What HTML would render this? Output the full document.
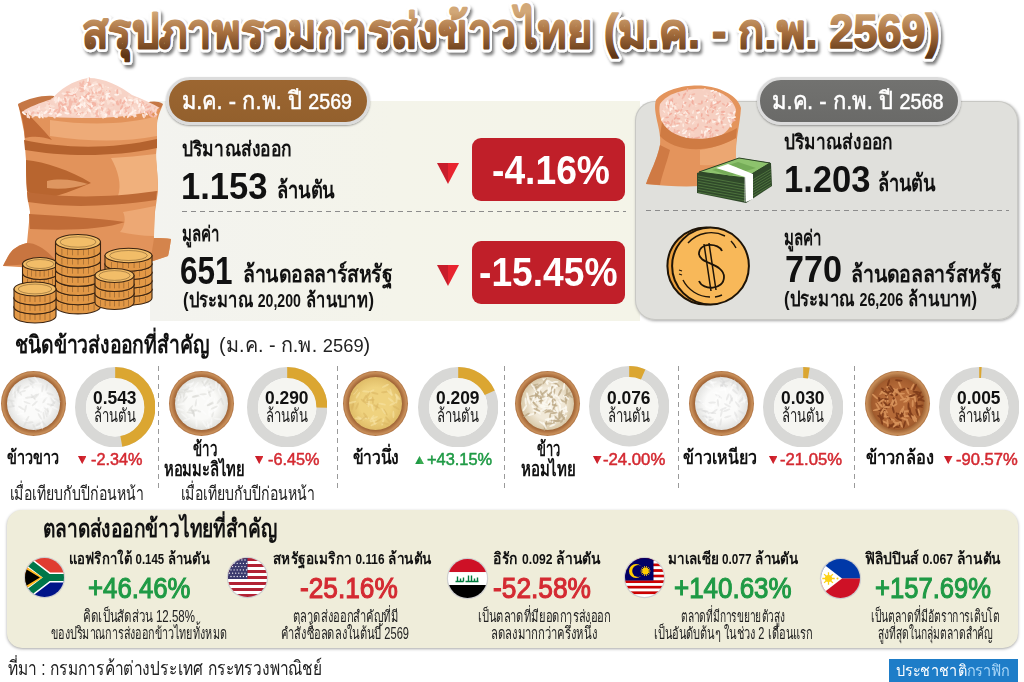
<!DOCTYPE html>
<html><head><meta charset="utf-8"><title>สรุปภาพรวมการส่งข้าวไทย</title>
<style>
*{margin:0;padding:0;box-sizing:border-box}
html,body{width:1024px;height:682px;overflow:hidden;background:#fff}
body{font-family:"Liberation Sans",sans-serif}
svg text{font-family:"Liberation Sans",sans-serif}
.pg{position:relative;width:1024px;height:682px;overflow:hidden;background:#fff}
.ab{position:absolute;display:block}
.t{position:absolute;white-space:nowrap;line-height:1;transform-origin:0 0}
.tsh{text-shadow:0 0 2px #fff,2px 0 0 #fff,-2px 0 0 #fff,0 2px 0 #fff,0 -2px 0 #fff,2px 2px 0 #fff,-2px -2px 0 #fff,2px -2px 0 #fff,-2px 2px 0 #fff,3px 0 0 #fff,-3px 0 0 #fff,0 3px 0 #fff,0 -3px 0 #fff,3px 4px 4px rgba(0,0,0,.55)}
.tgr{background:linear-gradient(180deg,#c99a68 0%,#a87244 45%,#6b3f1c 100%);-webkit-background-clip:text;background-clip:text;-webkit-text-fill-color:transparent;color:transparent}
.pill{border-radius:24px;border:3px solid #dcdcdc;box-shadow:0 1px 2px rgba(0,0,0,.35)}
.rbox{background:#c01f29;border-radius:9px}
.dash{height:1px;background:repeating-linear-gradient(90deg,#8c8c8c 0 5px,transparent 5px 9px)}
.vdash{width:1px;background:repeating-linear-gradient(180deg,#9a9a9a 0 5px,transparent 5px 9px)}
</style></head>
<body>
<div class="pg">
<div class="ab" style="left:150px;top:101px;width:490px;height:220px;background:linear-gradient(90deg,#f3f3ef 0%,#f4f4ea 50%,#f4f4e8 100%);"></div>
<div class="ab" style="left:635px;top:101px;width:383px;height:219px;background:#e0e0dc;border-radius:20px;box-shadow:1px 1px 3px rgba(0,0,0,.35), inset 0 0 0 1px #c8c8c4;"></div>
<svg class="ab" style="left:0;top:0" width="1024" height="80" viewBox="0 0 1024 80"><defs><linearGradient id="tg" x1="0" y1="12" x2="0" y2="56" gradientUnits="userSpaceOnUse"><stop offset="0" stop-color="#d2a878"/><stop offset="0.45" stop-color="#a8703f"/><stop offset="1" stop-color="#5e3515"/></linearGradient><filter id="tsh" x="-5%" y="-30%" width="110%" height="160%"><feDropShadow dx="2" dy="3" stdDeviation="1.8" flood-color="#000" flood-opacity="0.5"/></filter></defs><text x="82" y="48" font-size="48" font-weight="700" textLength="858" lengthAdjust="spacingAndGlyphs" fill="#fff" stroke="#fff" stroke-width="7" stroke-linejoin="round" filter="url(#tsh)">สรุปภาพรวมการส่งข้าวไทย (ม.ค. - ก.พ. 2569)</text><text x="82" y="48" font-size="48" font-weight="700" textLength="858" lengthAdjust="spacingAndGlyphs" fill="url(#tg)" stroke="url(#tg)" stroke-width="1.6" stroke-linejoin="round">สรุปภาพรวมการส่งข้าวไทย (ม.ค. - ก.พ. 2569)</text></svg>
<div class="ab pill" style="left:165.5px;top:76.5px;width:204.5px;height:48.5px;background:linear-gradient(180deg,#9c6631,#93602d);"></div>
<div id="t0" class="t" style="left:182.00px;transform:scaleX(0.8920);top:89.1px;font-size:24.5px;font-weight:400;color:#fff;-webkit-text-stroke:0.5px #fff;">ม.ค. - ก.พ. ปี <span style="font-size:22px">2569</span></div>
<div class="ab pill" style="left:756.5px;top:76.5px;width:204.5px;height:48.5px;background:linear-gradient(180deg,#727270,#6a6a68);"></div>
<div id="t1" class="t" style="left:772.00px;transform:scaleX(0.8999);top:89.1px;font-size:24.5px;font-weight:400;color:#fff;-webkit-text-stroke:0.5px #fff;">ม.ค. - ก.พ. ปี <span style="font-size:22px">2568</span></div>
<div id="t2" class="t" style="left:182.00px;transform:scaleX(0.8516);top:138.6px;font-size:20.5px;font-weight:700;color:#111;">ปริมาณส่งออก</div>
<div id="t3" class="t" style="left:180.50px;transform:scaleX(0.9217);top:168.1px;font-size:37.5px;font-weight:700;color:#111;">1.153</div>
<div id="t4" class="t" style="left:276.50px;transform:scaleX(0.7811);top:178.7px;font-size:23.5px;font-weight:700;color:#111;">ล้านตัน</div>
<div class="ab dash" style="left:182px;top:211px;width:444px;"></div>
<div id="t5" class="t" style="left:182.00px;transform:scaleX(0.7170);top:223.2px;font-size:21px;font-weight:700;color:#111;">มูลค่า</div>
<div id="t6" class="t" style="left:179.50px;transform:scaleX(0.8280);top:251.5px;font-size:38px;font-weight:700;color:#111;">651</div>
<div id="t7" class="t" style="left:243.00px;transform:scaleX(0.8287);top:263.3px;font-size:23.5px;font-weight:700;color:#111;">ล้านดอลลาร์สหรัฐ</div>
<div id="t8" class="t" style="left:182.50px;transform:scaleX(0.8073);top:289.6px;font-size:20.5px;font-weight:700;color:#111;">(ประมาณ <span style="font-size:17.5px">20,200</span> ล้านบาท)</div>
<svg class="ab" style="left:437px;top:162.5px" width="22" height="21" viewBox="0 0 22 21"><path d="M0,0 L11,0 L11,21Z" fill="#c71d2b"/><path d="M11,0 L22,0 L11,21Z" fill="#e8242f"/></svg>
<svg class="ab" style="left:437px;top:265px" width="22" height="21" viewBox="0 0 22 21"><path d="M0,0 L11,0 L11,21Z" fill="#c71d2b"/><path d="M11,0 L22,0 L11,21Z" fill="#e8242f"/></svg>
<div class="ab rbox" style="left:472px;top:138px;width:153px;height:63px;"></div>
<div id="t9" class="t" style="left:491.50px;transform:scaleX(0.9082);top:149.7px;font-size:41px;font-weight:700;color:#fff;">-4.16%</div>
<div class="ab rbox" style="left:472px;top:241px;width:153px;height:63px;"></div>
<div id="t10" class="t" style="left:478.60px;transform:scaleX(0.9069);top:252.2px;font-size:41px;font-weight:700;color:#fff;">-15.45%</div>
<div id="t11" class="t" style="left:784.20px;transform:scaleX(0.8438);top:132.1px;font-size:20.5px;font-weight:700;color:#111;">ปริมาณส่งออก</div>
<div id="t12" class="t" style="left:783.50px;transform:scaleX(0.9342);top:160.8px;font-size:37px;font-weight:700;color:#111;">1.203</div>
<div id="t13" class="t" style="left:878.40px;transform:scaleX(0.7770);top:172.0px;font-size:23.5px;font-weight:700;color:#111;">ล้านตัน</div>
<div class="ab dash" style="left:646px;top:210px;width:363px;"></div>
<div id="t14" class="t" style="left:783.70px;transform:scaleX(0.7170);top:227.0px;font-size:21px;font-weight:700;color:#111;">มูลค่า</div>
<div id="t15" class="t" style="left:784.50px;transform:scaleX(0.9109);top:251.1px;font-size:37.5px;font-weight:700;color:#111;">770</div>
<div id="t16" class="t" style="left:850.50px;transform:scaleX(0.8343);top:262.7px;font-size:23.5px;font-weight:700;color:#111;">ล้านดอลลาร์สหรัฐ</div>
<div id="t17" class="t" style="left:783.50px;transform:scaleX(0.8157);top:288.6px;font-size:20.5px;font-weight:700;color:#111;">(ประมาณ <span style="font-size:17.5px">26,206</span> ล้านบาท)</div>
<svg class="ab" style="left:0;top:70px" width="180" height="260" viewBox="0 70 180 260"><path d="M18,104 C40,110 70,116 95,116 C125,116 148,110 163,104 C160,112 157,118 157,126 C157,134 157,140 157,146 C156,152 156,156 156,160 C157,170 158,180 158,191 C157,198 156,205 155,212 C154,222 154,232 154,238 C160,238 166,238 171,239 C170,246 169,252 168,256 L150,262 L100,272 L3,266 C7,258 10,252 14,249 C18,246 22,244 27,243 C28,232 29,222 30,212 C29,205 27,198 27,191 C26,180 26,170 26,160 C25,150 25,140 24,132 C22,122 20,112 18,104 Z" fill="#e2935b"/><path d="M50,120 C90,126 130,124 157,116 L157,136 C125,142 90,142 50,136 Z" fill="#eeab78"/><path d="M18,104 C22,116 24,126 25,138 C32,136 42,136 52,140 C42,128 30,116 18,104 Z" fill="#c06a36"/><path d="M24,140 C60,148 110,150 157,139 L157,148 C110,158 60,156 25,150 Z" fill="#b4622e"/><path d="M26,160 C45,162 70,170 91,183 C75,190 58,196 41,200 C35,196 30,194 27,191 C26,180 26,170 26,160 Z" fill="#b8652f"/><path d="M47,181 C60,178 75,180 88,184 C75,188 60,190 47,188 Z" fill="#de9660"/><path d="M111,158 C125,157 140,156 156,154 C157,170 158,180 158,191 C145,194 130,196 118,196 C122,185 118,170 111,158 Z" fill="#f0b07c"/><path d="M27,192 C60,197 100,199 157,191 L156,200 C100,208 60,207 28,202 Z" fill="#bd6a36"/><path d="M29,214 C60,216 95,218 125,222 C105,229 70,231 30,229 Z" fill="#c06c38"/><path d="M123,212 C135,210 145,208 155,206 L154,236 C142,236 130,234 120,232 C125,226 126,218 123,212 Z" fill="#eda874"/><path d="M27,243 C37,243 47,250 57,262 L3,266 C7,258 10,252 14,249 C18,246 22,244 27,243 Z" fill="#c87540"/><path d="M154,238 C160,238 166,238 171,239 C170,246 169,252 168,256 L150,262 C152,252 153,245 154,238 Z" fill="#d4844c"/><path d="M18,104 C30,98 42,95 54,96 L56,103 C42,104 30,107 22,111 Z" fill="#c57745"/><path d="M146,103 C152,101 158,101 163,104 L160,109 L148,108Z" fill="#c57745"/><path d="M22,112 C28,107 40,103 52,99 C60,89 72,81 88,78 C105,78 120,86 132,95 C142,99 152,103 160,108 C140,116 110,118 90,118 C60,118 40,117 22,112 Z" fill="#f7d3c6"/><ellipse cx="55.9" cy="99.3" rx="2.6" ry="1.1" fill="#fbe0d4" transform="rotate(67 55.9 99.3)"/><ellipse cx="87.5" cy="100.8" rx="2.6" ry="1.1" fill="#fff3ed" transform="rotate(109 87.5 100.8)"/><ellipse cx="109.1" cy="112.6" rx="2.6" ry="1.1" fill="#f4b6a6" transform="rotate(94 109.1 112.6)"/><ellipse cx="45.4" cy="116.3" rx="2.6" ry="1.1" fill="#f9d8cb" transform="rotate(8 45.4 116.3)"/><ellipse cx="103.7" cy="114.7" rx="2.6" ry="1.1" fill="#fff3ed" transform="rotate(70 103.7 114.7)"/><ellipse cx="76.9" cy="109.8" rx="2.6" ry="1.1" fill="#fde7de" transform="rotate(80 76.9 109.8)"/><ellipse cx="108.0" cy="89.3" rx="2.6" ry="1.1" fill="#fff3ed" transform="rotate(91 108.0 89.3)"/><ellipse cx="100.9" cy="98.9" rx="2.6" ry="1.1" fill="#fde7de" transform="rotate(73 100.9 98.9)"/><ellipse cx="145.2" cy="105.0" rx="2.6" ry="1.1" fill="#f5bcac" transform="rotate(167 145.2 105.0)"/><ellipse cx="45.9" cy="112.3" rx="2.6" ry="1.1" fill="#fbe0d4" transform="rotate(174 45.9 112.3)"/><ellipse cx="100.3" cy="106.3" rx="2.6" ry="1.1" fill="#fbe0d4" transform="rotate(38 100.3 106.3)"/><ellipse cx="88.6" cy="103.2" rx="2.6" ry="1.1" fill="#f5bcac" transform="rotate(87 88.6 103.2)"/><ellipse cx="127.0" cy="112.8" rx="2.6" ry="1.1" fill="#fbe0d4" transform="rotate(8 127.0 112.8)"/><ellipse cx="102.6" cy="99.6" rx="2.6" ry="1.1" fill="#f5bcac" transform="rotate(166 102.6 99.6)"/><ellipse cx="29.7" cy="112.6" rx="2.6" ry="1.1" fill="#fde7de" transform="rotate(56 29.7 112.6)"/><ellipse cx="85.7" cy="98.3" rx="2.6" ry="1.1" fill="#fbe0d4" transform="rotate(116 85.7 98.3)"/><ellipse cx="154.4" cy="110.3" rx="2.6" ry="1.1" fill="#f4b6a6" transform="rotate(49 154.4 110.3)"/><ellipse cx="93.8" cy="99.5" rx="2.6" ry="1.1" fill="#fff3ed" transform="rotate(2 93.8 99.5)"/><ellipse cx="74.5" cy="101.2" rx="2.6" ry="1.1" fill="#f4b6a6" transform="rotate(24 74.5 101.2)"/><ellipse cx="108.1" cy="96.1" rx="2.6" ry="1.1" fill="#f5bcac" transform="rotate(122 108.1 96.1)"/><ellipse cx="105.6" cy="88.4" rx="2.6" ry="1.1" fill="#fbe0d4" transform="rotate(88 105.6 88.4)"/><ellipse cx="85.1" cy="101.3" rx="2.6" ry="1.1" fill="#f5bcac" transform="rotate(58 85.1 101.3)"/><ellipse cx="48.8" cy="108.1" rx="2.6" ry="1.1" fill="#f5bcac" transform="rotate(152 48.8 108.1)"/><ellipse cx="100.3" cy="107.1" rx="2.6" ry="1.1" fill="#fde7de" transform="rotate(56 100.3 107.1)"/><ellipse cx="67.9" cy="104.8" rx="2.6" ry="1.1" fill="#f9d8cb" transform="rotate(117 67.9 104.8)"/><ellipse cx="68.7" cy="111.2" rx="2.6" ry="1.1" fill="#fde7de" transform="rotate(79 68.7 111.2)"/><ellipse cx="53.2" cy="100.3" rx="2.6" ry="1.1" fill="#f9d8cb" transform="rotate(49 53.2 100.3)"/><ellipse cx="28.5" cy="116.3" rx="2.6" ry="1.1" fill="#fbe0d4" transform="rotate(57 28.5 116.3)"/><ellipse cx="132.2" cy="103.3" rx="2.6" ry="1.1" fill="#f5bcac" transform="rotate(145 132.2 103.3)"/><ellipse cx="103.0" cy="94.3" rx="2.6" ry="1.1" fill="#f5bcac" transform="rotate(93 103.0 94.3)"/><ellipse cx="86.3" cy="103.0" rx="2.6" ry="1.1" fill="#fbe0d4" transform="rotate(52 86.3 103.0)"/><ellipse cx="78.9" cy="114.7" rx="2.6" ry="1.1" fill="#f9d8cb" transform="rotate(28 78.9 114.7)"/><ellipse cx="88.0" cy="111.1" rx="2.6" ry="1.1" fill="#fbe0d4" transform="rotate(112 88.0 111.1)"/><ellipse cx="82.2" cy="116.0" rx="2.6" ry="1.1" fill="#fde7de" transform="rotate(167 82.2 116.0)"/><ellipse cx="125.0" cy="107.7" rx="2.6" ry="1.1" fill="#fbe0d4" transform="rotate(173 125.0 107.7)"/><ellipse cx="62.5" cy="110.2" rx="2.6" ry="1.1" fill="#f4b6a6" transform="rotate(8 62.5 110.2)"/><ellipse cx="92.6" cy="85.1" rx="2.6" ry="1.1" fill="#fff3ed" transform="rotate(159 92.6 85.1)"/><ellipse cx="64.2" cy="104.2" rx="2.6" ry="1.1" fill="#fff3ed" transform="rotate(94 64.2 104.2)"/><ellipse cx="31.1" cy="114.4" rx="2.6" ry="1.1" fill="#fde7de" transform="rotate(20 31.1 114.4)"/><ellipse cx="57.8" cy="112.3" rx="2.6" ry="1.1" fill="#f9d8cb" transform="rotate(86 57.8 112.3)"/><ellipse cx="95.6" cy="110.5" rx="2.6" ry="1.1" fill="#f5bcac" transform="rotate(31 95.6 110.5)"/><ellipse cx="147.5" cy="110.0" rx="2.6" ry="1.1" fill="#f9d8cb" transform="rotate(148 147.5 110.0)"/><ellipse cx="89.3" cy="100.4" rx="2.6" ry="1.1" fill="#f5bcac" transform="rotate(72 89.3 100.4)"/><ellipse cx="57.3" cy="102.3" rx="2.6" ry="1.1" fill="#f9d8cb" transform="rotate(94 57.3 102.3)"/><ellipse cx="87.4" cy="108.8" rx="2.6" ry="1.1" fill="#f9d8cb" transform="rotate(0 87.4 108.8)"/><ellipse cx="93.1" cy="97.1" rx="2.6" ry="1.1" fill="#f9d8cb" transform="rotate(28 93.1 97.1)"/><ellipse cx="71.1" cy="103.5" rx="2.6" ry="1.1" fill="#f5bcac" transform="rotate(106 71.1 103.5)"/><ellipse cx="130.6" cy="100.2" rx="2.6" ry="1.1" fill="#fff3ed" transform="rotate(8 130.6 100.2)"/><ellipse cx="105.0" cy="109.1" rx="2.6" ry="1.1" fill="#f9d8cb" transform="rotate(68 105.0 109.1)"/><ellipse cx="107.5" cy="94.7" rx="2.6" ry="1.1" fill="#fff3ed" transform="rotate(67 107.5 94.7)"/><ellipse cx="60.2" cy="101.2" rx="2.6" ry="1.1" fill="#fde7de" transform="rotate(145 60.2 101.2)"/><ellipse cx="81.1" cy="113.1" rx="2.6" ry="1.1" fill="#f5bcac" transform="rotate(169 81.1 113.1)"/><ellipse cx="116.5" cy="115.5" rx="2.6" ry="1.1" fill="#fbe0d4" transform="rotate(132 116.5 115.5)"/><ellipse cx="130.2" cy="104.4" rx="2.6" ry="1.1" fill="#fbe0d4" transform="rotate(132 130.2 104.4)"/><ellipse cx="95.3" cy="110.3" rx="2.6" ry="1.1" fill="#fff3ed" transform="rotate(129 95.3 110.3)"/><ellipse cx="43.2" cy="108.7" rx="2.6" ry="1.1" fill="#f9d8cb" transform="rotate(8 43.2 108.7)"/><ellipse cx="99.6" cy="104.0" rx="2.6" ry="1.1" fill="#f9d8cb" transform="rotate(68 99.6 104.0)"/><ellipse cx="69.8" cy="111.9" rx="2.6" ry="1.1" fill="#f9d8cb" transform="rotate(5 69.8 111.9)"/><ellipse cx="114.3" cy="111.3" rx="2.6" ry="1.1" fill="#fbe0d4" transform="rotate(171 114.3 111.3)"/><ellipse cx="94.9" cy="86.8" rx="2.6" ry="1.1" fill="#f9d8cb" transform="rotate(100 94.9 86.8)"/><ellipse cx="67.4" cy="100.1" rx="2.6" ry="1.1" fill="#fde7de" transform="rotate(149 67.4 100.1)"/><ellipse cx="84.9" cy="105.7" rx="2.6" ry="1.1" fill="#f5bcac" transform="rotate(170 84.9 105.7)"/><ellipse cx="73.2" cy="93.3" rx="2.6" ry="1.1" fill="#fff3ed" transform="rotate(63 73.2 93.3)"/><ellipse cx="55.5" cy="115.1" rx="2.6" ry="1.1" fill="#fde7de" transform="rotate(152 55.5 115.1)"/><ellipse cx="79.6" cy="100.3" rx="2.6" ry="1.1" fill="#fbe0d4" transform="rotate(104 79.6 100.3)"/><ellipse cx="77.7" cy="113.4" rx="2.6" ry="1.1" fill="#fff3ed" transform="rotate(29 77.7 113.4)"/><ellipse cx="124.3" cy="114.6" rx="2.6" ry="1.1" fill="#fff3ed" transform="rotate(93 124.3 114.6)"/><ellipse cx="102.6" cy="112.2" rx="2.6" ry="1.1" fill="#fde7de" transform="rotate(25 102.6 112.2)"/><ellipse cx="149.3" cy="111.9" rx="2.6" ry="1.1" fill="#f5bcac" transform="rotate(97 149.3 111.9)"/><ellipse cx="114.0" cy="112.1" rx="2.6" ry="1.1" fill="#fbe0d4" transform="rotate(107 114.0 112.1)"/><ellipse cx="102.3" cy="88.0" rx="2.6" ry="1.1" fill="#f9d8cb" transform="rotate(39 102.3 88.0)"/><ellipse cx="59.9" cy="110.0" rx="2.6" ry="1.1" fill="#fbe0d4" transform="rotate(36 59.9 110.0)"/><ellipse cx="72.3" cy="90.2" rx="2.6" ry="1.1" fill="#fde7de" transform="rotate(139 72.3 90.2)"/><ellipse cx="80.1" cy="105.6" rx="2.6" ry="1.1" fill="#fde7de" transform="rotate(126 80.1 105.6)"/><ellipse cx="86.7" cy="111.2" rx="2.6" ry="1.1" fill="#fbe0d4" transform="rotate(148 86.7 111.2)"/><ellipse cx="33.7" cy="115.8" rx="2.6" ry="1.1" fill="#f9d8cb" transform="rotate(141 33.7 115.8)"/><ellipse cx="86.6" cy="86.4" rx="2.6" ry="1.1" fill="#f4b6a6" transform="rotate(42 86.6 86.4)"/><ellipse cx="143.3" cy="108.8" rx="2.6" ry="1.1" fill="#fbe0d4" transform="rotate(25 143.3 108.8)"/><ellipse cx="118.4" cy="112.2" rx="2.6" ry="1.1" fill="#f5bcac" transform="rotate(162 118.4 112.2)"/><ellipse cx="59.4" cy="114.5" rx="2.6" ry="1.1" fill="#fff3ed" transform="rotate(7 59.4 114.5)"/><ellipse cx="101.8" cy="104.7" rx="2.6" ry="1.1" fill="#f5bcac" transform="rotate(1 101.8 104.7)"/><ellipse cx="68.4" cy="92.6" rx="2.6" ry="1.1" fill="#f4b6a6" transform="rotate(14 68.4 92.6)"/><ellipse cx="102.4" cy="116.2" rx="2.6" ry="1.1" fill="#fbe0d4" transform="rotate(70 102.4 116.2)"/><ellipse cx="66.7" cy="113.2" rx="2.6" ry="1.1" fill="#fff3ed" transform="rotate(14 66.7 113.2)"/><ellipse cx="39.1" cy="113.4" rx="2.6" ry="1.1" fill="#f9d8cb" transform="rotate(164 39.1 113.4)"/><ellipse cx="94.7" cy="105.7" rx="2.6" ry="1.1" fill="#f5bcac" transform="rotate(122 94.7 105.7)"/><ellipse cx="114.6" cy="103.8" rx="2.6" ry="1.1" fill="#f5bcac" transform="rotate(145 114.6 103.8)"/><ellipse cx="38.4" cy="115.7" rx="2.6" ry="1.1" fill="#fbe0d4" transform="rotate(61 38.4 115.7)"/><ellipse cx="90.2" cy="91.4" rx="2.6" ry="1.1" fill="#f4b6a6" transform="rotate(129 90.2 91.4)"/><ellipse cx="121.5" cy="107.4" rx="2.6" ry="1.1" fill="#f4b6a6" transform="rotate(116 121.5 107.4)"/><ellipse cx="143.2" cy="103.9" rx="2.6" ry="1.1" fill="#fbe0d4" transform="rotate(22 143.2 103.9)"/><ellipse cx="120.5" cy="101.5" rx="2.6" ry="1.1" fill="#f4b6a6" transform="rotate(100 120.5 101.5)"/><ellipse cx="128.8" cy="105.9" rx="2.6" ry="1.1" fill="#fde7de" transform="rotate(19 128.8 105.9)"/><ellipse cx="125.1" cy="99.3" rx="2.6" ry="1.1" fill="#f5bcac" transform="rotate(133 125.1 99.3)"/><ellipse cx="88.1" cy="88.1" rx="2.6" ry="1.1" fill="#fbe0d4" transform="rotate(125 88.1 88.1)"/><ellipse cx="71.5" cy="90.6" rx="2.6" ry="1.1" fill="#fbe0d4" transform="rotate(73 71.5 90.6)"/><ellipse cx="115.3" cy="100.1" rx="2.6" ry="1.1" fill="#f9d8cb" transform="rotate(164 115.3 100.1)"/><ellipse cx="79.8" cy="107.5" rx="2.6" ry="1.1" fill="#f4b6a6" transform="rotate(147 79.8 107.5)"/><ellipse cx="139.2" cy="109.7" rx="2.6" ry="1.1" fill="#fde7de" transform="rotate(98 139.2 109.7)"/><ellipse cx="100.2" cy="85.3" rx="2.6" ry="1.1" fill="#f5bcac" transform="rotate(45 100.2 85.3)"/><ellipse cx="143.4" cy="115.9" rx="2.6" ry="1.1" fill="#fbe0d4" transform="rotate(69 143.4 115.9)"/><ellipse cx="90.7" cy="98.7" rx="2.6" ry="1.1" fill="#f4b6a6" transform="rotate(127 90.7 98.7)"/><ellipse cx="88.9" cy="101.7" rx="2.6" ry="1.1" fill="#f9d8cb" transform="rotate(131 88.9 101.7)"/><ellipse cx="38.4" cy="108.0" rx="2.6" ry="1.1" fill="#fde7de" transform="rotate(42 38.4 108.0)"/><ellipse cx="94.2" cy="95.9" rx="2.6" ry="1.1" fill="#fbe0d4" transform="rotate(35 94.2 95.9)"/><ellipse cx="52.4" cy="110.3" rx="2.6" ry="1.1" fill="#fff3ed" transform="rotate(167 52.4 110.3)"/><ellipse cx="86.6" cy="80.6" rx="2.6" ry="1.1" fill="#f9d8cb" transform="rotate(166 86.6 80.6)"/><ellipse cx="140.6" cy="105.5" rx="2.6" ry="1.1" fill="#fbe0d4" transform="rotate(24 140.6 105.5)"/><ellipse cx="66.3" cy="109.3" rx="2.6" ry="1.1" fill="#fde7de" transform="rotate(74 66.3 109.3)"/><ellipse cx="118.6" cy="93.1" rx="2.6" ry="1.1" fill="#f9d8cb" transform="rotate(85 118.6 93.1)"/><ellipse cx="96.0" cy="94.3" rx="2.6" ry="1.1" fill="#f5bcac" transform="rotate(117 96.0 94.3)"/><ellipse cx="116.6" cy="95.0" rx="2.6" ry="1.1" fill="#f9d8cb" transform="rotate(82 116.6 95.0)"/><ellipse cx="120.4" cy="92.0" rx="2.6" ry="1.1" fill="#fbe0d4" transform="rotate(67 120.4 92.0)"/><ellipse cx="72.4" cy="93.5" rx="2.6" ry="1.1" fill="#fde7de" transform="rotate(175 72.4 93.5)"/><ellipse cx="102.3" cy="97.6" rx="2.6" ry="1.1" fill="#fde7de" transform="rotate(115 102.3 97.6)"/><ellipse cx="78.6" cy="105.8" rx="2.6" ry="1.1" fill="#fff3ed" transform="rotate(9 78.6 105.8)"/><ellipse cx="145.8" cy="113.2" rx="2.6" ry="1.1" fill="#fff3ed" transform="rotate(43 145.8 113.2)"/><ellipse cx="87.6" cy="83.8" rx="2.6" ry="1.1" fill="#f5bcac" transform="rotate(112 87.6 83.8)"/><ellipse cx="155.5" cy="115.6" rx="2.6" ry="1.1" fill="#f5bcac" transform="rotate(142 155.5 115.6)"/><ellipse cx="89.5" cy="100.0" rx="2.6" ry="1.1" fill="#f5bcac" transform="rotate(5 89.5 100.0)"/><ellipse cx="108.3" cy="91.1" rx="2.6" ry="1.1" fill="#f4b6a6" transform="rotate(17 108.3 91.1)"/><ellipse cx="91.4" cy="96.8" rx="2.6" ry="1.1" fill="#fbe0d4" transform="rotate(34 91.4 96.8)"/><ellipse cx="131.7" cy="114.6" rx="2.6" ry="1.1" fill="#f9d8cb" transform="rotate(169 131.7 114.6)"/><ellipse cx="75.2" cy="107.8" rx="2.6" ry="1.1" fill="#fff3ed" transform="rotate(114 75.2 107.8)"/><ellipse cx="76.2" cy="90.7" rx="2.6" ry="1.1" fill="#fff3ed" transform="rotate(122 76.2 90.7)"/><ellipse cx="47.4" cy="107.3" rx="2.6" ry="1.1" fill="#fbe0d4" transform="rotate(132 47.4 107.3)"/><ellipse cx="83.6" cy="105.8" rx="2.6" ry="1.1" fill="#fde7de" transform="rotate(62 83.6 105.8)"/><ellipse cx="91.9" cy="107.9" rx="2.6" ry="1.1" fill="#f4b6a6" transform="rotate(165 91.9 107.9)"/><ellipse cx="75.8" cy="97.0" rx="2.6" ry="1.1" fill="#f4b6a6" transform="rotate(28 75.8 97.0)"/><ellipse cx="124.7" cy="110.7" rx="2.6" ry="1.1" fill="#f4b6a6" transform="rotate(17 124.7 110.7)"/><ellipse cx="55.8" cy="111.6" rx="2.6" ry="1.1" fill="#fbe0d4" transform="rotate(116 55.8 111.6)"/><ellipse cx="144.2" cy="107.0" rx="2.6" ry="1.1" fill="#f5bcac" transform="rotate(60 144.2 107.0)"/><ellipse cx="129.4" cy="114.5" rx="2.6" ry="1.1" fill="#f5bcac" transform="rotate(61 129.4 114.5)"/><ellipse cx="110.4" cy="101.0" rx="2.6" ry="1.1" fill="#fde7de" transform="rotate(2 110.4 101.0)"/><ellipse cx="91.7" cy="114.2" rx="2.6" ry="1.1" fill="#fbe0d4" transform="rotate(57 91.7 114.2)"/><ellipse cx="128.8" cy="96.2" rx="2.6" ry="1.1" fill="#f9d8cb" transform="rotate(112 128.8 96.2)"/><ellipse cx="50.7" cy="113.6" rx="2.6" ry="1.1" fill="#fff3ed" transform="rotate(15 50.7 113.6)"/><ellipse cx="77.5" cy="110.8" rx="2.6" ry="1.1" fill="#f9d8cb" transform="rotate(123 77.5 110.8)"/><ellipse cx="110.0" cy="108.2" rx="2.6" ry="1.1" fill="#f5bcac" transform="rotate(157 110.0 108.2)"/><ellipse cx="78.0" cy="104.1" rx="2.6" ry="1.1" fill="#f5bcac" transform="rotate(140 78.0 104.1)"/><ellipse cx="135.9" cy="101.4" rx="2.6" ry="1.1" fill="#fde7de" transform="rotate(147 135.9 101.4)"/><ellipse cx="64.1" cy="103.3" rx="2.6" ry="1.1" fill="#fde7de" transform="rotate(61 64.1 103.3)"/><ellipse cx="88.9" cy="79.9" rx="2.6" ry="1.1" fill="#f4b6a6" transform="rotate(99 88.9 79.9)"/><ellipse cx="72.9" cy="109.1" rx="2.6" ry="1.1" fill="#fbe0d4" transform="rotate(12 72.9 109.1)"/><ellipse cx="148.7" cy="106.8" rx="2.6" ry="1.1" fill="#f4b6a6" transform="rotate(157 148.7 106.8)"/><ellipse cx="106.0" cy="115.2" rx="2.6" ry="1.1" fill="#fff3ed" transform="rotate(96 106.0 115.2)"/><ellipse cx="107.6" cy="93.8" rx="2.6" ry="1.1" fill="#fff3ed" transform="rotate(161 107.6 93.8)"/><ellipse cx="86.9" cy="101.1" rx="2.6" ry="1.1" fill="#f9d8cb" transform="rotate(6 86.9 101.1)"/><ellipse cx="93.6" cy="103.2" rx="2.6" ry="1.1" fill="#f4b6a6" transform="rotate(7 93.6 103.2)"/><ellipse cx="50.4" cy="109.1" rx="2.6" ry="1.1" fill="#fff3ed" transform="rotate(26 50.4 109.1)"/><ellipse cx="64.1" cy="93.9" rx="2.6" ry="1.1" fill="#fde7de" transform="rotate(14 64.1 93.9)"/><ellipse cx="89.3" cy="110.2" rx="2.6" ry="1.1" fill="#fff3ed" transform="rotate(51 89.3 110.2)"/><ellipse cx="155.3" cy="112.9" rx="2.6" ry="1.1" fill="#fde7de" transform="rotate(67 155.3 112.9)"/><ellipse cx="81.8" cy="115.5" rx="2.6" ry="1.1" fill="#fbe0d4" transform="rotate(85 81.8 115.5)"/><ellipse cx="53.8" cy="116.2" rx="2.6" ry="1.1" fill="#f9d8cb" transform="rotate(52 53.8 116.2)"/><ellipse cx="86.1" cy="113.4" rx="2.6" ry="1.1" fill="#f5bcac" transform="rotate(145 86.1 113.4)"/><ellipse cx="124.2" cy="115.1" rx="2.6" ry="1.1" fill="#f9d8cb" transform="rotate(94 124.2 115.1)"/><ellipse cx="95.8" cy="83.8" rx="2.6" ry="1.1" fill="#fde7de" transform="rotate(9 95.8 83.8)"/><ellipse cx="155.8" cy="109.5" rx="2.6" ry="1.1" fill="#f5bcac" transform="rotate(64 155.8 109.5)"/><ellipse cx="81.9" cy="90.9" rx="2.6" ry="1.1" fill="#fbe0d4" transform="rotate(9 81.9 90.9)"/><ellipse cx="59.1" cy="104.6" rx="2.6" ry="1.1" fill="#f4b6a6" transform="rotate(90 59.1 104.6)"/><ellipse cx="81.6" cy="102.7" rx="2.6" ry="1.1" fill="#fbe0d4" transform="rotate(122 81.6 102.7)"/><ellipse cx="125.6" cy="109.4" rx="2.6" ry="1.1" fill="#f5bcac" transform="rotate(92 125.6 109.4)"/><ellipse cx="97.9" cy="88.5" rx="2.6" ry="1.1" fill="#f9d8cb" transform="rotate(30 97.9 88.5)"/><ellipse cx="93.8" cy="107.9" rx="2.6" ry="1.1" fill="#fbe0d4" transform="rotate(155 93.8 107.9)"/><ellipse cx="93.0" cy="92.2" rx="2.6" ry="1.1" fill="#f5bcac" transform="rotate(114 93.0 92.2)"/><ellipse cx="48.5" cy="105.0" rx="2.6" ry="1.1" fill="#fbe0d4" transform="rotate(179 48.5 105.0)"/><ellipse cx="37.6" cy="108.7" rx="2.6" ry="1.1" fill="#f5bcac" transform="rotate(80 37.6 108.7)"/><ellipse cx="66.2" cy="98.4" rx="2.6" ry="1.1" fill="#fde7de" transform="rotate(74 66.2 98.4)"/><ellipse cx="134.9" cy="115.2" rx="2.6" ry="1.1" fill="#f9d8cb" transform="rotate(110 134.9 115.2)"/><ellipse cx="66.4" cy="101.5" rx="2.6" ry="1.1" fill="#fde7de" transform="rotate(21 66.4 101.5)"/><ellipse cx="61.5" cy="106.1" rx="2.6" ry="1.1" fill="#f9d8cb" transform="rotate(164 61.5 106.1)"/><ellipse cx="124.8" cy="110.9" rx="2.6" ry="1.1" fill="#f5bcac" transform="rotate(81 124.8 110.9)"/><ellipse cx="75.4" cy="111.0" rx="2.6" ry="1.1" fill="#f5bcac" transform="rotate(57 75.4 111.0)"/><ellipse cx="66.4" cy="102.0" rx="2.6" ry="1.1" fill="#f9d8cb" transform="rotate(100 66.4 102.0)"/><ellipse cx="123.6" cy="111.4" rx="2.6" ry="1.1" fill="#f9d8cb" transform="rotate(114 123.6 111.4)"/><ellipse cx="116.7" cy="94.7" rx="2.6" ry="1.1" fill="#fff3ed" transform="rotate(177 116.7 94.7)"/><ellipse cx="59.9" cy="99.4" rx="2.6" ry="1.1" fill="#fde7de" transform="rotate(8 59.9 99.4)"/><ellipse cx="89.2" cy="83.9" rx="2.6" ry="1.1" fill="#f4b6a6" transform="rotate(27 89.2 83.9)"/><ellipse cx="114.4" cy="103.5" rx="2.6" ry="1.1" fill="#f9d8cb" transform="rotate(26 114.4 103.5)"/><ellipse cx="48.2" cy="102.7" rx="2.6" ry="1.1" fill="#f4b6a6" transform="rotate(56 48.2 102.7)"/><ellipse cx="134.2" cy="112.9" rx="2.6" ry="1.1" fill="#fde7de" transform="rotate(9 134.2 112.9)"/><ellipse cx="95.7" cy="92.7" rx="2.6" ry="1.1" fill="#fff3ed" transform="rotate(19 95.7 92.7)"/><ellipse cx="88.1" cy="79.6" rx="2.6" ry="1.1" fill="#fff3ed" transform="rotate(98 88.1 79.6)"/><ellipse cx="37.9" cy="111.7" rx="2.6" ry="1.1" fill="#f4b6a6" transform="rotate(85 37.9 111.7)"/><ellipse cx="70.3" cy="107.7" rx="2.6" ry="1.1" fill="#fbe0d4" transform="rotate(141 70.3 107.7)"/><ellipse cx="78.6" cy="99.1" rx="2.6" ry="1.1" fill="#fde7de" transform="rotate(55 78.6 99.1)"/><ellipse cx="95.6" cy="111.2" rx="2.6" ry="1.1" fill="#fbe0d4" transform="rotate(36 95.6 111.2)"/><ellipse cx="63.6" cy="107.7" rx="2.6" ry="1.1" fill="#f5bcac" transform="rotate(135 63.6 107.7)"/><ellipse cx="153.1" cy="111.4" rx="2.6" ry="1.1" fill="#f5bcac" transform="rotate(30 153.1 111.4)"/><ellipse cx="100.2" cy="92.3" rx="2.6" ry="1.1" fill="#f5bcac" transform="rotate(125 100.2 92.3)"/><ellipse cx="83.1" cy="83.0" rx="2.6" ry="1.1" fill="#f5bcac" transform="rotate(108 83.1 83.0)"/><ellipse cx="85.1" cy="100.1" rx="2.6" ry="1.1" fill="#fbe0d4" transform="rotate(115 85.1 100.1)"/><ellipse cx="72.0" cy="101.6" rx="2.6" ry="1.1" fill="#f5bcac" transform="rotate(176 72.0 101.6)"/><ellipse cx="139.5" cy="111.2" rx="2.6" ry="1.1" fill="#f5bcac" transform="rotate(52 139.5 111.2)"/><ellipse cx="91.1" cy="107.0" rx="2.6" ry="1.1" fill="#f4b6a6" transform="rotate(61 91.1 107.0)"/><ellipse cx="68.8" cy="109.3" rx="2.6" ry="1.1" fill="#fbe0d4" transform="rotate(32 68.8 109.3)"/><ellipse cx="94.8" cy="95.1" rx="2.6" ry="1.1" fill="#f9d8cb" transform="rotate(111 94.8 95.1)"/><ellipse cx="79.9" cy="99.5" rx="2.6" ry="1.1" fill="#f5bcac" transform="rotate(110 79.9 99.5)"/><ellipse cx="32.0" cy="112.0" rx="2.6" ry="1.1" fill="#f9d8cb" transform="rotate(69 32.0 112.0)"/><ellipse cx="97.5" cy="113.2" rx="2.6" ry="1.1" fill="#fff3ed" transform="rotate(78 97.5 113.2)"/><ellipse cx="119.3" cy="91.8" rx="2.6" ry="1.1" fill="#fbe0d4" transform="rotate(54 119.3 91.8)"/><ellipse cx="73.7" cy="95.0" rx="2.6" ry="1.1" fill="#f4b6a6" transform="rotate(163 73.7 95.0)"/><ellipse cx="141.3" cy="101.0" rx="2.6" ry="1.1" fill="#fde7de" transform="rotate(26 141.3 101.0)"/><ellipse cx="24.0" cy="113.3" rx="2.6" ry="1.1" fill="#fff3ed" transform="rotate(38 24.0 113.3)"/><ellipse cx="96.2" cy="114.8" rx="2.6" ry="1.1" fill="#f4b6a6" transform="rotate(96 96.2 114.8)"/><ellipse cx="72.8" cy="106.6" rx="2.6" ry="1.1" fill="#fde7de" transform="rotate(144 72.8 106.6)"/><ellipse cx="83.1" cy="105.0" rx="2.6" ry="1.1" fill="#fff3ed" transform="rotate(22 83.1 105.0)"/><ellipse cx="65.1" cy="99.7" rx="2.6" ry="1.1" fill="#fde7de" transform="rotate(21 65.1 99.7)"/><ellipse cx="76.1" cy="98.0" rx="2.6" ry="1.1" fill="#f4b6a6" transform="rotate(78 76.1 98.0)"/><ellipse cx="62.4" cy="103.3" rx="2.6" ry="1.1" fill="#f9d8cb" transform="rotate(134 62.4 103.3)"/><ellipse cx="32.6" cy="113.0" rx="2.6" ry="1.1" fill="#f5bcac" transform="rotate(134 32.6 113.0)"/><ellipse cx="88.3" cy="94.3" rx="2.6" ry="1.1" fill="#f4b6a6" transform="rotate(161 88.3 94.3)"/><ellipse cx="68.4" cy="94.2" rx="2.6" ry="1.1" fill="#f5bcac" transform="rotate(105 68.4 94.2)"/><ellipse cx="27.6" cy="115.3" rx="2.6" ry="1.1" fill="#fbe0d4" transform="rotate(94 27.6 115.3)"/><ellipse cx="134.0" cy="110.8" rx="2.6" ry="1.1" fill="#fff3ed" transform="rotate(165 134.0 110.8)"/><ellipse cx="112.6" cy="98.7" rx="2.6" ry="1.1" fill="#f5bcac" transform="rotate(36 112.6 98.7)"/><ellipse cx="69.9" cy="101.1" rx="2.6" ry="1.1" fill="#f5bcac" transform="rotate(105 69.9 101.1)"/><ellipse cx="107.1" cy="91.5" rx="2.6" ry="1.1" fill="#fbe0d4" transform="rotate(138 107.1 91.5)"/><ellipse cx="138.9" cy="107.3" rx="2.6" ry="1.1" fill="#f9d8cb" transform="rotate(37 138.9 107.3)"/><ellipse cx="120.7" cy="112.2" rx="2.6" ry="1.1" fill="#fff3ed" transform="rotate(113 120.7 112.2)"/><ellipse cx="134.3" cy="115.4" rx="2.6" ry="1.1" fill="#fbe0d4" transform="rotate(22 134.3 115.4)"/><ellipse cx="90.8" cy="92.8" rx="2.6" ry="1.1" fill="#f4b6a6" transform="rotate(153 90.8 92.8)"/><ellipse cx="117.0" cy="90.9" rx="2.6" ry="1.1" fill="#fde7de" transform="rotate(20 117.0 90.9)"/><ellipse cx="52.0" cy="110.2" rx="2.6" ry="1.1" fill="#fde7de" transform="rotate(66 52.0 110.2)"/><ellipse cx="47.6" cy="107.8" rx="2.6" ry="1.1" fill="#fbe0d4" transform="rotate(71 47.6 107.8)"/><ellipse cx="80.9" cy="84.3" rx="2.6" ry="1.1" fill="#f5bcac" transform="rotate(54 80.9 84.3)"/><ellipse cx="101.6" cy="88.0" rx="2.6" ry="1.1" fill="#f4b6a6" transform="rotate(162 101.6 88.0)"/><ellipse cx="90.3" cy="93.0" rx="2.6" ry="1.1" fill="#fff3ed" transform="rotate(90 90.3 93.0)"/><ellipse cx="88.7" cy="84.3" rx="2.6" ry="1.1" fill="#f5bcac" transform="rotate(129 88.7 84.3)"/><ellipse cx="109.0" cy="102.6" rx="2.6" ry="1.1" fill="#fbe0d4" transform="rotate(126 109.0 102.6)"/><ellipse cx="103.4" cy="100.9" rx="2.6" ry="1.1" fill="#f5bcac" transform="rotate(122 103.4 100.9)"/><ellipse cx="136.0" cy="107.7" rx="2.6" ry="1.1" fill="#f9d8cb" transform="rotate(52 136.0 107.7)"/><ellipse cx="80.7" cy="99.9" rx="2.6" ry="1.1" fill="#fff3ed" transform="rotate(138 80.7 99.9)"/><ellipse cx="88.2" cy="100.3" rx="2.6" ry="1.1" fill="#f4b6a6" transform="rotate(45 88.2 100.3)"/><ellipse cx="49.3" cy="111.2" rx="2.6" ry="1.1" fill="#f5bcac" transform="rotate(128 49.3 111.2)"/><ellipse cx="98.2" cy="90.1" rx="2.6" ry="1.1" fill="#fde7de" transform="rotate(130 98.2 90.1)"/><ellipse cx="96.5" cy="96.1" rx="2.6" ry="1.1" fill="#fbe0d4" transform="rotate(163 96.5 96.1)"/><ellipse cx="96.0" cy="114.9" rx="2.6" ry="1.1" fill="#fbe0d4" transform="rotate(156 96.0 114.9)"/><ellipse cx="88.3" cy="105.1" rx="2.6" ry="1.1" fill="#f5bcac" transform="rotate(41 88.3 105.1)"/><ellipse cx="39.7" cy="115.9" rx="2.6" ry="1.1" fill="#fff3ed" transform="rotate(86 39.7 115.9)"/><ellipse cx="128.6" cy="115.8" rx="2.6" ry="1.1" fill="#fde7de" transform="rotate(120 128.6 115.8)"/><ellipse cx="156.0" cy="109.4" rx="2.6" ry="1.1" fill="#f9d8cb" transform="rotate(132 156.0 109.4)"/><ellipse cx="67.8" cy="108.3" rx="2.6" ry="1.1" fill="#f4b6a6" transform="rotate(30 67.8 108.3)"/><ellipse cx="41.8" cy="113.9" rx="2.6" ry="1.1" fill="#fff3ed" transform="rotate(79 41.8 113.9)"/><ellipse cx="91.6" cy="105.2" rx="2.6" ry="1.1" fill="#fff3ed" transform="rotate(77 91.6 105.2)"/><ellipse cx="58.5" cy="99.3" rx="2.6" ry="1.1" fill="#fff3ed" transform="rotate(105 58.5 99.3)"/><ellipse cx="117.6" cy="103.4" rx="2.6" ry="1.1" fill="#f4b6a6" transform="rotate(46 117.6 103.4)"/><ellipse cx="98.6" cy="107.6" rx="2.6" ry="1.1" fill="#fde7de" transform="rotate(166 98.6 107.6)"/><ellipse cx="81.3" cy="88.8" rx="2.6" ry="1.1" fill="#f5bcac" transform="rotate(21 81.3 88.8)"/><ellipse cx="113.6" cy="101.8" rx="2.6" ry="1.1" fill="#fde7de" transform="rotate(29 113.6 101.8)"/><ellipse cx="117.5" cy="102.8" rx="2.6" ry="1.1" fill="#f4b6a6" transform="rotate(93 117.5 102.8)"/><ellipse cx="105.9" cy="87.8" rx="2.6" ry="1.1" fill="#f9d8cb" transform="rotate(126 105.9 87.8)"/><ellipse cx="69.1" cy="106.8" rx="2.6" ry="1.1" fill="#f5bcac" transform="rotate(150 69.1 106.8)"/><ellipse cx="37.6" cy="109.9" rx="2.6" ry="1.1" fill="#fbe0d4" transform="rotate(70 37.6 109.9)"/><ellipse cx="83.6" cy="104.4" rx="2.6" ry="1.1" fill="#fde7de" transform="rotate(59 83.6 104.4)"/><ellipse cx="83.1" cy="86.7" rx="2.6" ry="1.1" fill="#fde7de" transform="rotate(1 83.1 86.7)"/><ellipse cx="100.8" cy="99.4" rx="2.6" ry="1.1" fill="#f5bcac" transform="rotate(108 100.8 99.4)"/><ellipse cx="102.9" cy="86.2" rx="2.6" ry="1.1" fill="#fbe0d4" transform="rotate(82 102.9 86.2)"/><ellipse cx="59.6" cy="108.2" rx="2.6" ry="1.1" fill="#f4b6a6" transform="rotate(108 59.6 108.2)"/><ellipse cx="102.6" cy="103.1" rx="2.6" ry="1.1" fill="#fde7de" transform="rotate(144 102.6 103.1)"/><ellipse cx="130.5" cy="97.5" rx="2.6" ry="1.1" fill="#fbe0d4" transform="rotate(18 130.5 97.5)"/><ellipse cx="93.6" cy="89.6" rx="2.6" ry="1.1" fill="#fde7de" transform="rotate(94 93.6 89.6)"/><ellipse cx="88.3" cy="87.2" rx="2.6" ry="1.1" fill="#fff3ed" transform="rotate(166 88.3 87.2)"/><ellipse cx="92.1" cy="96.7" rx="2.6" ry="1.1" fill="#f5bcac" transform="rotate(2 92.1 96.7)"/><ellipse cx="87.3" cy="89.3" rx="2.6" ry="1.1" fill="#fde7de" transform="rotate(55 87.3 89.3)"/><ellipse cx="65.4" cy="100.1" rx="2.6" ry="1.1" fill="#f4b6a6" transform="rotate(73 65.4 100.1)"/><ellipse cx="123.8" cy="98.8" rx="2.6" ry="1.1" fill="#fbe0d4" transform="rotate(138 123.8 98.8)"/><ellipse cx="90.5" cy="91.9" rx="2.6" ry="1.1" fill="#f9d8cb" transform="rotate(90 90.5 91.9)"/><ellipse cx="80.5" cy="106.1" rx="2.6" ry="1.1" fill="#fff3ed" transform="rotate(101 80.5 106.1)"/><ellipse cx="82.1" cy="91.1" rx="2.6" ry="1.1" fill="#f5bcac" transform="rotate(169 82.1 91.1)"/><ellipse cx="65.0" cy="107.3" rx="2.6" ry="1.1" fill="#fff3ed" transform="rotate(46 65.0 107.3)"/><ellipse cx="88.2" cy="94.3" rx="2.6" ry="1.1" fill="#f4b6a6" transform="rotate(136 88.2 94.3)"/><ellipse cx="56.1" cy="101.0" rx="2.6" ry="1.1" fill="#fde7de" transform="rotate(110 56.1 101.0)"/><ellipse cx="75.6" cy="90.1" rx="2.6" ry="1.1" fill="#fbe0d4" transform="rotate(118 75.6 90.1)"/><ellipse cx="84.6" cy="94.7" rx="2.6" ry="1.1" fill="#fbe0d4" transform="rotate(76 84.6 94.7)"/><ellipse cx="69.6" cy="94.7" rx="2.6" ry="1.1" fill="#f4b6a6" transform="rotate(7 69.6 94.7)"/><ellipse cx="94.5" cy="82.7" rx="2.6" ry="1.1" fill="#fbe0d4" transform="rotate(158 94.5 82.7)"/><ellipse cx="137.2" cy="101.8" rx="2.6" ry="1.1" fill="#fff3ed" transform="rotate(72 137.2 101.8)"/><ellipse cx="74.7" cy="97.6" rx="2.6" ry="1.1" fill="#fde7de" transform="rotate(78 74.7 97.6)"/><ellipse cx="115.6" cy="116.5" rx="2.6" ry="1.1" fill="#fde7de" transform="rotate(18 115.6 116.5)"/><ellipse cx="77.1" cy="98.0" rx="2.6" ry="1.1" fill="#f9d8cb" transform="rotate(21 77.1 98.0)"/><ellipse cx="103.7" cy="115.8" rx="2.6" ry="1.1" fill="#fde7de" transform="rotate(53 103.7 115.8)"/><ellipse cx="66.3" cy="95.2" rx="2.6" ry="1.1" fill="#f5bcac" transform="rotate(167 66.3 95.2)"/><ellipse cx="97.7" cy="101.2" rx="2.6" ry="1.1" fill="#fbe0d4" transform="rotate(62 97.7 101.2)"/><ellipse cx="53.7" cy="115.4" rx="2.6" ry="1.1" fill="#f9d8cb" transform="rotate(41 53.7 115.4)"/><ellipse cx="99.1" cy="93.3" rx="2.6" ry="1.1" fill="#f5bcac" transform="rotate(91 99.1 93.3)"/><ellipse cx="102.5" cy="109.4" rx="2.6" ry="1.1" fill="#f5bcac" transform="rotate(62 102.5 109.4)"/><ellipse cx="145.3" cy="114.5" rx="2.6" ry="1.1" fill="#f9d8cb" transform="rotate(100 145.3 114.5)"/><ellipse cx="84.9" cy="87.3" rx="2.6" ry="1.1" fill="#fff3ed" transform="rotate(96 84.9 87.3)"/><ellipse cx="70.2" cy="103.8" rx="2.6" ry="1.1" fill="#f5bcac" transform="rotate(107 70.2 103.8)"/><ellipse cx="124.1" cy="101.9" rx="2.6" ry="1.1" fill="#fde7de" transform="rotate(22 124.1 101.9)"/><ellipse cx="96.8" cy="93.7" rx="2.6" ry="1.1" fill="#f5bcac" transform="rotate(60 96.8 93.7)"/><ellipse cx="85.7" cy="96.4" rx="2.6" ry="1.1" fill="#f4b6a6" transform="rotate(125 85.7 96.4)"/><ellipse cx="88.2" cy="97.3" rx="2.6" ry="1.1" fill="#fff3ed" transform="rotate(81 88.2 97.3)"/><ellipse cx="55.3" cy="98.8" rx="2.6" ry="1.1" fill="#fde7de" transform="rotate(119 55.3 98.8)"/><ellipse cx="47.5" cy="109.6" rx="2.6" ry="1.1" fill="#f9d8cb" transform="rotate(47 47.5 109.6)"/><ellipse cx="109.9" cy="97.6" rx="2.6" ry="1.1" fill="#fff3ed" transform="rotate(63 109.9 97.6)"/><ellipse cx="114.7" cy="112.9" rx="2.6" ry="1.1" fill="#f9d8cb" transform="rotate(99 114.7 112.9)"/><ellipse cx="38.6" cy="108.3" rx="2.6" ry="1.1" fill="#fde7de" transform="rotate(120 38.6 108.3)"/><ellipse cx="52.2" cy="106.3" rx="2.6" ry="1.1" fill="#fbe0d4" transform="rotate(7 52.2 106.3)"/><ellipse cx="143.2" cy="106.7" rx="2.6" ry="1.1" fill="#fff3ed" transform="rotate(59 143.2 106.7)"/><ellipse cx="123.7" cy="102.4" rx="2.6" ry="1.1" fill="#f4b6a6" transform="rotate(138 123.7 102.4)"/><ellipse cx="151.9" cy="112.3" rx="2.6" ry="1.1" fill="#f4b6a6" transform="rotate(126 151.9 112.3)"/><ellipse cx="93.9" cy="104.4" rx="2.6" ry="1.1" fill="#f4b6a6" transform="rotate(25 93.9 104.4)"/><ellipse cx="125.6" cy="99.3" rx="2.6" ry="1.1" fill="#fff3ed" transform="rotate(60 125.6 99.3)"/><ellipse cx="56.3" cy="114.2" rx="2.6" ry="1.1" fill="#f5bcac" transform="rotate(96 56.3 114.2)"/><ellipse cx="69.1" cy="108.4" rx="2.6" ry="1.1" fill="#f5bcac" transform="rotate(140 69.1 108.4)"/><ellipse cx="75.8" cy="89.4" rx="2.6" ry="1.1" fill="#fbe0d4" transform="rotate(82 75.8 89.4)"/><ellipse cx="81.7" cy="85.9" rx="2.6" ry="1.1" fill="#f5bcac" transform="rotate(18 81.7 85.9)"/><ellipse cx="109.9" cy="98.7" rx="2.6" ry="1.1" fill="#f5bcac" transform="rotate(149 109.9 98.7)"/><ellipse cx="106.8" cy="97.3" rx="2.6" ry="1.1" fill="#fff3ed" transform="rotate(94 106.8 97.3)"/><ellipse cx="128.1" cy="107.4" rx="2.6" ry="1.1" fill="#f5bcac" transform="rotate(153 128.1 107.4)"/><ellipse cx="132.9" cy="109.1" rx="2.6" ry="1.1" fill="#fde7de" transform="rotate(71 132.9 109.1)"/><ellipse cx="99.8" cy="88.9" rx="2.6" ry="1.1" fill="#fbe0d4" transform="rotate(119 99.8 88.9)"/><ellipse cx="82.9" cy="97.0" rx="2.6" ry="1.1" fill="#f4b6a6" transform="rotate(8 82.9 97.0)"/><ellipse cx="107.8" cy="101.0" rx="2.6" ry="1.1" fill="#fbe0d4" transform="rotate(89 107.8 101.0)"/><ellipse cx="87.8" cy="86.9" rx="2.6" ry="1.1" fill="#f9d8cb" transform="rotate(36 87.8 86.9)"/><ellipse cx="72.7" cy="99.0" rx="2.6" ry="1.1" fill="#f9d8cb" transform="rotate(63 72.7 99.0)"/><ellipse cx="72.9" cy="110.8" rx="2.6" ry="1.1" fill="#fbe0d4" transform="rotate(86 72.9 110.8)"/><ellipse cx="139.5" cy="110.6" rx="2.6" ry="1.1" fill="#fde7de" transform="rotate(104 139.5 110.6)"/><ellipse cx="84.9" cy="104.5" rx="2.6" ry="1.1" fill="#fff3ed" transform="rotate(73 84.9 104.5)"/><ellipse cx="147.4" cy="111.5" rx="2.6" ry="1.1" fill="#f4b6a6" transform="rotate(168 147.4 111.5)"/><ellipse cx="153.1" cy="109.7" rx="2.6" ry="1.1" fill="#f9d8cb" transform="rotate(73 153.1 109.7)"/><ellipse cx="77.1" cy="113.0" rx="2.6" ry="1.1" fill="#f4b6a6" transform="rotate(137 77.1 113.0)"/><ellipse cx="151.0" cy="115.6" rx="2.6" ry="1.1" fill="#f4b6a6" transform="rotate(33 151.0 115.6)"/><ellipse cx="70.7" cy="93.9" rx="2.6" ry="1.1" fill="#fde7de" transform="rotate(4 70.7 93.9)"/><ellipse cx="117.3" cy="91.6" rx="2.6" ry="1.1" fill="#f4b6a6" transform="rotate(91 117.3 91.6)"/><ellipse cx="42.4" cy="112.8" rx="2.6" ry="1.1" fill="#fbe0d4" transform="rotate(176 42.4 112.8)"/><ellipse cx="102.6" cy="112.7" rx="2.6" ry="1.1" fill="#fde7de" transform="rotate(159 102.6 112.7)"/><ellipse cx="140.9" cy="104.1" rx="2.6" ry="1.1" fill="#f5bcac" transform="rotate(65 140.9 104.1)"/><ellipse cx="58.7" cy="111.5" rx="2.6" ry="1.1" fill="#f4b6a6" transform="rotate(126 58.7 111.5)"/><ellipse cx="74.7" cy="100.0" rx="2.6" ry="1.1" fill="#f4b6a6" transform="rotate(78 74.7 100.0)"/><ellipse cx="104.6" cy="109.7" rx="2.6" ry="1.1" fill="#fde7de" transform="rotate(131 104.6 109.7)"/><ellipse cx="122.0" cy="110.7" rx="2.6" ry="1.1" fill="#fde7de" transform="rotate(117 122.0 110.7)"/><ellipse cx="55.3" cy="112.7" rx="2.6" ry="1.1" fill="#fde7de" transform="rotate(47 55.3 112.7)"/><ellipse cx="110.9" cy="107.8" rx="2.6" ry="1.1" fill="#f9d8cb" transform="rotate(177 110.9 107.8)"/><ellipse cx="92.8" cy="116.2" rx="2.6" ry="1.1" fill="#fbe0d4" transform="rotate(3 92.8 116.2)"/><ellipse cx="79.3" cy="111.8" rx="2.6" ry="1.1" fill="#fbe0d4" transform="rotate(172 79.3 111.8)"/><ellipse cx="97.3" cy="115.5" rx="2.6" ry="1.1" fill="#f5bcac" transform="rotate(56 97.3 115.5)"/><ellipse cx="58.5" cy="115.2" rx="2.6" ry="1.1" fill="#fff3ed" transform="rotate(145 58.5 115.2)"/><ellipse cx="127.1" cy="104.6" rx="2.6" ry="1.1" fill="#fde7de" transform="rotate(47 127.1 104.6)"/><ellipse cx="45.6" cy="112.2" rx="2.6" ry="1.1" fill="#fff3ed" transform="rotate(138 45.6 112.2)"/><ellipse cx="35.2" cy="110.6" rx="2.6" ry="1.1" fill="#fbe0d4" transform="rotate(2 35.2 110.6)"/><ellipse cx="114.1" cy="112.7" rx="2.6" ry="1.1" fill="#fff3ed" transform="rotate(101 114.1 112.7)"/><ellipse cx="142.9" cy="102.6" rx="2.6" ry="1.1" fill="#f5bcac" transform="rotate(57 142.9 102.6)"/><ellipse cx="71.6" cy="113.8" rx="2.6" ry="1.1" fill="#f9d8cb" transform="rotate(72 71.6 113.8)"/><ellipse cx="86.2" cy="85.0" rx="2.6" ry="1.1" fill="#fff3ed" transform="rotate(123 86.2 85.0)"/><ellipse cx="96.9" cy="112.2" rx="2.6" ry="1.1" fill="#f5bcac" transform="rotate(106 96.9 112.2)"/><ellipse cx="61.2" cy="103.2" rx="2.6" ry="1.1" fill="#f4b6a6" transform="rotate(45 61.2 103.2)"/><ellipse cx="108.0" cy="90.2" rx="2.6" ry="1.1" fill="#f9d8cb" transform="rotate(73 108.0 90.2)"/><ellipse cx="46.7" cy="108.4" rx="2.6" ry="1.1" fill="#fbe0d4" transform="rotate(30 46.7 108.4)"/><ellipse cx="85.0" cy="113.8" rx="2.6" ry="1.1" fill="#fde7de" transform="rotate(148 85.0 113.8)"/><ellipse cx="75.2" cy="114.0" rx="2.6" ry="1.1" fill="#f9d8cb" transform="rotate(140 75.2 114.0)"/><ellipse cx="99.2" cy="89.4" rx="2.6" ry="1.1" fill="#fde7de" transform="rotate(150 99.2 89.4)"/><ellipse cx="89.1" cy="104.0" rx="2.6" ry="1.1" fill="#fde7de" transform="rotate(26 89.1 104.0)"/><ellipse cx="110.3" cy="88.4" rx="2.6" ry="1.1" fill="#f9d8cb" transform="rotate(160 110.3 88.4)"/><ellipse cx="64.3" cy="104.6" rx="2.6" ry="1.1" fill="#f4b6a6" transform="rotate(158 64.3 104.6)"/><ellipse cx="47.1" cy="102.7" rx="2.6" ry="1.1" fill="#f9d8cb" transform="rotate(5 47.1 102.7)"/><ellipse cx="42.0" cy="116.2" rx="2.6" ry="1.1" fill="#fde7de" transform="rotate(57 42.0 116.2)"/><ellipse cx="98.7" cy="94.5" rx="2.6" ry="1.1" fill="#f9d8cb" transform="rotate(4 98.7 94.5)"/><ellipse cx="82.7" cy="97.6" rx="2.6" ry="1.1" fill="#fff3ed" transform="rotate(43 82.7 97.6)"/><ellipse cx="123.2" cy="113.6" rx="2.6" ry="1.1" fill="#fbe0d4" transform="rotate(41 123.2 113.6)"/><ellipse cx="131.2" cy="113.5" rx="2.6" ry="1.1" fill="#fff3ed" transform="rotate(144 131.2 113.5)"/><ellipse cx="135.5" cy="99.3" rx="2.6" ry="1.1" fill="#fde7de" transform="rotate(156 135.5 99.3)"/><ellipse cx="35.9" cy="115.1" rx="2.6" ry="1.1" fill="#fde7de" transform="rotate(5 35.9 115.1)"/><ellipse cx="55.8" cy="110.6" rx="2.6" ry="1.1" fill="#f5bcac" transform="rotate(147 55.8 110.6)"/><ellipse cx="87.0" cy="105.7" rx="2.6" ry="1.1" fill="#f9d8cb" transform="rotate(53 87.0 105.7)"/><ellipse cx="139.5" cy="105.2" rx="2.6" ry="1.1" fill="#fff3ed" transform="rotate(112 139.5 105.2)"/><ellipse cx="108.6" cy="112.0" rx="2.6" ry="1.1" fill="#f4b6a6" transform="rotate(148 108.6 112.0)"/><ellipse cx="70.0" cy="111.6" rx="2.6" ry="1.1" fill="#f4b6a6" transform="rotate(63 70.0 111.6)"/><path d="M22.5,291 L22.5,300 A17.5,6.5 0 0 0 57.5,300 L57.5,291 Z" fill="#e29846" stroke="#3b2412" stroke-width="1.1"/><line x1="27.5" y1="296.9" x2="27.5" y2="303.6" stroke="#3b2412" stroke-width="0.6" opacity="0.55"/><line x1="31.7" y1="296.9" x2="31.7" y2="303.6" stroke="#3b2412" stroke-width="0.6" opacity="0.55"/><line x1="35.8" y1="296.9" x2="35.8" y2="303.6" stroke="#3b2412" stroke-width="0.6" opacity="0.55"/><line x1="40.0" y1="296.9" x2="40.0" y2="303.6" stroke="#3b2412" stroke-width="0.6" opacity="0.55"/><line x1="44.2" y1="296.9" x2="44.2" y2="303.6" stroke="#3b2412" stroke-width="0.6" opacity="0.55"/><line x1="48.3" y1="296.9" x2="48.3" y2="303.6" stroke="#3b2412" stroke-width="0.6" opacity="0.55"/><line x1="52.5" y1="296.9" x2="52.5" y2="303.6" stroke="#3b2412" stroke-width="0.6" opacity="0.55"/><ellipse cx="40" cy="291" rx="17.5" ry="6.5" fill="#f2bd68" stroke="#3b2412" stroke-width="1.1"/><path d="M22.5,282 L22.5,291 A17.5,6.5 0 0 0 57.5,291 L57.5,282 Z" fill="#e29846" stroke="#3b2412" stroke-width="1.1"/><line x1="27.5" y1="287.9" x2="27.5" y2="294.6" stroke="#3b2412" stroke-width="0.6" opacity="0.55"/><line x1="31.7" y1="287.9" x2="31.7" y2="294.6" stroke="#3b2412" stroke-width="0.6" opacity="0.55"/><line x1="35.8" y1="287.9" x2="35.8" y2="294.6" stroke="#3b2412" stroke-width="0.6" opacity="0.55"/><line x1="40.0" y1="287.9" x2="40.0" y2="294.6" stroke="#3b2412" stroke-width="0.6" opacity="0.55"/><line x1="44.2" y1="287.9" x2="44.2" y2="294.6" stroke="#3b2412" stroke-width="0.6" opacity="0.55"/><line x1="48.3" y1="287.9" x2="48.3" y2="294.6" stroke="#3b2412" stroke-width="0.6" opacity="0.55"/><line x1="52.5" y1="287.9" x2="52.5" y2="294.6" stroke="#3b2412" stroke-width="0.6" opacity="0.55"/><ellipse cx="40" cy="282" rx="17.5" ry="6.5" fill="#f2bd68" stroke="#3b2412" stroke-width="1.1"/><path d="M22.5,273 L22.5,282 A17.5,6.5 0 0 0 57.5,282 L57.5,273 Z" fill="#e29846" stroke="#3b2412" stroke-width="1.1"/><line x1="27.5" y1="278.9" x2="27.5" y2="285.6" stroke="#3b2412" stroke-width="0.6" opacity="0.55"/><line x1="31.7" y1="278.9" x2="31.7" y2="285.6" stroke="#3b2412" stroke-width="0.6" opacity="0.55"/><line x1="35.8" y1="278.9" x2="35.8" y2="285.6" stroke="#3b2412" stroke-width="0.6" opacity="0.55"/><line x1="40.0" y1="278.9" x2="40.0" y2="285.6" stroke="#3b2412" stroke-width="0.6" opacity="0.55"/><line x1="44.2" y1="278.9" x2="44.2" y2="285.6" stroke="#3b2412" stroke-width="0.6" opacity="0.55"/><line x1="48.3" y1="278.9" x2="48.3" y2="285.6" stroke="#3b2412" stroke-width="0.6" opacity="0.55"/><line x1="52.5" y1="278.9" x2="52.5" y2="285.6" stroke="#3b2412" stroke-width="0.6" opacity="0.55"/><ellipse cx="40" cy="273" rx="17.5" ry="6.5" fill="#f2bd68" stroke="#3b2412" stroke-width="1.1"/><path d="M22.5,264 L22.5,273 A17.5,6.5 0 0 0 57.5,273 L57.5,264 Z" fill="#e29846" stroke="#3b2412" stroke-width="1.1"/><line x1="27.5" y1="269.9" x2="27.5" y2="276.6" stroke="#3b2412" stroke-width="0.6" opacity="0.55"/><line x1="31.7" y1="269.9" x2="31.7" y2="276.6" stroke="#3b2412" stroke-width="0.6" opacity="0.55"/><line x1="35.8" y1="269.9" x2="35.8" y2="276.6" stroke="#3b2412" stroke-width="0.6" opacity="0.55"/><line x1="40.0" y1="269.9" x2="40.0" y2="276.6" stroke="#3b2412" stroke-width="0.6" opacity="0.55"/><line x1="44.2" y1="269.9" x2="44.2" y2="276.6" stroke="#3b2412" stroke-width="0.6" opacity="0.55"/><line x1="48.3" y1="269.9" x2="48.3" y2="276.6" stroke="#3b2412" stroke-width="0.6" opacity="0.55"/><line x1="52.5" y1="269.9" x2="52.5" y2="276.6" stroke="#3b2412" stroke-width="0.6" opacity="0.55"/><ellipse cx="40" cy="264" rx="17.5" ry="6.5" fill="#f2bd68" stroke="#3b2412" stroke-width="1.1"/><ellipse cx="40" cy="264" rx="14.0" ry="4.5" fill="none" stroke="#3b2412" stroke-width="0.6" opacity="0.6"/><path d="M105.0,289.5 L105.0,298.0 A23.5,7.2 0 0 0 152.0,298.0 L152.0,289.5 Z" fill="#e29846" stroke="#3b2412" stroke-width="1.1"/><line x1="111.7" y1="296.0" x2="111.7" y2="302.0" stroke="#3b2412" stroke-width="0.6" opacity="0.55"/><line x1="117.3" y1="296.0" x2="117.3" y2="302.0" stroke="#3b2412" stroke-width="0.6" opacity="0.55"/><line x1="122.9" y1="296.0" x2="122.9" y2="302.0" stroke="#3b2412" stroke-width="0.6" opacity="0.55"/><line x1="128.5" y1="296.0" x2="128.5" y2="302.0" stroke="#3b2412" stroke-width="0.6" opacity="0.55"/><line x1="134.1" y1="296.0" x2="134.1" y2="302.0" stroke="#3b2412" stroke-width="0.6" opacity="0.55"/><line x1="139.7" y1="296.0" x2="139.7" y2="302.0" stroke="#3b2412" stroke-width="0.6" opacity="0.55"/><line x1="145.3" y1="296.0" x2="145.3" y2="302.0" stroke="#3b2412" stroke-width="0.6" opacity="0.55"/><ellipse cx="128.5" cy="289.5" rx="23.5" ry="7.2" fill="#f2bd68" stroke="#3b2412" stroke-width="1.1"/><path d="M105.0,281.0 L105.0,289.5 A23.5,7.2 0 0 0 152.0,289.5 L152.0,281.0 Z" fill="#e29846" stroke="#3b2412" stroke-width="1.1"/><line x1="111.7" y1="287.5" x2="111.7" y2="293.5" stroke="#3b2412" stroke-width="0.6" opacity="0.55"/><line x1="117.3" y1="287.5" x2="117.3" y2="293.5" stroke="#3b2412" stroke-width="0.6" opacity="0.55"/><line x1="122.9" y1="287.5" x2="122.9" y2="293.5" stroke="#3b2412" stroke-width="0.6" opacity="0.55"/><line x1="128.5" y1="287.5" x2="128.5" y2="293.5" stroke="#3b2412" stroke-width="0.6" opacity="0.55"/><line x1="134.1" y1="287.5" x2="134.1" y2="293.5" stroke="#3b2412" stroke-width="0.6" opacity="0.55"/><line x1="139.7" y1="287.5" x2="139.7" y2="293.5" stroke="#3b2412" stroke-width="0.6" opacity="0.55"/><line x1="145.3" y1="287.5" x2="145.3" y2="293.5" stroke="#3b2412" stroke-width="0.6" opacity="0.55"/><ellipse cx="128.5" cy="281.0" rx="23.5" ry="7.2" fill="#f2bd68" stroke="#3b2412" stroke-width="1.1"/><path d="M105.0,272.5 L105.0,281.0 A23.5,7.2 0 0 0 152.0,281.0 L152.0,272.5 Z" fill="#e29846" stroke="#3b2412" stroke-width="1.1"/><line x1="111.7" y1="279.0" x2="111.7" y2="285.0" stroke="#3b2412" stroke-width="0.6" opacity="0.55"/><line x1="117.3" y1="279.0" x2="117.3" y2="285.0" stroke="#3b2412" stroke-width="0.6" opacity="0.55"/><line x1="122.9" y1="279.0" x2="122.9" y2="285.0" stroke="#3b2412" stroke-width="0.6" opacity="0.55"/><line x1="128.5" y1="279.0" x2="128.5" y2="285.0" stroke="#3b2412" stroke-width="0.6" opacity="0.55"/><line x1="134.1" y1="279.0" x2="134.1" y2="285.0" stroke="#3b2412" stroke-width="0.6" opacity="0.55"/><line x1="139.7" y1="279.0" x2="139.7" y2="285.0" stroke="#3b2412" stroke-width="0.6" opacity="0.55"/><line x1="145.3" y1="279.0" x2="145.3" y2="285.0" stroke="#3b2412" stroke-width="0.6" opacity="0.55"/><ellipse cx="128.5" cy="272.5" rx="23.5" ry="7.2" fill="#f2bd68" stroke="#3b2412" stroke-width="1.1"/><path d="M105.0,264.0 L105.0,272.5 A23.5,7.2 0 0 0 152.0,272.5 L152.0,264.0 Z" fill="#e29846" stroke="#3b2412" stroke-width="1.1"/><line x1="111.7" y1="270.5" x2="111.7" y2="276.5" stroke="#3b2412" stroke-width="0.6" opacity="0.55"/><line x1="117.3" y1="270.5" x2="117.3" y2="276.5" stroke="#3b2412" stroke-width="0.6" opacity="0.55"/><line x1="122.9" y1="270.5" x2="122.9" y2="276.5" stroke="#3b2412" stroke-width="0.6" opacity="0.55"/><line x1="128.5" y1="270.5" x2="128.5" y2="276.5" stroke="#3b2412" stroke-width="0.6" opacity="0.55"/><line x1="134.1" y1="270.5" x2="134.1" y2="276.5" stroke="#3b2412" stroke-width="0.6" opacity="0.55"/><line x1="139.7" y1="270.5" x2="139.7" y2="276.5" stroke="#3b2412" stroke-width="0.6" opacity="0.55"/><line x1="145.3" y1="270.5" x2="145.3" y2="276.5" stroke="#3b2412" stroke-width="0.6" opacity="0.55"/><ellipse cx="128.5" cy="264.0" rx="23.5" ry="7.2" fill="#f2bd68" stroke="#3b2412" stroke-width="1.1"/><path d="M105.0,255.5 L105.0,264.0 A23.5,7.2 0 0 0 152.0,264.0 L152.0,255.5 Z" fill="#e29846" stroke="#3b2412" stroke-width="1.1"/><line x1="111.7" y1="262.0" x2="111.7" y2="268.0" stroke="#3b2412" stroke-width="0.6" opacity="0.55"/><line x1="117.3" y1="262.0" x2="117.3" y2="268.0" stroke="#3b2412" stroke-width="0.6" opacity="0.55"/><line x1="122.9" y1="262.0" x2="122.9" y2="268.0" stroke="#3b2412" stroke-width="0.6" opacity="0.55"/><line x1="128.5" y1="262.0" x2="128.5" y2="268.0" stroke="#3b2412" stroke-width="0.6" opacity="0.55"/><line x1="134.1" y1="262.0" x2="134.1" y2="268.0" stroke="#3b2412" stroke-width="0.6" opacity="0.55"/><line x1="139.7" y1="262.0" x2="139.7" y2="268.0" stroke="#3b2412" stroke-width="0.6" opacity="0.55"/><line x1="145.3" y1="262.0" x2="145.3" y2="268.0" stroke="#3b2412" stroke-width="0.6" opacity="0.55"/><ellipse cx="128.5" cy="255.5" rx="23.5" ry="7.2" fill="#f2bd68" stroke="#3b2412" stroke-width="1.1"/><ellipse cx="128.5" cy="255.5" rx="18.8" ry="5.0" fill="none" stroke="#3b2412" stroke-width="0.6" opacity="0.6"/><path d="M55.5,297.2 L55.5,306.4 A22.5,7.5 0 0 0 100.5,306.4 L100.5,297.2 Z" fill="#e29846" stroke="#3b2412" stroke-width="1.1"/><line x1="61.9" y1="303.9" x2="61.9" y2="310.5" stroke="#3b2412" stroke-width="0.6" opacity="0.55"/><line x1="67.3" y1="303.9" x2="67.3" y2="310.5" stroke="#3b2412" stroke-width="0.6" opacity="0.55"/><line x1="72.6" y1="303.9" x2="72.6" y2="310.5" stroke="#3b2412" stroke-width="0.6" opacity="0.55"/><line x1="78.0" y1="303.9" x2="78.0" y2="310.5" stroke="#3b2412" stroke-width="0.6" opacity="0.55"/><line x1="83.4" y1="303.9" x2="83.4" y2="310.5" stroke="#3b2412" stroke-width="0.6" opacity="0.55"/><line x1="88.7" y1="303.9" x2="88.7" y2="310.5" stroke="#3b2412" stroke-width="0.6" opacity="0.55"/><line x1="94.1" y1="303.9" x2="94.1" y2="310.5" stroke="#3b2412" stroke-width="0.6" opacity="0.55"/><ellipse cx="78" cy="297.2" rx="22.5" ry="7.5" fill="#f2bd68" stroke="#3b2412" stroke-width="1.1"/><path d="M55.5,288.0 L55.5,297.2 A22.5,7.5 0 0 0 100.5,297.2 L100.5,288.0 Z" fill="#e29846" stroke="#3b2412" stroke-width="1.1"/><line x1="61.9" y1="294.8" x2="61.9" y2="301.3" stroke="#3b2412" stroke-width="0.6" opacity="0.55"/><line x1="67.3" y1="294.8" x2="67.3" y2="301.3" stroke="#3b2412" stroke-width="0.6" opacity="0.55"/><line x1="72.6" y1="294.8" x2="72.6" y2="301.3" stroke="#3b2412" stroke-width="0.6" opacity="0.55"/><line x1="78.0" y1="294.8" x2="78.0" y2="301.3" stroke="#3b2412" stroke-width="0.6" opacity="0.55"/><line x1="83.4" y1="294.8" x2="83.4" y2="301.3" stroke="#3b2412" stroke-width="0.6" opacity="0.55"/><line x1="88.7" y1="294.8" x2="88.7" y2="301.3" stroke="#3b2412" stroke-width="0.6" opacity="0.55"/><line x1="94.1" y1="294.8" x2="94.1" y2="301.3" stroke="#3b2412" stroke-width="0.6" opacity="0.55"/><ellipse cx="78" cy="288.0" rx="22.5" ry="7.5" fill="#f2bd68" stroke="#3b2412" stroke-width="1.1"/><path d="M55.5,278.8 L55.5,288.0 A22.5,7.5 0 0 0 100.5,288.0 L100.5,278.8 Z" fill="#e29846" stroke="#3b2412" stroke-width="1.1"/><line x1="61.9" y1="285.6" x2="61.9" y2="292.1" stroke="#3b2412" stroke-width="0.6" opacity="0.55"/><line x1="67.3" y1="285.6" x2="67.3" y2="292.1" stroke="#3b2412" stroke-width="0.6" opacity="0.55"/><line x1="72.6" y1="285.6" x2="72.6" y2="292.1" stroke="#3b2412" stroke-width="0.6" opacity="0.55"/><line x1="78.0" y1="285.6" x2="78.0" y2="292.1" stroke="#3b2412" stroke-width="0.6" opacity="0.55"/><line x1="83.4" y1="285.6" x2="83.4" y2="292.1" stroke="#3b2412" stroke-width="0.6" opacity="0.55"/><line x1="88.7" y1="285.6" x2="88.7" y2="292.1" stroke="#3b2412" stroke-width="0.6" opacity="0.55"/><line x1="94.1" y1="285.6" x2="94.1" y2="292.1" stroke="#3b2412" stroke-width="0.6" opacity="0.55"/><ellipse cx="78" cy="278.8" rx="22.5" ry="7.5" fill="#f2bd68" stroke="#3b2412" stroke-width="1.1"/><path d="M55.5,269.59999999999997 L55.5,278.79999999999995 A22.5,7.5 0 0 0 100.5,278.79999999999995 L100.5,269.59999999999997 Z" fill="#e29846" stroke="#3b2412" stroke-width="1.1"/><line x1="61.9" y1="276.3" x2="61.9" y2="282.9" stroke="#3b2412" stroke-width="0.6" opacity="0.55"/><line x1="67.3" y1="276.3" x2="67.3" y2="282.9" stroke="#3b2412" stroke-width="0.6" opacity="0.55"/><line x1="72.6" y1="276.3" x2="72.6" y2="282.9" stroke="#3b2412" stroke-width="0.6" opacity="0.55"/><line x1="78.0" y1="276.3" x2="78.0" y2="282.9" stroke="#3b2412" stroke-width="0.6" opacity="0.55"/><line x1="83.4" y1="276.3" x2="83.4" y2="282.9" stroke="#3b2412" stroke-width="0.6" opacity="0.55"/><line x1="88.7" y1="276.3" x2="88.7" y2="282.9" stroke="#3b2412" stroke-width="0.6" opacity="0.55"/><line x1="94.1" y1="276.3" x2="94.1" y2="282.9" stroke="#3b2412" stroke-width="0.6" opacity="0.55"/><ellipse cx="78" cy="269.59999999999997" rx="22.5" ry="7.5" fill="#f2bd68" stroke="#3b2412" stroke-width="1.1"/><path d="M55.5,260.4 L55.5,269.59999999999997 A22.5,7.5 0 0 0 100.5,269.59999999999997 L100.5,260.4 Z" fill="#e29846" stroke="#3b2412" stroke-width="1.1"/><line x1="61.9" y1="267.1" x2="61.9" y2="273.7" stroke="#3b2412" stroke-width="0.6" opacity="0.55"/><line x1="67.3" y1="267.1" x2="67.3" y2="273.7" stroke="#3b2412" stroke-width="0.6" opacity="0.55"/><line x1="72.6" y1="267.1" x2="72.6" y2="273.7" stroke="#3b2412" stroke-width="0.6" opacity="0.55"/><line x1="78.0" y1="267.1" x2="78.0" y2="273.7" stroke="#3b2412" stroke-width="0.6" opacity="0.55"/><line x1="83.4" y1="267.1" x2="83.4" y2="273.7" stroke="#3b2412" stroke-width="0.6" opacity="0.55"/><line x1="88.7" y1="267.1" x2="88.7" y2="273.7" stroke="#3b2412" stroke-width="0.6" opacity="0.55"/><line x1="94.1" y1="267.1" x2="94.1" y2="273.7" stroke="#3b2412" stroke-width="0.6" opacity="0.55"/><ellipse cx="78" cy="260.4" rx="22.5" ry="7.5" fill="#f2bd68" stroke="#3b2412" stroke-width="1.1"/><path d="M55.5,251.2 L55.5,260.4 A22.5,7.5 0 0 0 100.5,260.4 L100.5,251.2 Z" fill="#e29846" stroke="#3b2412" stroke-width="1.1"/><line x1="61.9" y1="257.9" x2="61.9" y2="264.5" stroke="#3b2412" stroke-width="0.6" opacity="0.55"/><line x1="67.3" y1="257.9" x2="67.3" y2="264.5" stroke="#3b2412" stroke-width="0.6" opacity="0.55"/><line x1="72.6" y1="257.9" x2="72.6" y2="264.5" stroke="#3b2412" stroke-width="0.6" opacity="0.55"/><line x1="78.0" y1="257.9" x2="78.0" y2="264.5" stroke="#3b2412" stroke-width="0.6" opacity="0.55"/><line x1="83.4" y1="257.9" x2="83.4" y2="264.5" stroke="#3b2412" stroke-width="0.6" opacity="0.55"/><line x1="88.7" y1="257.9" x2="88.7" y2="264.5" stroke="#3b2412" stroke-width="0.6" opacity="0.55"/><line x1="94.1" y1="257.9" x2="94.1" y2="264.5" stroke="#3b2412" stroke-width="0.6" opacity="0.55"/><ellipse cx="78" cy="251.2" rx="22.5" ry="7.5" fill="#f2bd68" stroke="#3b2412" stroke-width="1.1"/><path d="M55.5,242.0 L55.5,251.2 A22.5,7.5 0 0 0 100.5,251.2 L100.5,242.0 Z" fill="#e29846" stroke="#3b2412" stroke-width="1.1"/><line x1="61.9" y1="248.8" x2="61.9" y2="255.3" stroke="#3b2412" stroke-width="0.6" opacity="0.55"/><line x1="67.3" y1="248.8" x2="67.3" y2="255.3" stroke="#3b2412" stroke-width="0.6" opacity="0.55"/><line x1="72.6" y1="248.8" x2="72.6" y2="255.3" stroke="#3b2412" stroke-width="0.6" opacity="0.55"/><line x1="78.0" y1="248.8" x2="78.0" y2="255.3" stroke="#3b2412" stroke-width="0.6" opacity="0.55"/><line x1="83.4" y1="248.8" x2="83.4" y2="255.3" stroke="#3b2412" stroke-width="0.6" opacity="0.55"/><line x1="88.7" y1="248.8" x2="88.7" y2="255.3" stroke="#3b2412" stroke-width="0.6" opacity="0.55"/><line x1="94.1" y1="248.8" x2="94.1" y2="255.3" stroke="#3b2412" stroke-width="0.6" opacity="0.55"/><ellipse cx="78" cy="242.0" rx="22.5" ry="7.5" fill="#f2bd68" stroke="#3b2412" stroke-width="1.1"/><ellipse cx="78" cy="242.0" rx="18.0" ry="5.2" fill="none" stroke="#3b2412" stroke-width="0.6" opacity="0.6"/><path d="M95.0,293.5 L95.0,302.5 A19.5,7 0 0 0 134.0,302.5 L134.0,293.5 Z" fill="#e29846" stroke="#3b2412" stroke-width="1.1"/><line x1="100.6" y1="299.8" x2="100.6" y2="306.4" stroke="#3b2412" stroke-width="0.6" opacity="0.55"/><line x1="105.2" y1="299.8" x2="105.2" y2="306.4" stroke="#3b2412" stroke-width="0.6" opacity="0.55"/><line x1="109.9" y1="299.8" x2="109.9" y2="306.4" stroke="#3b2412" stroke-width="0.6" opacity="0.55"/><line x1="114.5" y1="299.8" x2="114.5" y2="306.4" stroke="#3b2412" stroke-width="0.6" opacity="0.55"/><line x1="119.1" y1="299.8" x2="119.1" y2="306.4" stroke="#3b2412" stroke-width="0.6" opacity="0.55"/><line x1="123.8" y1="299.8" x2="123.8" y2="306.4" stroke="#3b2412" stroke-width="0.6" opacity="0.55"/><line x1="128.4" y1="299.8" x2="128.4" y2="306.4" stroke="#3b2412" stroke-width="0.6" opacity="0.55"/><ellipse cx="114.5" cy="293.5" rx="19.5" ry="7" fill="#f2bd68" stroke="#3b2412" stroke-width="1.1"/><path d="M95.0,284.5 L95.0,293.5 A19.5,7 0 0 0 134.0,293.5 L134.0,284.5 Z" fill="#e29846" stroke="#3b2412" stroke-width="1.1"/><line x1="100.6" y1="290.8" x2="100.6" y2="297.4" stroke="#3b2412" stroke-width="0.6" opacity="0.55"/><line x1="105.2" y1="290.8" x2="105.2" y2="297.4" stroke="#3b2412" stroke-width="0.6" opacity="0.55"/><line x1="109.9" y1="290.8" x2="109.9" y2="297.4" stroke="#3b2412" stroke-width="0.6" opacity="0.55"/><line x1="114.5" y1="290.8" x2="114.5" y2="297.4" stroke="#3b2412" stroke-width="0.6" opacity="0.55"/><line x1="119.1" y1="290.8" x2="119.1" y2="297.4" stroke="#3b2412" stroke-width="0.6" opacity="0.55"/><line x1="123.8" y1="290.8" x2="123.8" y2="297.4" stroke="#3b2412" stroke-width="0.6" opacity="0.55"/><line x1="128.4" y1="290.8" x2="128.4" y2="297.4" stroke="#3b2412" stroke-width="0.6" opacity="0.55"/><ellipse cx="114.5" cy="284.5" rx="19.5" ry="7" fill="#f2bd68" stroke="#3b2412" stroke-width="1.1"/><path d="M95.0,275.5 L95.0,284.5 A19.5,7 0 0 0 134.0,284.5 L134.0,275.5 Z" fill="#e29846" stroke="#3b2412" stroke-width="1.1"/><line x1="100.6" y1="281.8" x2="100.6" y2="288.4" stroke="#3b2412" stroke-width="0.6" opacity="0.55"/><line x1="105.2" y1="281.8" x2="105.2" y2="288.4" stroke="#3b2412" stroke-width="0.6" opacity="0.55"/><line x1="109.9" y1="281.8" x2="109.9" y2="288.4" stroke="#3b2412" stroke-width="0.6" opacity="0.55"/><line x1="114.5" y1="281.8" x2="114.5" y2="288.4" stroke="#3b2412" stroke-width="0.6" opacity="0.55"/><line x1="119.1" y1="281.8" x2="119.1" y2="288.4" stroke="#3b2412" stroke-width="0.6" opacity="0.55"/><line x1="123.8" y1="281.8" x2="123.8" y2="288.4" stroke="#3b2412" stroke-width="0.6" opacity="0.55"/><line x1="128.4" y1="281.8" x2="128.4" y2="288.4" stroke="#3b2412" stroke-width="0.6" opacity="0.55"/><ellipse cx="114.5" cy="275.5" rx="19.5" ry="7" fill="#f2bd68" stroke="#3b2412" stroke-width="1.1"/><ellipse cx="114.5" cy="275.5" rx="15.6" ry="4.9" fill="none" stroke="#3b2412" stroke-width="0.6" opacity="0.6"/><path d="M14,307 L14,316 A21,7 0 0 0 56,316 L56,307 Z" fill="#e29846" stroke="#3b2412" stroke-width="1.1"/><line x1="20.0" y1="313.3" x2="20.0" y2="319.9" stroke="#3b2412" stroke-width="0.6" opacity="0.55"/><line x1="25.0" y1="313.3" x2="25.0" y2="319.9" stroke="#3b2412" stroke-width="0.6" opacity="0.55"/><line x1="30.0" y1="313.3" x2="30.0" y2="319.9" stroke="#3b2412" stroke-width="0.6" opacity="0.55"/><line x1="35.0" y1="313.3" x2="35.0" y2="319.9" stroke="#3b2412" stroke-width="0.6" opacity="0.55"/><line x1="40.0" y1="313.3" x2="40.0" y2="319.9" stroke="#3b2412" stroke-width="0.6" opacity="0.55"/><line x1="45.0" y1="313.3" x2="45.0" y2="319.9" stroke="#3b2412" stroke-width="0.6" opacity="0.55"/><line x1="50.0" y1="313.3" x2="50.0" y2="319.9" stroke="#3b2412" stroke-width="0.6" opacity="0.55"/><ellipse cx="35" cy="307" rx="21" ry="7" fill="#f2bd68" stroke="#3b2412" stroke-width="1.1"/><path d="M14,298 L14,307 A21,7 0 0 0 56,307 L56,298 Z" fill="#e29846" stroke="#3b2412" stroke-width="1.1"/><line x1="20.0" y1="304.3" x2="20.0" y2="310.9" stroke="#3b2412" stroke-width="0.6" opacity="0.55"/><line x1="25.0" y1="304.3" x2="25.0" y2="310.9" stroke="#3b2412" stroke-width="0.6" opacity="0.55"/><line x1="30.0" y1="304.3" x2="30.0" y2="310.9" stroke="#3b2412" stroke-width="0.6" opacity="0.55"/><line x1="35.0" y1="304.3" x2="35.0" y2="310.9" stroke="#3b2412" stroke-width="0.6" opacity="0.55"/><line x1="40.0" y1="304.3" x2="40.0" y2="310.9" stroke="#3b2412" stroke-width="0.6" opacity="0.55"/><line x1="45.0" y1="304.3" x2="45.0" y2="310.9" stroke="#3b2412" stroke-width="0.6" opacity="0.55"/><line x1="50.0" y1="304.3" x2="50.0" y2="310.9" stroke="#3b2412" stroke-width="0.6" opacity="0.55"/><ellipse cx="35" cy="298" rx="21" ry="7" fill="#f2bd68" stroke="#3b2412" stroke-width="1.1"/><path d="M14,289 L14,298 A21,7 0 0 0 56,298 L56,289 Z" fill="#e29846" stroke="#3b2412" stroke-width="1.1"/><line x1="20.0" y1="295.3" x2="20.0" y2="301.9" stroke="#3b2412" stroke-width="0.6" opacity="0.55"/><line x1="25.0" y1="295.3" x2="25.0" y2="301.9" stroke="#3b2412" stroke-width="0.6" opacity="0.55"/><line x1="30.0" y1="295.3" x2="30.0" y2="301.9" stroke="#3b2412" stroke-width="0.6" opacity="0.55"/><line x1="35.0" y1="295.3" x2="35.0" y2="301.9" stroke="#3b2412" stroke-width="0.6" opacity="0.55"/><line x1="40.0" y1="295.3" x2="40.0" y2="301.9" stroke="#3b2412" stroke-width="0.6" opacity="0.55"/><line x1="45.0" y1="295.3" x2="45.0" y2="301.9" stroke="#3b2412" stroke-width="0.6" opacity="0.55"/><line x1="50.0" y1="295.3" x2="50.0" y2="301.9" stroke="#3b2412" stroke-width="0.6" opacity="0.55"/><ellipse cx="35" cy="289" rx="21" ry="7" fill="#f2bd68" stroke="#3b2412" stroke-width="1.1"/><ellipse cx="35" cy="289" rx="16.8" ry="4.9" fill="none" stroke="#3b2412" stroke-width="0.6" opacity="0.6"/></svg>
<svg class="ab" style="left:640px;top:80px" width="140" height="130" viewBox="640 80 140 130"><path d="M656,100 C665,88 690,84 705,86 C722,88 738,96 741,108 C740,125 735,140 736,160 C737,170 738,176 736,181 C715,187 680,188 646,184 C650,172 657,160 660,145 C662,130 652,112 656,100Z" fill="#e4945c"/><path d="M646,184 C650,172 657,160 660,145 L670,150 C666,165 662,175 660,185Z" fill="#c9733f" opacity="0.8"/><path d="M700,150 C712,148 725,144 736,138 L736,160 C725,165 712,166 700,165Z" fill="#eeab78" opacity="0.8"/><path d="M660,104 C668,92 690,88 705,89 C720,90 733,98 736,110 C734,125 726,138 705,141 C685,143 668,135 662,122 C659,115 659,108 660,104Z" fill="#f6d0c2"/><ellipse cx="707.3" cy="127.6" rx="2.0" ry="0.9" fill="#f9d4c6" transform="rotate(5 707.3 127.6)"/><ellipse cx="695.4" cy="138.1" rx="2.0" ry="0.9" fill="#f4b8a8" transform="rotate(162 695.4 138.1)"/><ellipse cx="668.6" cy="113.4" rx="2.0" ry="0.9" fill="#fde8de" transform="rotate(69 668.6 113.4)"/><ellipse cx="667.8" cy="102.0" rx="2.0" ry="0.9" fill="#fde8de" transform="rotate(73 667.8 102.0)"/><ellipse cx="689.6" cy="128.6" rx="2.0" ry="0.9" fill="#f4b8a8" transform="rotate(25 689.6 128.6)"/><ellipse cx="706.9" cy="95.6" rx="2.0" ry="0.9" fill="#f4b8a8" transform="rotate(175 706.9 95.6)"/><ellipse cx="672.7" cy="105.3" rx="2.0" ry="0.9" fill="#fde8de" transform="rotate(97 672.7 105.3)"/><ellipse cx="711.5" cy="99.6" rx="2.0" ry="0.9" fill="#fde8de" transform="rotate(174 711.5 99.6)"/><ellipse cx="727.9" cy="104.5" rx="2.0" ry="0.9" fill="#f2ae9e" transform="rotate(75 727.9 104.5)"/><ellipse cx="731.1" cy="102.7" rx="2.0" ry="0.9" fill="#f2ae9e" transform="rotate(54 731.1 102.7)"/><ellipse cx="711.5" cy="106.6" rx="2.0" ry="0.9" fill="#f2ae9e" transform="rotate(64 711.5 106.6)"/><ellipse cx="683.3" cy="125.2" rx="2.0" ry="0.9" fill="#fde8de" transform="rotate(87 683.3 125.2)"/><ellipse cx="713.6" cy="92.0" rx="2.0" ry="0.9" fill="#f4b8a8" transform="rotate(171 713.6 92.0)"/><ellipse cx="687.2" cy="110.0" rx="2.0" ry="0.9" fill="#f9d4c6" transform="rotate(142 687.2 110.0)"/><ellipse cx="687.8" cy="119.1" rx="2.0" ry="0.9" fill="#f4b8a8" transform="rotate(82 687.8 119.1)"/><ellipse cx="713.8" cy="121.4" rx="2.0" ry="0.9" fill="#fde8de" transform="rotate(21 713.8 121.4)"/><ellipse cx="678.7" cy="131.6" rx="2.0" ry="0.9" fill="#fff3ec" transform="rotate(62 678.7 131.6)"/><ellipse cx="687.0" cy="116.3" rx="2.0" ry="0.9" fill="#fff3ec" transform="rotate(19 687.0 116.3)"/><ellipse cx="716.9" cy="130.5" rx="2.0" ry="0.9" fill="#f2ae9e" transform="rotate(7 716.9 130.5)"/><ellipse cx="685.9" cy="120.8" rx="2.0" ry="0.9" fill="#fde8de" transform="rotate(61 685.9 120.8)"/><ellipse cx="730.2" cy="117.3" rx="2.0" ry="0.9" fill="#f2ae9e" transform="rotate(123 730.2 117.3)"/><ellipse cx="683.3" cy="130.5" rx="2.0" ry="0.9" fill="#fde8de" transform="rotate(130 683.3 130.5)"/><ellipse cx="683.5" cy="114.2" rx="2.0" ry="0.9" fill="#f4b8a8" transform="rotate(15 683.5 114.2)"/><ellipse cx="705.6" cy="137.0" rx="2.0" ry="0.9" fill="#f4b8a8" transform="rotate(43 705.6 137.0)"/><ellipse cx="705.1" cy="132.0" rx="2.0" ry="0.9" fill="#fff3ec" transform="rotate(117 705.1 132.0)"/><ellipse cx="708.5" cy="130.7" rx="2.0" ry="0.9" fill="#f2ae9e" transform="rotate(151 708.5 130.7)"/><ellipse cx="669.9" cy="127.0" rx="2.0" ry="0.9" fill="#fde8de" transform="rotate(113 669.9 127.0)"/><ellipse cx="719.9" cy="94.5" rx="2.0" ry="0.9" fill="#fff3ec" transform="rotate(67 719.9 94.5)"/><ellipse cx="664.5" cy="110.9" rx="2.0" ry="0.9" fill="#fde8de" transform="rotate(82 664.5 110.9)"/><ellipse cx="734.2" cy="112.6" rx="2.0" ry="0.9" fill="#fff3ec" transform="rotate(124 734.2 112.6)"/><ellipse cx="684.1" cy="103.2" rx="2.0" ry="0.9" fill="#fff3ec" transform="rotate(73 684.1 103.2)"/><ellipse cx="671.1" cy="108.6" rx="2.0" ry="0.9" fill="#f9d4c6" transform="rotate(173 671.1 108.6)"/><ellipse cx="707.6" cy="115.0" rx="2.0" ry="0.9" fill="#f2ae9e" transform="rotate(32 707.6 115.0)"/><ellipse cx="697.4" cy="115.8" rx="2.0" ry="0.9" fill="#f9d4c6" transform="rotate(156 697.4 115.8)"/><ellipse cx="687.5" cy="129.9" rx="2.0" ry="0.9" fill="#f2ae9e" transform="rotate(125 687.5 129.9)"/><ellipse cx="710.5" cy="128.5" rx="2.0" ry="0.9" fill="#f2ae9e" transform="rotate(101 710.5 128.5)"/><ellipse cx="710.8" cy="132.4" rx="2.0" ry="0.9" fill="#f2ae9e" transform="rotate(139 710.8 132.4)"/><ellipse cx="712.5" cy="104.3" rx="2.0" ry="0.9" fill="#f2ae9e" transform="rotate(117 712.5 104.3)"/><ellipse cx="704.1" cy="89.6" rx="2.0" ry="0.9" fill="#f9d4c6" transform="rotate(139 704.1 89.6)"/><ellipse cx="684.8" cy="103.2" rx="2.0" ry="0.9" fill="#f2ae9e" transform="rotate(147 684.8 103.2)"/><ellipse cx="709.2" cy="130.5" rx="2.0" ry="0.9" fill="#f2ae9e" transform="rotate(49 709.2 130.5)"/><ellipse cx="686.3" cy="137.8" rx="2.0" ry="0.9" fill="#fff3ec" transform="rotate(63 686.3 137.8)"/><ellipse cx="732.7" cy="115.9" rx="2.0" ry="0.9" fill="#f9d4c6" transform="rotate(176 732.7 115.9)"/><ellipse cx="675.1" cy="107.8" rx="2.0" ry="0.9" fill="#fff3ec" transform="rotate(51 675.1 107.8)"/><ellipse cx="666.0" cy="123.9" rx="2.0" ry="0.9" fill="#fff3ec" transform="rotate(31 666.0 123.9)"/><ellipse cx="719.3" cy="119.2" rx="2.0" ry="0.9" fill="#fff3ec" transform="rotate(54 719.3 119.2)"/><ellipse cx="702.0" cy="134.1" rx="2.0" ry="0.9" fill="#f2ae9e" transform="rotate(130 702.0 134.1)"/><ellipse cx="693.5" cy="122.8" rx="2.0" ry="0.9" fill="#fde8de" transform="rotate(137 693.5 122.8)"/><ellipse cx="673.7" cy="126.4" rx="2.0" ry="0.9" fill="#fff3ec" transform="rotate(176 673.7 126.4)"/><ellipse cx="696.7" cy="117.5" rx="2.0" ry="0.9" fill="#fff3ec" transform="rotate(84 696.7 117.5)"/><ellipse cx="688.9" cy="120.8" rx="2.0" ry="0.9" fill="#f9d4c6" transform="rotate(37 688.9 120.8)"/><ellipse cx="714.6" cy="108.4" rx="2.0" ry="0.9" fill="#f2ae9e" transform="rotate(73 714.6 108.4)"/><ellipse cx="681.2" cy="110.3" rx="2.0" ry="0.9" fill="#f4b8a8" transform="rotate(124 681.2 110.3)"/><ellipse cx="701.6" cy="139.1" rx="2.0" ry="0.9" fill="#f9d4c6" transform="rotate(110 701.6 139.1)"/><ellipse cx="667.2" cy="117.4" rx="2.0" ry="0.9" fill="#f2ae9e" transform="rotate(171 667.2 117.4)"/><ellipse cx="682.3" cy="107.3" rx="2.0" ry="0.9" fill="#fde8de" transform="rotate(75 682.3 107.3)"/><ellipse cx="721.8" cy="122.4" rx="2.0" ry="0.9" fill="#f2ae9e" transform="rotate(84 721.8 122.4)"/><ellipse cx="671.9" cy="108.9" rx="2.0" ry="0.9" fill="#fff3ec" transform="rotate(172 671.9 108.9)"/><ellipse cx="733.6" cy="120.6" rx="2.0" ry="0.9" fill="#f2ae9e" transform="rotate(148 733.6 120.6)"/><ellipse cx="710.3" cy="108.9" rx="2.0" ry="0.9" fill="#f2ae9e" transform="rotate(102 710.3 108.9)"/><ellipse cx="706.8" cy="96.3" rx="2.0" ry="0.9" fill="#f9d4c6" transform="rotate(68 706.8 96.3)"/><ellipse cx="692.8" cy="100.8" rx="2.0" ry="0.9" fill="#f2ae9e" transform="rotate(86 692.8 100.8)"/><ellipse cx="713.8" cy="109.0" rx="2.0" ry="0.9" fill="#fde8de" transform="rotate(107 713.8 109.0)"/><ellipse cx="697.7" cy="110.6" rx="2.0" ry="0.9" fill="#f2ae9e" transform="rotate(170 697.7 110.6)"/><ellipse cx="670.4" cy="109.4" rx="2.0" ry="0.9" fill="#fff3ec" transform="rotate(96 670.4 109.4)"/><ellipse cx="719.4" cy="101.8" rx="2.0" ry="0.9" fill="#f2ae9e" transform="rotate(152 719.4 101.8)"/><ellipse cx="714.8" cy="103.9" rx="2.0" ry="0.9" fill="#fff3ec" transform="rotate(109 714.8 103.9)"/><ellipse cx="696.1" cy="122.5" rx="2.0" ry="0.9" fill="#f9d4c6" transform="rotate(159 696.1 122.5)"/><ellipse cx="669.6" cy="103.7" rx="2.0" ry="0.9" fill="#f2ae9e" transform="rotate(110 669.6 103.7)"/><ellipse cx="686.6" cy="124.5" rx="2.0" ry="0.9" fill="#f9d4c6" transform="rotate(24 686.6 124.5)"/><ellipse cx="712.1" cy="94.6" rx="2.0" ry="0.9" fill="#f9d4c6" transform="rotate(34 712.1 94.6)"/><ellipse cx="692.7" cy="131.0" rx="2.0" ry="0.9" fill="#f9d4c6" transform="rotate(104 692.7 131.0)"/><ellipse cx="713.8" cy="121.9" rx="2.0" ry="0.9" fill="#fff3ec" transform="rotate(155 713.8 121.9)"/><ellipse cx="723.9" cy="113.7" rx="2.0" ry="0.9" fill="#fde8de" transform="rotate(162 723.9 113.7)"/><ellipse cx="695.3" cy="128.4" rx="2.0" ry="0.9" fill="#f2ae9e" transform="rotate(151 695.3 128.4)"/><ellipse cx="712.8" cy="111.5" rx="2.0" ry="0.9" fill="#f2ae9e" transform="rotate(117 712.8 111.5)"/><ellipse cx="695.9" cy="105.2" rx="2.0" ry="0.9" fill="#fde8de" transform="rotate(86 695.9 105.2)"/><ellipse cx="701.7" cy="114.9" rx="2.0" ry="0.9" fill="#f2ae9e" transform="rotate(97 701.7 114.9)"/><ellipse cx="692.3" cy="117.2" rx="2.0" ry="0.9" fill="#f4b8a8" transform="rotate(12 692.3 117.2)"/><ellipse cx="677.5" cy="131.6" rx="2.0" ry="0.9" fill="#f4b8a8" transform="rotate(119 677.5 131.6)"/><ellipse cx="713.3" cy="91.5" rx="2.0" ry="0.9" fill="#f4b8a8" transform="rotate(39 713.3 91.5)"/><ellipse cx="714.1" cy="96.0" rx="2.0" ry="0.9" fill="#f2ae9e" transform="rotate(127 714.1 96.0)"/><ellipse cx="693.3" cy="98.5" rx="2.0" ry="0.9" fill="#fde8de" transform="rotate(75 693.3 98.5)"/><ellipse cx="672.2" cy="121.4" rx="2.0" ry="0.9" fill="#f4b8a8" transform="rotate(100 672.2 121.4)"/><ellipse cx="710.2" cy="127.8" rx="2.0" ry="0.9" fill="#f2ae9e" transform="rotate(10 710.2 127.8)"/><ellipse cx="703.7" cy="127.6" rx="2.0" ry="0.9" fill="#f9d4c6" transform="rotate(24 703.7 127.6)"/><ellipse cx="692.8" cy="105.4" rx="2.0" ry="0.9" fill="#f9d4c6" transform="rotate(88 692.8 105.4)"/><ellipse cx="686.9" cy="123.1" rx="2.0" ry="0.9" fill="#f4b8a8" transform="rotate(25 686.9 123.1)"/><ellipse cx="682.4" cy="118.6" rx="2.0" ry="0.9" fill="#f9d4c6" transform="rotate(52 682.4 118.6)"/><ellipse cx="731.6" cy="117.6" rx="2.0" ry="0.9" fill="#fde8de" transform="rotate(47 731.6 117.6)"/><ellipse cx="701.9" cy="102.2" rx="2.0" ry="0.9" fill="#f2ae9e" transform="rotate(93 701.9 102.2)"/><ellipse cx="670.2" cy="101.2" rx="2.0" ry="0.9" fill="#f2ae9e" transform="rotate(82 670.2 101.2)"/><ellipse cx="689.6" cy="95.8" rx="2.0" ry="0.9" fill="#f4b8a8" transform="rotate(118 689.6 95.8)"/><ellipse cx="666.5" cy="123.7" rx="2.0" ry="0.9" fill="#f4b8a8" transform="rotate(155 666.5 123.7)"/><ellipse cx="698.5" cy="112.6" rx="2.0" ry="0.9" fill="#fff3ec" transform="rotate(158 698.5 112.6)"/><ellipse cx="696.5" cy="105.8" rx="2.0" ry="0.9" fill="#f9d4c6" transform="rotate(5 696.5 105.8)"/><ellipse cx="715.1" cy="91.8" rx="2.0" ry="0.9" fill="#fde8de" transform="rotate(170 715.1 91.8)"/><ellipse cx="692.6" cy="130.3" rx="2.0" ry="0.9" fill="#f4b8a8" transform="rotate(15 692.6 130.3)"/><ellipse cx="729.3" cy="114.6" rx="2.0" ry="0.9" fill="#fde8de" transform="rotate(25 729.3 114.6)"/><ellipse cx="707.5" cy="107.4" rx="2.0" ry="0.9" fill="#fde8de" transform="rotate(52 707.5 107.4)"/><ellipse cx="730.7" cy="125.7" rx="2.0" ry="0.9" fill="#fff3ec" transform="rotate(68 730.7 125.7)"/><ellipse cx="714.9" cy="107.6" rx="2.0" ry="0.9" fill="#f2ae9e" transform="rotate(145 714.9 107.6)"/><ellipse cx="692.9" cy="133.3" rx="2.0" ry="0.9" fill="#f9d4c6" transform="rotate(7 692.9 133.3)"/><ellipse cx="674.9" cy="114.5" rx="2.0" ry="0.9" fill="#fff3ec" transform="rotate(119 674.9 114.5)"/><ellipse cx="686.5" cy="111.2" rx="2.0" ry="0.9" fill="#f2ae9e" transform="rotate(160 686.5 111.2)"/><ellipse cx="707.1" cy="111.3" rx="2.0" ry="0.9" fill="#fff3ec" transform="rotate(83 707.1 111.3)"/><ellipse cx="674.6" cy="123.0" rx="2.0" ry="0.9" fill="#f4b8a8" transform="rotate(67 674.6 123.0)"/><ellipse cx="689.3" cy="134.8" rx="2.0" ry="0.9" fill="#fde8de" transform="rotate(99 689.3 134.8)"/><ellipse cx="717.0" cy="123.9" rx="2.0" ry="0.9" fill="#f4b8a8" transform="rotate(87 717.0 123.9)"/><ellipse cx="688.0" cy="137.8" rx="2.0" ry="0.9" fill="#f4b8a8" transform="rotate(121 688.0 137.8)"/><ellipse cx="695.9" cy="138.2" rx="2.0" ry="0.9" fill="#f4b8a8" transform="rotate(141 695.9 138.2)"/><ellipse cx="684.6" cy="112.6" rx="2.0" ry="0.9" fill="#fde8de" transform="rotate(131 684.6 112.6)"/><ellipse cx="672.4" cy="99.5" rx="2.0" ry="0.9" fill="#f4b8a8" transform="rotate(103 672.4 99.5)"/><ellipse cx="709.9" cy="121.1" rx="2.0" ry="0.9" fill="#f2ae9e" transform="rotate(122 709.9 121.1)"/><ellipse cx="674.0" cy="107.8" rx="2.0" ry="0.9" fill="#f4b8a8" transform="rotate(132 674.0 107.8)"/><ellipse cx="714.6" cy="97.5" rx="2.0" ry="0.9" fill="#fde8de" transform="rotate(32 714.6 97.5)"/><ellipse cx="706.3" cy="126.8" rx="2.0" ry="0.9" fill="#f2ae9e" transform="rotate(1 706.3 126.8)"/><ellipse cx="691.2" cy="91.3" rx="2.0" ry="0.9" fill="#f9d4c6" transform="rotate(150 691.2 91.3)"/><ellipse cx="723.6" cy="118.4" rx="2.0" ry="0.9" fill="#f4b8a8" transform="rotate(129 723.6 118.4)"/><ellipse cx="678.0" cy="130.8" rx="2.0" ry="0.9" fill="#f4b8a8" transform="rotate(168 678.0 130.8)"/><ellipse cx="663.8" cy="109.7" rx="2.0" ry="0.9" fill="#f4b8a8" transform="rotate(9 663.8 109.7)"/><ellipse cx="723.3" cy="112.2" rx="2.0" ry="0.9" fill="#f4b8a8" transform="rotate(158 723.3 112.2)"/><ellipse cx="712.9" cy="122.3" rx="2.0" ry="0.9" fill="#fde8de" transform="rotate(96 712.9 122.3)"/><ellipse cx="666.4" cy="105.3" rx="2.0" ry="0.9" fill="#f4b8a8" transform="rotate(16 666.4 105.3)"/><ellipse cx="707.5" cy="111.9" rx="2.0" ry="0.9" fill="#f2ae9e" transform="rotate(88 707.5 111.9)"/><ellipse cx="703.4" cy="108.6" rx="2.0" ry="0.9" fill="#fde8de" transform="rotate(131 703.4 108.6)"/><ellipse cx="729.4" cy="105.0" rx="2.0" ry="0.9" fill="#fff3ec" transform="rotate(160 729.4 105.0)"/><ellipse cx="670.5" cy="114.1" rx="2.0" ry="0.9" fill="#f2ae9e" transform="rotate(147 670.5 114.1)"/><ellipse cx="683.8" cy="95.8" rx="2.0" ry="0.9" fill="#f4b8a8" transform="rotate(85 683.8 95.8)"/><ellipse cx="713.0" cy="130.5" rx="2.0" ry="0.9" fill="#f9d4c6" transform="rotate(120 713.0 130.5)"/><ellipse cx="681.0" cy="114.6" rx="2.0" ry="0.9" fill="#fde8de" transform="rotate(9 681.0 114.6)"/><ellipse cx="675.2" cy="103.9" rx="2.0" ry="0.9" fill="#f2ae9e" transform="rotate(159 675.2 103.9)"/><ellipse cx="688.9" cy="129.0" rx="2.0" ry="0.9" fill="#f4b8a8" transform="rotate(161 688.9 129.0)"/><ellipse cx="709.7" cy="128.5" rx="2.0" ry="0.9" fill="#f9d4c6" transform="rotate(5 709.7 128.5)"/><ellipse cx="670.9" cy="124.8" rx="2.0" ry="0.9" fill="#f4b8a8" transform="rotate(131 670.9 124.8)"/><ellipse cx="713.3" cy="102.9" rx="2.0" ry="0.9" fill="#fff3ec" transform="rotate(101 713.3 102.9)"/><ellipse cx="684.4" cy="104.9" rx="2.0" ry="0.9" fill="#fde8de" transform="rotate(47 684.4 104.9)"/><ellipse cx="711.4" cy="103.8" rx="2.0" ry="0.9" fill="#f4b8a8" transform="rotate(98 711.4 103.8)"/><ellipse cx="722.8" cy="111.7" rx="2.0" ry="0.9" fill="#f2ae9e" transform="rotate(171 722.8 111.7)"/><ellipse cx="706.5" cy="101.0" rx="2.0" ry="0.9" fill="#fff3ec" transform="rotate(23 706.5 101.0)"/><ellipse cx="675.3" cy="107.6" rx="2.0" ry="0.9" fill="#fde8de" transform="rotate(105 675.3 107.6)"/><ellipse cx="722.8" cy="126.8" rx="2.0" ry="0.9" fill="#f4b8a8" transform="rotate(48 722.8 126.8)"/><ellipse cx="706.1" cy="121.8" rx="2.0" ry="0.9" fill="#fde8de" transform="rotate(80 706.1 121.8)"/><ellipse cx="669.0" cy="105.5" rx="2.0" ry="0.9" fill="#fde8de" transform="rotate(83 669.0 105.5)"/><ellipse cx="693.0" cy="112.0" rx="2.0" ry="0.9" fill="#fde8de" transform="rotate(96 693.0 112.0)"/><ellipse cx="733.7" cy="120.0" rx="2.0" ry="0.9" fill="#f4b8a8" transform="rotate(23 733.7 120.0)"/><ellipse cx="724.6" cy="124.6" rx="2.0" ry="0.9" fill="#fde8de" transform="rotate(176 724.6 124.6)"/><ellipse cx="662.5" cy="119.0" rx="2.0" ry="0.9" fill="#fff3ec" transform="rotate(127 662.5 119.0)"/><ellipse cx="686.9" cy="113.1" rx="2.0" ry="0.9" fill="#fde8de" transform="rotate(50 686.9 113.1)"/><ellipse cx="675.3" cy="118.2" rx="2.0" ry="0.9" fill="#f2ae9e" transform="rotate(138 675.3 118.2)"/><ellipse cx="719.7" cy="108.1" rx="2.0" ry="0.9" fill="#fde8de" transform="rotate(147 719.7 108.1)"/><ellipse cx="710.4" cy="136.2" rx="2.0" ry="0.9" fill="#f4b8a8" transform="rotate(111 710.4 136.2)"/><ellipse cx="690.5" cy="96.4" rx="2.0" ry="0.9" fill="#fde8de" transform="rotate(88 690.5 96.4)"/><ellipse cx="667.5" cy="126.3" rx="2.0" ry="0.9" fill="#fde8de" transform="rotate(143 667.5 126.3)"/><ellipse cx="717.4" cy="113.8" rx="2.0" ry="0.9" fill="#fff3ec" transform="rotate(155 717.4 113.8)"/><ellipse cx="707.4" cy="130.6" rx="2.0" ry="0.9" fill="#fff3ec" transform="rotate(124 707.4 130.6)"/><ellipse cx="667.9" cy="120.5" rx="2.0" ry="0.9" fill="#f9d4c6" transform="rotate(33 667.9 120.5)"/><ellipse cx="689.6" cy="105.5" rx="2.0" ry="0.9" fill="#f4b8a8" transform="rotate(110 689.6 105.5)"/><ellipse cx="699.0" cy="115.1" rx="2.0" ry="0.9" fill="#f9d4c6" transform="rotate(127 699.0 115.1)"/><ellipse cx="712.7" cy="123.8" rx="2.0" ry="0.9" fill="#f9d4c6" transform="rotate(26 712.7 123.8)"/><ellipse cx="691.7" cy="138.8" rx="2.0" ry="0.9" fill="#f4b8a8" transform="rotate(122 691.7 138.8)"/><ellipse cx="699.7" cy="103.8" rx="2.0" ry="0.9" fill="#f4b8a8" transform="rotate(5 699.7 103.8)"/><ellipse cx="718.8" cy="120.8" rx="2.0" ry="0.9" fill="#fff3ec" transform="rotate(55 718.8 120.8)"/><ellipse cx="730.6" cy="103.3" rx="2.0" ry="0.9" fill="#fde8de" transform="rotate(13 730.6 103.3)"/><ellipse cx="717.3" cy="123.8" rx="2.0" ry="0.9" fill="#f2ae9e" transform="rotate(161 717.3 123.8)"/><ellipse cx="712.3" cy="132.6" rx="2.0" ry="0.9" fill="#f9d4c6" transform="rotate(110 712.3 132.6)"/><ellipse cx="675.9" cy="115.9" rx="2.0" ry="0.9" fill="#f4b8a8" transform="rotate(43 675.9 115.9)"/><ellipse cx="734.1" cy="117.3" rx="2.0" ry="0.9" fill="#fff3ec" transform="rotate(174 734.1 117.3)"/><ellipse cx="711.0" cy="108.7" rx="2.0" ry="0.9" fill="#f9d4c6" transform="rotate(162 711.0 108.7)"/><ellipse cx="729.2" cy="120.9" rx="2.0" ry="0.9" fill="#fff3ec" transform="rotate(58 729.2 120.9)"/><ellipse cx="678.9" cy="94.2" rx="2.0" ry="0.9" fill="#f2ae9e" transform="rotate(55 678.9 94.2)"/><ellipse cx="680.3" cy="121.4" rx="2.0" ry="0.9" fill="#fde8de" transform="rotate(14 680.3 121.4)"/><ellipse cx="691.4" cy="98.6" rx="2.0" ry="0.9" fill="#f4b8a8" transform="rotate(103 691.4 98.6)"/><ellipse cx="707.6" cy="122.3" rx="2.0" ry="0.9" fill="#f9d4c6" transform="rotate(131 707.6 122.3)"/><ellipse cx="691.7" cy="111.1" rx="2.0" ry="0.9" fill="#f9d4c6" transform="rotate(107 691.7 111.1)"/><ellipse cx="678.6" cy="110.8" rx="2.0" ry="0.9" fill="#f4b8a8" transform="rotate(109 678.6 110.8)"/><ellipse cx="702.8" cy="120.4" rx="2.0" ry="0.9" fill="#fde8de" transform="rotate(78 702.8 120.4)"/><ellipse cx="684.8" cy="94.3" rx="2.0" ry="0.9" fill="#f2ae9e" transform="rotate(131 684.8 94.3)"/><ellipse cx="664.7" cy="114.2" rx="2.0" ry="0.9" fill="#f9d4c6" transform="rotate(172 664.7 114.2)"/><ellipse cx="684.2" cy="133.2" rx="2.0" ry="0.9" fill="#fff3ec" transform="rotate(167 684.2 133.2)"/><ellipse cx="677.4" cy="125.2" rx="2.0" ry="0.9" fill="#fff3ec" transform="rotate(151 677.4 125.2)"/><ellipse cx="668.5" cy="106.5" rx="2.0" ry="0.9" fill="#f2ae9e" transform="rotate(111 668.5 106.5)"/><ellipse cx="668.0" cy="128.4" rx="2.0" ry="0.9" fill="#f2ae9e" transform="rotate(147 668.0 128.4)"/><ellipse cx="721.1" cy="126.1" rx="2.0" ry="0.9" fill="#f9d4c6" transform="rotate(172 721.1 126.1)"/><ellipse cx="688.5" cy="112.9" rx="2.0" ry="0.9" fill="#f4b8a8" transform="rotate(44 688.5 112.9)"/><ellipse cx="731.5" cy="113.2" rx="2.0" ry="0.9" fill="#f4b8a8" transform="rotate(21 731.5 113.2)"/><ellipse cx="705.4" cy="108.5" rx="2.0" ry="0.9" fill="#f4b8a8" transform="rotate(89 705.4 108.5)"/><ellipse cx="714.8" cy="104.4" rx="2.0" ry="0.9" fill="#f4b8a8" transform="rotate(146 714.8 104.4)"/><ellipse cx="674.9" cy="106.9" rx="2.0" ry="0.9" fill="#fde8de" transform="rotate(52 674.9 106.9)"/><ellipse cx="697.9" cy="125.2" rx="2.0" ry="0.9" fill="#f4b8a8" transform="rotate(104 697.9 125.2)"/><ellipse cx="682.5" cy="106.5" rx="2.0" ry="0.9" fill="#f4b8a8" transform="rotate(93 682.5 106.5)"/><ellipse cx="663.8" cy="110.9" rx="2.0" ry="0.9" fill="#fde8de" transform="rotate(49 663.8 110.9)"/><ellipse cx="714.7" cy="96.6" rx="2.0" ry="0.9" fill="#f4b8a8" transform="rotate(100 714.7 96.6)"/><ellipse cx="692.9" cy="98.4" rx="2.0" ry="0.9" fill="#fff3ec" transform="rotate(154 692.9 98.4)"/><ellipse cx="678.6" cy="112.5" rx="2.0" ry="0.9" fill="#fde8de" transform="rotate(146 678.6 112.5)"/><ellipse cx="687.4" cy="89.9" rx="2.0" ry="0.9" fill="#f2ae9e" transform="rotate(101 687.4 89.9)"/><ellipse cx="674.7" cy="130.8" rx="2.0" ry="0.9" fill="#f4b8a8" transform="rotate(85 674.7 130.8)"/><ellipse cx="666.5" cy="103.5" rx="2.0" ry="0.9" fill="#fff3ec" transform="rotate(91 666.5 103.5)"/><ellipse cx="664.0" cy="109.4" rx="2.0" ry="0.9" fill="#f9d4c6" transform="rotate(78 664.0 109.4)"/><ellipse cx="705.1" cy="135.9" rx="2.0" ry="0.9" fill="#f9d4c6" transform="rotate(114 705.1 135.9)"/><ellipse cx="718.5" cy="110.5" rx="2.0" ry="0.9" fill="#fff3ec" transform="rotate(165 718.5 110.5)"/><ellipse cx="717.5" cy="135.4" rx="2.0" ry="0.9" fill="#fde8de" transform="rotate(55 717.5 135.4)"/><ellipse cx="674.5" cy="132.4" rx="2.0" ry="0.9" fill="#f4b8a8" transform="rotate(179 674.5 132.4)"/><ellipse cx="676.5" cy="110.9" rx="2.0" ry="0.9" fill="#f2ae9e" transform="rotate(25 676.5 110.9)"/><ellipse cx="708.1" cy="129.0" rx="2.0" ry="0.9" fill="#fff3ec" transform="rotate(14 708.1 129.0)"/><ellipse cx="712.2" cy="90.9" rx="2.0" ry="0.9" fill="#fff3ec" transform="rotate(159 712.2 90.9)"/><ellipse cx="705.5" cy="96.1" rx="2.0" ry="0.9" fill="#fde8de" transform="rotate(14 705.5 96.1)"/><ellipse cx="687.7" cy="121.2" rx="2.0" ry="0.9" fill="#f4b8a8" transform="rotate(33 687.7 121.2)"/><ellipse cx="692.6" cy="102.9" rx="2.0" ry="0.9" fill="#f2ae9e" transform="rotate(60 692.6 102.9)"/><ellipse cx="676.3" cy="104.3" rx="2.0" ry="0.9" fill="#f9d4c6" transform="rotate(16 676.3 104.3)"/><ellipse cx="668.4" cy="122.5" rx="2.0" ry="0.9" fill="#f2ae9e" transform="rotate(55 668.4 122.5)"/><ellipse cx="728.9" cy="117.5" rx="2.0" ry="0.9" fill="#fff3ec" transform="rotate(174 728.9 117.5)"/><ellipse cx="678.3" cy="118.6" rx="2.0" ry="0.9" fill="#f2ae9e" transform="rotate(3 678.3 118.6)"/><ellipse cx="678.1" cy="123.6" rx="2.0" ry="0.9" fill="#f4b8a8" transform="rotate(1 678.1 123.6)"/><ellipse cx="718.6" cy="110.8" rx="2.0" ry="0.9" fill="#f9d4c6" transform="rotate(129 718.6 110.8)"/><ellipse cx="677.9" cy="104.9" rx="2.0" ry="0.9" fill="#f9d4c6" transform="rotate(43 677.9 104.9)"/><ellipse cx="712.6" cy="135.0" rx="2.0" ry="0.9" fill="#f4b8a8" transform="rotate(100 712.6 135.0)"/><ellipse cx="693.4" cy="94.3" rx="2.0" ry="0.9" fill="#f4b8a8" transform="rotate(166 693.4 94.3)"/><ellipse cx="688.2" cy="116.6" rx="2.0" ry="0.9" fill="#f9d4c6" transform="rotate(169 688.2 116.6)"/><ellipse cx="682.9" cy="97.7" rx="2.0" ry="0.9" fill="#f4b8a8" transform="rotate(116 682.9 97.7)"/><ellipse cx="707.1" cy="94.1" rx="2.0" ry="0.9" fill="#f9d4c6" transform="rotate(54 707.1 94.1)"/><ellipse cx="701.9" cy="132.1" rx="2.0" ry="0.9" fill="#fde8de" transform="rotate(82 701.9 132.1)"/><ellipse cx="702.9" cy="118.5" rx="2.0" ry="0.9" fill="#f4b8a8" transform="rotate(11 702.9 118.5)"/><ellipse cx="666.7" cy="106.8" rx="2.0" ry="0.9" fill="#fde8de" transform="rotate(67 666.7 106.8)"/><ellipse cx="685.9" cy="131.4" rx="2.0" ry="0.9" fill="#fff3ec" transform="rotate(141 685.9 131.4)"/><ellipse cx="716.3" cy="102.6" rx="2.0" ry="0.9" fill="#f4b8a8" transform="rotate(113 716.3 102.6)"/><ellipse cx="689.5" cy="121.7" rx="2.0" ry="0.9" fill="#fde8de" transform="rotate(126 689.5 121.7)"/><ellipse cx="705.0" cy="134.5" rx="2.0" ry="0.9" fill="#fde8de" transform="rotate(107 705.0 134.5)"/><ellipse cx="703.0" cy="135.9" rx="2.0" ry="0.9" fill="#f2ae9e" transform="rotate(101 703.0 135.9)"/><ellipse cx="722.6" cy="114.7" rx="2.0" ry="0.9" fill="#f4b8a8" transform="rotate(5 722.6 114.7)"/><ellipse cx="691.3" cy="110.5" rx="2.0" ry="0.9" fill="#f9d4c6" transform="rotate(110 691.3 110.5)"/><ellipse cx="706.5" cy="100.5" rx="2.0" ry="0.9" fill="#f4b8a8" transform="rotate(127 706.5 100.5)"/><ellipse cx="714.7" cy="119.8" rx="2.0" ry="0.9" fill="#f4b8a8" transform="rotate(12 714.7 119.8)"/><ellipse cx="695.0" cy="122.7" rx="2.0" ry="0.9" fill="#f9d4c6" transform="rotate(130 695.0 122.7)"/><ellipse cx="665.3" cy="122.4" rx="2.0" ry="0.9" fill="#f2ae9e" transform="rotate(22 665.3 122.4)"/><ellipse cx="717.3" cy="102.4" rx="2.0" ry="0.9" fill="#f2ae9e" transform="rotate(54 717.3 102.4)"/><ellipse cx="726.8" cy="105.8" rx="2.0" ry="0.9" fill="#fff3ec" transform="rotate(84 726.8 105.8)"/><ellipse cx="671.8" cy="100.3" rx="2.0" ry="0.9" fill="#f2ae9e" transform="rotate(57 671.8 100.3)"/><ellipse cx="706.5" cy="112.8" rx="2.0" ry="0.9" fill="#fde8de" transform="rotate(63 706.5 112.8)"/><ellipse cx="666.0" cy="111.1" rx="2.0" ry="0.9" fill="#f9d4c6" transform="rotate(93 666.0 111.1)"/><ellipse cx="690.0" cy="99.2" rx="2.0" ry="0.9" fill="#fff3ec" transform="rotate(31 690.0 99.2)"/><ellipse cx="698.2" cy="137.6" rx="2.0" ry="0.9" fill="#f2ae9e" transform="rotate(164 698.2 137.6)"/><ellipse cx="671.0" cy="102.9" rx="2.0" ry="0.9" fill="#fff3ec" transform="rotate(90 671.0 102.9)"/><ellipse cx="678.2" cy="97.7" rx="2.0" ry="0.9" fill="#f9d4c6" transform="rotate(141 678.2 97.7)"/><ellipse cx="723.5" cy="104.3" rx="2.0" ry="0.9" fill="#f4b8a8" transform="rotate(35 723.5 104.3)"/><ellipse cx="692.3" cy="133.0" rx="2.0" ry="0.9" fill="#f9d4c6" transform="rotate(48 692.3 133.0)"/><ellipse cx="707.8" cy="122.3" rx="2.0" ry="0.9" fill="#f4b8a8" transform="rotate(124 707.8 122.3)"/><ellipse cx="726.2" cy="103.8" rx="2.0" ry="0.9" fill="#f9d4c6" transform="rotate(32 726.2 103.8)"/><ellipse cx="719.0" cy="117.2" rx="2.0" ry="0.9" fill="#fde8de" transform="rotate(115 719.0 117.2)"/><ellipse cx="715.0" cy="102.6" rx="2.0" ry="0.9" fill="#fff3ec" transform="rotate(154 715.0 102.6)"/><ellipse cx="727.1" cy="105.2" rx="2.0" ry="0.9" fill="#f2ae9e" transform="rotate(129 727.1 105.2)"/><path d="M662,122 C672,140 705,146 737,128 L736,138 C705,156 672,150 660,136Z" fill="#cf7b43"/><path d="M697,173 L739,158 L771,163 L772,186 L746,203 L697,193Z" fill="#30492a"/><path d="M698,176.0 L745,184.5 L771,169.0" fill="none" stroke="#5d8a47" stroke-width="0.8" opacity="0.8"/><path d="M698,178.7 L745,187.2 L771,171.7" fill="none" stroke="#5d8a47" stroke-width="0.8" opacity="0.8"/><path d="M698,181.4 L745,189.9 L771,174.4" fill="none" stroke="#5d8a47" stroke-width="0.8" opacity="0.8"/><path d="M698,184.1 L745,192.6 L771,177.1" fill="none" stroke="#5d8a47" stroke-width="0.8" opacity="0.8"/><path d="M698,186.8 L745,195.3 L771,179.8" fill="none" stroke="#5d8a47" stroke-width="0.8" opacity="0.8"/><path d="M698,189.5 L745,198.0 L771,182.5" fill="none" stroke="#5d8a47" stroke-width="0.8" opacity="0.8"/><path d="M698,192.2 L745,200.7 L771,185.2" fill="none" stroke="#5d8a47" stroke-width="0.8" opacity="0.8"/><path d="M699,172 L739,158 L770,163 L745,178Z" fill="#8dc26d" stroke="#2c4526" stroke-width="1"/><path d="M712,170 L738,162 L756,168 L730,176Z" fill="#6fa652" opacity="0.8"/><ellipse cx="733" cy="169" rx="5" ry="2.5" fill="#9fd07e"/><path d="M716,168 L728,164 L753,174 L753,199 L746,202 L745,177Z" fill="#ffffff"/><path d="M745,177 L745,202" stroke="#d8d8d8" stroke-width="0.8"/></svg>
<svg class="ab" style="left:662px;top:222px" width="92" height="90" viewBox="662 222 92 90"><circle cx="706" cy="266" r="38.6" fill="#eba03e" stroke="#1e1408" stroke-width="2"/><circle cx="710.5" cy="266" r="38.4" fill="#f8b859" stroke="#1e1408" stroke-width="2"/><path d="M688,243 A31,31 0 0 1 725,236" fill="none" stroke="#1e1408" stroke-width="1.4"/><path d="M731,241 A31,31 0 0 1 736,248" fill="none" stroke="#1e1408" stroke-width="1.4"/><path d="M683,280 A31,31 0 0 0 710,297" fill="none" stroke="#1e1408" stroke-width="1.4"/><path d="M715,297 A31,31 0 0 0 722,295" fill="none" stroke="#1e1408" stroke-width="1.4"/><path d="M679,270 L682,271 M679,274 L682,275" stroke="#1e1408" stroke-width="1.2"/><path d="M722,251 C719,243 700,242 699,253 C698,264 724,263 724,277 C724,290 703,291 699,281" fill="none" stroke="#1e1408" stroke-width="1.8"/><path d="M704,244 L711,291 M709,243 L716,290" stroke="#1e1408" stroke-width="1.5"/></svg>
<div id="t18" class="t" style="left:14.90px;transform:scaleX(0.8083);top:332.6px;font-size:24px;font-weight:700;color:#111;">ชนิดข้าวส่งออกที่สำคัญ</div>
<div id="t19" class="t" style="left:219.10px;transform:scaleX(0.9653);top:335.2px;font-size:20.5px;font-weight:400;color:#222;">(ม.ค. - ก.พ. <span style="font-size:19px">2569</span>)</div>
<svg class="ab" style="left:0.10000000000000142px;top:370.1px" width="67.0" height="67.0" viewBox="0.10000000000000142 370.1 67.0 67.0"><defs><radialGradient id="bw33" cx="33.6" cy="403.6" r="32.5" gradientUnits="userSpaceOnUse"><stop offset="0.78" stop-color="#925a2f"/><stop offset="0.86" stop-color="#ad703f"/><stop offset="0.95" stop-color="#c88f5a"/><stop offset="1" stop-color="#ad7040"/></radialGradient><radialGradient id="bw33r" cx="33.6" cy="403.6" r="26.5" gradientUnits="userSpaceOnUse"><stop offset="0.6" stop-color="#fbfbfa"/><stop offset="1" stop-color="#e2e2e0"/></radialGradient></defs><circle cx="33.6" cy="403.6" r="32.5" fill="url(#bw33)"/><circle cx="33.6" cy="403.6" r="26.5" fill="url(#bw33r)"/><ellipse cx="22.4" cy="391.5" rx="3.8" ry="1.0" fill="#d6d6d4" opacity="0.45" transform="rotate(167 22.4 391.5)"/><ellipse cx="53.6" cy="399.6" rx="3.8" ry="1.0" fill="#ffffff" opacity="0.45" transform="rotate(23 53.6 399.6)"/><ellipse cx="32.2" cy="385.7" rx="3.8" ry="1.0" fill="#d6d6d4" opacity="0.45" transform="rotate(54 32.2 385.7)"/><ellipse cx="30.4" cy="388.0" rx="3.8" ry="1.0" fill="#ffffff" opacity="0.45" transform="rotate(129 30.4 388.0)"/><ellipse cx="47.8" cy="411.1" rx="3.8" ry="1.0" fill="#d6d6d4" opacity="0.45" transform="rotate(90 47.8 411.1)"/><ellipse cx="15.8" cy="407.5" rx="3.8" ry="1.0" fill="#ffffff" opacity="0.45" transform="rotate(83 15.8 407.5)"/><ellipse cx="46.4" cy="409.5" rx="3.8" ry="1.0" fill="#d6d6d4" opacity="0.45" transform="rotate(44 46.4 409.5)"/><ellipse cx="57.3" cy="400.3" rx="3.8" ry="1.0" fill="#d6d6d4" opacity="0.45" transform="rotate(28 57.3 400.3)"/><ellipse cx="44.9" cy="400.3" rx="3.8" ry="1.0" fill="#d6d6d4" opacity="0.45" transform="rotate(127 44.9 400.3)"/><ellipse cx="32.6" cy="404.7" rx="3.8" ry="1.0" fill="#ffffff" opacity="0.45" transform="rotate(120 32.6 404.7)"/><ellipse cx="20.6" cy="414.0" rx="3.8" ry="1.0" fill="#ffffff" opacity="0.45" transform="rotate(165 20.6 414.0)"/><ellipse cx="15.3" cy="394.0" rx="3.8" ry="1.0" fill="#ffffff" opacity="0.45" transform="rotate(133 15.3 394.0)"/><ellipse cx="36.9" cy="404.3" rx="3.8" ry="1.0" fill="#ffffff" opacity="0.45" transform="rotate(95 36.9 404.3)"/><ellipse cx="34.4" cy="396.2" rx="3.8" ry="1.0" fill="#d6d6d4" opacity="0.45" transform="rotate(148 34.4 396.2)"/><ellipse cx="39.6" cy="392.2" rx="3.8" ry="1.0" fill="#ffffff" opacity="0.45" transform="rotate(99 39.6 392.2)"/><ellipse cx="31.5" cy="381.1" rx="3.8" ry="1.0" fill="#d6d6d4" opacity="0.45" transform="rotate(31 31.5 381.1)"/><ellipse cx="41.7" cy="425.9" rx="3.8" ry="1.0" fill="#ffffff" opacity="0.45" transform="rotate(72 41.7 425.9)"/><ellipse cx="44.2" cy="423.9" rx="3.8" ry="1.0" fill="#d6d6d4" opacity="0.45" transform="rotate(52 44.2 423.9)"/><ellipse cx="27.3" cy="402.4" rx="3.8" ry="1.0" fill="#ffffff" opacity="0.45" transform="rotate(43 27.3 402.4)"/><ellipse cx="12.2" cy="403.8" rx="3.8" ry="1.0" fill="#d6d6d4" opacity="0.45" transform="rotate(68 12.2 403.8)"/><ellipse cx="38.4" cy="410.7" rx="3.8" ry="1.0" fill="#d6d6d4" opacity="0.45" transform="rotate(27 38.4 410.7)"/><ellipse cx="50.2" cy="394.1" rx="3.8" ry="1.0" fill="#d6d6d4" opacity="0.45" transform="rotate(21 50.2 394.1)"/><ellipse cx="38.3" cy="383.6" rx="3.8" ry="1.0" fill="#ffffff" opacity="0.45" transform="rotate(5 38.3 383.6)"/><ellipse cx="36.1" cy="406.9" rx="3.8" ry="1.0" fill="#ffffff" opacity="0.45" transform="rotate(15 36.1 406.9)"/><ellipse cx="54.5" cy="408.0" rx="3.8" ry="1.0" fill="#ffffff" opacity="0.45" transform="rotate(27 54.5 408.0)"/><ellipse cx="27.0" cy="402.7" rx="3.8" ry="1.0" fill="#d6d6d4" opacity="0.45" transform="rotate(20 27.0 402.7)"/><ellipse cx="21.8" cy="410.1" rx="3.8" ry="1.0" fill="#ffffff" opacity="0.45" transform="rotate(32 21.8 410.1)"/><ellipse cx="26.1" cy="387.4" rx="3.8" ry="1.0" fill="#d6d6d4" opacity="0.45" transform="rotate(156 26.1 387.4)"/><ellipse cx="43.3" cy="396.7" rx="3.8" ry="1.0" fill="#ffffff" opacity="0.45" transform="rotate(165 43.3 396.7)"/><ellipse cx="40.9" cy="410.2" rx="3.8" ry="1.0" fill="#ffffff" opacity="0.45" transform="rotate(111 40.9 410.2)"/><ellipse cx="46.9" cy="387.4" rx="3.8" ry="1.0" fill="#d6d6d4" opacity="0.45" transform="rotate(103 46.9 387.4)"/><ellipse cx="45.3" cy="407.4" rx="3.8" ry="1.0" fill="#ffffff" opacity="0.45" transform="rotate(179 45.3 407.4)"/><ellipse cx="23.1" cy="402.2" rx="3.8" ry="1.0" fill="#ffffff" opacity="0.45" transform="rotate(81 23.1 402.2)"/><ellipse cx="41.9" cy="394.5" rx="3.8" ry="1.0" fill="#ffffff" opacity="0.45" transform="rotate(102 41.9 394.5)"/><ellipse cx="19.8" cy="392.5" rx="3.8" ry="1.0" fill="#d6d6d4" opacity="0.45" transform="rotate(57 19.8 392.5)"/><ellipse cx="42.6" cy="388.8" rx="3.8" ry="1.0" fill="#d6d6d4" opacity="0.45" transform="rotate(98 42.6 388.8)"/><ellipse cx="37.3" cy="427.2" rx="3.8" ry="1.0" fill="#ffffff" opacity="0.45" transform="rotate(159 37.3 427.2)"/><ellipse cx="39.9" cy="416.4" rx="3.8" ry="1.0" fill="#d6d6d4" opacity="0.45" transform="rotate(61 39.9 416.4)"/><ellipse cx="27.3" cy="419.1" rx="3.8" ry="1.0" fill="#d6d6d4" opacity="0.45" transform="rotate(120 27.3 419.1)"/><ellipse cx="46.5" cy="399.8" rx="3.8" ry="1.0" fill="#ffffff" opacity="0.45" transform="rotate(90 46.5 399.8)"/><ellipse cx="25.6" cy="408.8" rx="3.8" ry="1.0" fill="#d6d6d4" opacity="0.45" transform="rotate(104 25.6 408.8)"/><ellipse cx="21.6" cy="390.2" rx="3.8" ry="1.0" fill="#ffffff" opacity="0.45" transform="rotate(137 21.6 390.2)"/><ellipse cx="25.3" cy="423.8" rx="3.8" ry="1.0" fill="#d6d6d4" opacity="0.45" transform="rotate(117 25.3 423.8)"/><ellipse cx="18.3" cy="389.7" rx="3.8" ry="1.0" fill="#d6d6d4" opacity="0.45" transform="rotate(95 18.3 389.7)"/><ellipse cx="28.7" cy="397.6" rx="3.8" ry="1.0" fill="#d6d6d4" opacity="0.45" transform="rotate(172 28.7 397.6)"/><ellipse cx="34.6" cy="427.5" rx="3.8" ry="1.0" fill="#d6d6d4" opacity="0.45" transform="rotate(64 34.6 427.5)"/><ellipse cx="39.2" cy="423.9" rx="3.8" ry="1.0" fill="#d6d6d4" opacity="0.45" transform="rotate(152 39.2 423.9)"/><ellipse cx="36.6" cy="379.9" rx="3.8" ry="1.0" fill="#ffffff" opacity="0.45" transform="rotate(55 36.6 379.9)"/><ellipse cx="52.7" cy="400.9" rx="3.8" ry="1.0" fill="#d6d6d4" opacity="0.45" transform="rotate(57 52.7 400.9)"/><ellipse cx="11.0" cy="400.6" rx="3.8" ry="1.0" fill="#d6d6d4" opacity="0.45" transform="rotate(11 11.0 400.6)"/><ellipse cx="53.1" cy="404.1" rx="3.8" ry="1.0" fill="#d6d6d4" opacity="0.45" transform="rotate(134 53.1 404.1)"/><ellipse cx="50.5" cy="411.6" rx="3.8" ry="1.0" fill="#ffffff" opacity="0.45" transform="rotate(105 50.5 411.6)"/><ellipse cx="34.8" cy="403.6" rx="3.8" ry="1.0" fill="#d6d6d4" opacity="0.45" transform="rotate(140 34.8 403.6)"/><ellipse cx="15.2" cy="394.8" rx="3.8" ry="1.0" fill="#d6d6d4" opacity="0.45" transform="rotate(88 15.2 394.8)"/><ellipse cx="36.7" cy="396.2" rx="3.8" ry="1.0" fill="#d6d6d4" opacity="0.45" transform="rotate(134 36.7 396.2)"/><ellipse cx="33.3" cy="397.3" rx="3.8" ry="1.0" fill="#d6d6d4" opacity="0.45" transform="rotate(52 33.3 397.3)"/><ellipse cx="26.0" cy="421.4" rx="3.8" ry="1.0" fill="#ffffff" opacity="0.45" transform="rotate(20 26.0 421.4)"/><ellipse cx="50.5" cy="404.8" rx="3.8" ry="1.0" fill="#d6d6d4" opacity="0.45" transform="rotate(13 50.5 404.8)"/><ellipse cx="13.7" cy="390.6" rx="3.8" ry="1.0" fill="#ffffff" opacity="0.45" transform="rotate(104 13.7 390.6)"/><ellipse cx="43.9" cy="415.6" rx="3.8" ry="1.0" fill="#d6d6d4" opacity="0.45" transform="rotate(82 43.9 415.6)"/><ellipse cx="20.8" cy="408.8" rx="3.8" ry="1.0" fill="#ffffff" opacity="0.45" transform="rotate(141 20.8 408.8)"/><ellipse cx="21.4" cy="397.6" rx="3.8" ry="1.0" fill="#ffffff" opacity="0.45" transform="rotate(175 21.4 397.6)"/><ellipse cx="46.1" cy="413.8" rx="3.8" ry="1.0" fill="#d6d6d4" opacity="0.45" transform="rotate(73 46.1 413.8)"/><ellipse cx="19.0" cy="388.1" rx="3.8" ry="1.0" fill="#d6d6d4" opacity="0.45" transform="rotate(123 19.0 388.1)"/><ellipse cx="11.8" cy="406.5" rx="3.8" ry="1.0" fill="#d6d6d4" opacity="0.45" transform="rotate(170 11.8 406.5)"/><ellipse cx="21.5" cy="408.2" rx="3.8" ry="1.0" fill="#d6d6d4" opacity="0.45" transform="rotate(32 21.5 408.2)"/><ellipse cx="29.9" cy="422.5" rx="3.8" ry="1.0" fill="#d6d6d4" opacity="0.45" transform="rotate(176 29.9 422.5)"/><ellipse cx="34.0" cy="389.3" rx="3.8" ry="1.0" fill="#ffffff" opacity="0.45" transform="rotate(89 34.0 389.3)"/><ellipse cx="41.6" cy="422.5" rx="3.8" ry="1.0" fill="#ffffff" opacity="0.45" transform="rotate(74 41.6 422.5)"/><ellipse cx="31.0" cy="381.3" rx="3.8" ry="1.0" fill="#d6d6d4" opacity="0.45" transform="rotate(49 31.0 381.3)"/></svg>
<svg class="ab" style="left:74.89999999999999px;top:366.8px" width="80.4" height="80.4" viewBox="74.89999999999999 366.8 80.4 80.4"><circle cx="115.1" cy="407" r="34.7" fill="none" stroke="#d8d8d6" stroke-width="11"/><circle cx="115.1" cy="407" r="29.200000000000003" fill="#f5f5f1"/><circle cx="115.1" cy="407" r="34.7" fill="none" stroke="#dba631" stroke-width="11" stroke-dasharray="102.68 218.03" transform="rotate(-90 115.1 407)"/></svg>
<div id="t20" class="t" style="left:93.35px;transform:scaleX(0.9149);top:387.7px;font-size:19px;font-weight:700;color:#111;">0.543</div>
<div id="t21" class="t" style="left:94.20px;transform:scaleX(0.7085);top:406.9px;font-size:18.5px;font-weight:400;color:#1a1a1a;">ล้านตัน</div>
<svg class="ab" style="left:168.0px;top:370.0px" width="67.0" height="67.0" viewBox="168.0 370.0 67.0 67.0"><defs><radialGradient id="bw201" cx="201.5" cy="403.5" r="32.5" gradientUnits="userSpaceOnUse"><stop offset="0.78" stop-color="#925a2f"/><stop offset="0.86" stop-color="#ad703f"/><stop offset="0.95" stop-color="#c88f5a"/><stop offset="1" stop-color="#ad7040"/></radialGradient><radialGradient id="bw201r" cx="201.5" cy="403.5" r="26.5" gradientUnits="userSpaceOnUse"><stop offset="0.6" stop-color="#fafaf8"/><stop offset="1" stop-color="#e0e0dc"/></radialGradient></defs><circle cx="201.5" cy="403.5" r="32.5" fill="url(#bw201)"/><circle cx="201.5" cy="403.5" r="26.5" fill="url(#bw201r)"/><ellipse cx="219.7" cy="392.7" rx="3.8" ry="1.0" fill="#ffffff" opacity="0.45" transform="rotate(67 219.7 392.7)"/><ellipse cx="197.5" cy="410.7" rx="3.8" ry="1.0" fill="#d4d4d0" opacity="0.45" transform="rotate(20 197.5 410.7)"/><ellipse cx="219.2" cy="400.9" rx="3.8" ry="1.0" fill="#d4d4d0" opacity="0.45" transform="rotate(127 219.2 400.9)"/><ellipse cx="209.3" cy="393.4" rx="3.8" ry="1.0" fill="#d4d4d0" opacity="0.45" transform="rotate(71 209.3 393.4)"/><ellipse cx="178.4" cy="398.1" rx="3.8" ry="1.0" fill="#d4d4d0" opacity="0.45" transform="rotate(168 178.4 398.1)"/><ellipse cx="212.8" cy="413.7" rx="3.8" ry="1.0" fill="#d4d4d0" opacity="0.45" transform="rotate(105 212.8 413.7)"/><ellipse cx="193.2" cy="410.7" rx="3.8" ry="1.0" fill="#d4d4d0" opacity="0.45" transform="rotate(4 193.2 410.7)"/><ellipse cx="222.3" cy="401.5" rx="3.8" ry="1.0" fill="#d4d4d0" opacity="0.45" transform="rotate(73 222.3 401.5)"/><ellipse cx="183.6" cy="396.4" rx="3.8" ry="1.0" fill="#d4d4d0" opacity="0.45" transform="rotate(104 183.6 396.4)"/><ellipse cx="186.8" cy="419.5" rx="3.8" ry="1.0" fill="#ffffff" opacity="0.45" transform="rotate(159 186.8 419.5)"/><ellipse cx="202.9" cy="397.5" rx="3.8" ry="1.0" fill="#ffffff" opacity="0.45" transform="rotate(50 202.9 397.5)"/><ellipse cx="204.3" cy="382.2" rx="3.8" ry="1.0" fill="#ffffff" opacity="0.45" transform="rotate(127 204.3 382.2)"/><ellipse cx="209.7" cy="398.7" rx="3.8" ry="1.0" fill="#ffffff" opacity="0.45" transform="rotate(145 209.7 398.7)"/><ellipse cx="196.5" cy="423.6" rx="3.8" ry="1.0" fill="#ffffff" opacity="0.45" transform="rotate(87 196.5 423.6)"/><ellipse cx="204.3" cy="387.8" rx="3.8" ry="1.0" fill="#ffffff" opacity="0.45" transform="rotate(158 204.3 387.8)"/><ellipse cx="184.1" cy="415.6" rx="3.8" ry="1.0" fill="#ffffff" opacity="0.45" transform="rotate(41 184.1 415.6)"/><ellipse cx="210.2" cy="407.4" rx="3.8" ry="1.0" fill="#ffffff" opacity="0.45" transform="rotate(113 210.2 407.4)"/><ellipse cx="189.7" cy="389.1" rx="3.8" ry="1.0" fill="#ffffff" opacity="0.45" transform="rotate(152 189.7 389.1)"/><ellipse cx="195.9" cy="396.3" rx="3.8" ry="1.0" fill="#d4d4d0" opacity="0.45" transform="rotate(175 195.9 396.3)"/><ellipse cx="217.8" cy="418.9" rx="3.8" ry="1.0" fill="#ffffff" opacity="0.45" transform="rotate(6 217.8 418.9)"/><ellipse cx="209.2" cy="413.0" rx="3.8" ry="1.0" fill="#ffffff" opacity="0.45" transform="rotate(88 209.2 413.0)"/><ellipse cx="192.7" cy="411.6" rx="3.8" ry="1.0" fill="#d4d4d0" opacity="0.45" transform="rotate(61 192.7 411.6)"/><ellipse cx="190.2" cy="412.8" rx="3.8" ry="1.0" fill="#d4d4d0" opacity="0.45" transform="rotate(11 190.2 412.8)"/><ellipse cx="203.6" cy="383.9" rx="3.8" ry="1.0" fill="#d4d4d0" opacity="0.45" transform="rotate(62 203.6 383.9)"/><ellipse cx="196.3" cy="385.0" rx="3.8" ry="1.0" fill="#ffffff" opacity="0.45" transform="rotate(127 196.3 385.0)"/><ellipse cx="180.3" cy="409.5" rx="3.8" ry="1.0" fill="#ffffff" opacity="0.45" transform="rotate(19 180.3 409.5)"/><ellipse cx="216.1" cy="384.8" rx="3.8" ry="1.0" fill="#ffffff" opacity="0.45" transform="rotate(89 216.1 384.8)"/><ellipse cx="210.2" cy="386.6" rx="3.8" ry="1.0" fill="#d4d4d0" opacity="0.45" transform="rotate(73 210.2 386.6)"/><ellipse cx="181.0" cy="404.3" rx="3.8" ry="1.0" fill="#ffffff" opacity="0.45" transform="rotate(170 181.0 404.3)"/><ellipse cx="182.5" cy="398.1" rx="3.8" ry="1.0" fill="#ffffff" opacity="0.45" transform="rotate(71 182.5 398.1)"/><ellipse cx="195.4" cy="396.2" rx="3.8" ry="1.0" fill="#d4d4d0" opacity="0.45" transform="rotate(160 195.4 396.2)"/><ellipse cx="178.9" cy="397.7" rx="3.8" ry="1.0" fill="#ffffff" opacity="0.45" transform="rotate(104 178.9 397.7)"/><ellipse cx="195.1" cy="413.3" rx="3.8" ry="1.0" fill="#ffffff" opacity="0.45" transform="rotate(137 195.1 413.3)"/><ellipse cx="185.5" cy="392.7" rx="3.8" ry="1.0" fill="#ffffff" opacity="0.45" transform="rotate(38 185.5 392.7)"/><ellipse cx="190.6" cy="408.3" rx="3.8" ry="1.0" fill="#d4d4d0" opacity="0.45" transform="rotate(127 190.6 408.3)"/><ellipse cx="212.2" cy="411.4" rx="3.8" ry="1.0" fill="#ffffff" opacity="0.45" transform="rotate(162 212.2 411.4)"/><ellipse cx="196.1" cy="391.1" rx="3.8" ry="1.0" fill="#ffffff" opacity="0.45" transform="rotate(70 196.1 391.1)"/><ellipse cx="182.5" cy="392.3" rx="3.8" ry="1.0" fill="#d4d4d0" opacity="0.45" transform="rotate(5 182.5 392.3)"/><ellipse cx="216.4" cy="408.0" rx="3.8" ry="1.0" fill="#ffffff" opacity="0.45" transform="rotate(133 216.4 408.0)"/><ellipse cx="193.8" cy="413.6" rx="3.8" ry="1.0" fill="#d4d4d0" opacity="0.45" transform="rotate(82 193.8 413.6)"/><ellipse cx="191.7" cy="384.4" rx="3.8" ry="1.0" fill="#ffffff" opacity="0.45" transform="rotate(130 191.7 384.4)"/><ellipse cx="219.0" cy="387.2" rx="3.8" ry="1.0" fill="#ffffff" opacity="0.45" transform="rotate(104 219.0 387.2)"/><ellipse cx="207.1" cy="393.6" rx="3.8" ry="1.0" fill="#ffffff" opacity="0.45" transform="rotate(113 207.1 393.6)"/><ellipse cx="208.3" cy="386.5" rx="3.8" ry="1.0" fill="#ffffff" opacity="0.45" transform="rotate(150 208.3 386.5)"/><ellipse cx="204.3" cy="386.8" rx="3.8" ry="1.0" fill="#ffffff" opacity="0.45" transform="rotate(96 204.3 386.8)"/><ellipse cx="187.6" cy="397.4" rx="3.8" ry="1.0" fill="#ffffff" opacity="0.45" transform="rotate(171 187.6 397.4)"/><ellipse cx="189.5" cy="384.2" rx="3.8" ry="1.0" fill="#ffffff" opacity="0.45" transform="rotate(165 189.5 384.2)"/><ellipse cx="211.4" cy="391.0" rx="3.8" ry="1.0" fill="#d4d4d0" opacity="0.45" transform="rotate(153 211.4 391.0)"/><ellipse cx="214.5" cy="401.7" rx="3.8" ry="1.0" fill="#ffffff" opacity="0.45" transform="rotate(90 214.5 401.7)"/><ellipse cx="210.3" cy="404.2" rx="3.8" ry="1.0" fill="#d4d4d0" opacity="0.45" transform="rotate(160 210.3 404.2)"/><ellipse cx="184.9" cy="389.7" rx="3.8" ry="1.0" fill="#d4d4d0" opacity="0.45" transform="rotate(176 184.9 389.7)"/><ellipse cx="213.6" cy="410.8" rx="3.8" ry="1.0" fill="#ffffff" opacity="0.45" transform="rotate(124 213.6 410.8)"/><ellipse cx="210.2" cy="403.9" rx="3.8" ry="1.0" fill="#d4d4d0" opacity="0.45" transform="rotate(145 210.2 403.9)"/><ellipse cx="206.3" cy="383.0" rx="3.8" ry="1.0" fill="#d4d4d0" opacity="0.45" transform="rotate(128 206.3 383.0)"/><ellipse cx="211.6" cy="390.4" rx="3.8" ry="1.0" fill="#ffffff" opacity="0.45" transform="rotate(48 211.6 390.4)"/><ellipse cx="189.6" cy="391.3" rx="3.8" ry="1.0" fill="#d4d4d0" opacity="0.45" transform="rotate(173 189.6 391.3)"/><ellipse cx="179.5" cy="393.9" rx="3.8" ry="1.0" fill="#d4d4d0" opacity="0.45" transform="rotate(60 179.5 393.9)"/><ellipse cx="208.7" cy="425.2" rx="3.8" ry="1.0" fill="#ffffff" opacity="0.45" transform="rotate(136 208.7 425.2)"/><ellipse cx="193.0" cy="412.8" rx="3.8" ry="1.0" fill="#d4d4d0" opacity="0.45" transform="rotate(67 193.0 412.8)"/><ellipse cx="208.2" cy="425.2" rx="3.8" ry="1.0" fill="#ffffff" opacity="0.45" transform="rotate(75 208.2 425.2)"/><ellipse cx="186.6" cy="389.5" rx="3.8" ry="1.0" fill="#d4d4d0" opacity="0.45" transform="rotate(139 186.6 389.5)"/><ellipse cx="203.9" cy="412.5" rx="3.8" ry="1.0" fill="#ffffff" opacity="0.45" transform="rotate(43 203.9 412.5)"/><ellipse cx="196.0" cy="402.8" rx="3.8" ry="1.0" fill="#d4d4d0" opacity="0.45" transform="rotate(100 196.0 402.8)"/><ellipse cx="211.4" cy="422.4" rx="3.8" ry="1.0" fill="#ffffff" opacity="0.45" transform="rotate(94 211.4 422.4)"/><ellipse cx="203.2" cy="394.3" rx="3.8" ry="1.0" fill="#d4d4d0" opacity="0.45" transform="rotate(176 203.2 394.3)"/><ellipse cx="185.1" cy="399.2" rx="3.8" ry="1.0" fill="#d4d4d0" opacity="0.45" transform="rotate(130 185.1 399.2)"/><ellipse cx="214.3" cy="407.6" rx="3.8" ry="1.0" fill="#d4d4d0" opacity="0.45" transform="rotate(156 214.3 407.6)"/><ellipse cx="197.7" cy="402.5" rx="3.8" ry="1.0" fill="#ffffff" opacity="0.45" transform="rotate(80 197.7 402.5)"/><ellipse cx="204.5" cy="424.1" rx="3.8" ry="1.0" fill="#ffffff" opacity="0.45" transform="rotate(58 204.5 424.1)"/><ellipse cx="206.5" cy="402.9" rx="3.8" ry="1.0" fill="#ffffff" opacity="0.45" transform="rotate(134 206.5 402.9)"/></svg>
<svg class="ab" style="left:246.60000000000002px;top:366.6px" width="80.4" height="80.4" viewBox="246.60000000000002 366.6 80.4 80.4"><circle cx="286.8" cy="406.8" r="34.7" fill="none" stroke="#d8d8d6" stroke-width="11"/><circle cx="286.8" cy="406.8" r="29.200000000000003" fill="#f5f5f1"/><circle cx="286.8" cy="406.8" r="34.7" fill="none" stroke="#dba631" stroke-width="11" stroke-dasharray="54.84 218.03" transform="rotate(-90 286.8 406.8)"/></svg>
<div id="t22" class="t" style="left:265.05px;transform:scaleX(0.9149);top:387.7px;font-size:19px;font-weight:700;color:#111;">0.290</div>
<div id="t23" class="t" style="left:265.90px;transform:scaleX(0.7085);top:406.9px;font-size:18.5px;font-weight:400;color:#1a1a1a;">ล้านตัน</div>
<svg class="ab" style="left:342.3px;top:369.9px" width="67.0" height="67.0" viewBox="342.3 369.9 67.0 67.0"><defs><radialGradient id="bw375" cx="375.8" cy="403.4" r="32.5" gradientUnits="userSpaceOnUse"><stop offset="0.78" stop-color="#925a2f"/><stop offset="0.86" stop-color="#ad703f"/><stop offset="0.95" stop-color="#c88f5a"/><stop offset="1" stop-color="#ad7040"/></radialGradient><radialGradient id="bw375r" cx="375.8" cy="403.4" r="26.5" gradientUnits="userSpaceOnUse"><stop offset="0.6" stop-color="#efd27e"/><stop offset="1" stop-color="#e0bd68"/></radialGradient></defs><circle cx="375.8" cy="403.4" r="32.5" fill="url(#bw375)"/><circle cx="375.8" cy="403.4" r="26.5" fill="url(#bw375r)"/><ellipse cx="355.9" cy="391.4" rx="3.8" ry="1.0" fill="#f6e2a4" opacity="0.6" transform="rotate(126 355.9 391.4)"/><ellipse cx="396.4" cy="407.6" rx="3.8" ry="1.0" fill="#dab562" opacity="0.6" transform="rotate(32 396.4 407.6)"/><ellipse cx="369.4" cy="399.6" rx="3.8" ry="1.0" fill="#f6e2a4" opacity="0.6" transform="rotate(137 369.4 399.6)"/><ellipse cx="358.2" cy="395.2" rx="3.8" ry="1.0" fill="#f6e2a4" opacity="0.6" transform="rotate(120 358.2 395.2)"/><ellipse cx="383.2" cy="421.9" rx="3.8" ry="1.0" fill="#f6e2a4" opacity="0.6" transform="rotate(106 383.2 421.9)"/><ellipse cx="355.8" cy="390.4" rx="3.8" ry="1.0" fill="#dab562" opacity="0.6" transform="rotate(127 355.8 390.4)"/><ellipse cx="366.2" cy="391.3" rx="3.8" ry="1.0" fill="#f6e2a4" opacity="0.6" transform="rotate(4 366.2 391.3)"/><ellipse cx="360.8" cy="418.3" rx="3.8" ry="1.0" fill="#f6e2a4" opacity="0.6" transform="rotate(29 360.8 418.3)"/><ellipse cx="365.1" cy="398.2" rx="3.8" ry="1.0" fill="#dab562" opacity="0.6" transform="rotate(117 365.1 398.2)"/><ellipse cx="352.9" cy="406.8" rx="3.8" ry="1.0" fill="#dab562" opacity="0.6" transform="rotate(106 352.9 406.8)"/><ellipse cx="385.7" cy="412.1" rx="3.8" ry="1.0" fill="#dab562" opacity="0.6" transform="rotate(59 385.7 412.1)"/><ellipse cx="383.9" cy="411.1" rx="3.8" ry="1.0" fill="#f6e2a4" opacity="0.6" transform="rotate(57 383.9 411.1)"/><ellipse cx="371.5" cy="391.3" rx="3.8" ry="1.0" fill="#f6e2a4" opacity="0.6" transform="rotate(148 371.5 391.3)"/><ellipse cx="385.7" cy="385.7" rx="3.8" ry="1.0" fill="#f6e2a4" opacity="0.6" transform="rotate(155 385.7 385.7)"/><ellipse cx="373.1" cy="400.3" rx="3.8" ry="1.0" fill="#dab562" opacity="0.6" transform="rotate(87 373.1 400.3)"/><ellipse cx="374.3" cy="424.1" rx="3.8" ry="1.0" fill="#f6e2a4" opacity="0.6" transform="rotate(154 374.3 424.1)"/><ellipse cx="398.3" cy="397.1" rx="3.8" ry="1.0" fill="#f6e2a4" opacity="0.6" transform="rotate(52 398.3 397.1)"/><ellipse cx="352.9" cy="404.9" rx="3.8" ry="1.0" fill="#dab562" opacity="0.6" transform="rotate(106 352.9 404.9)"/><ellipse cx="388.1" cy="419.5" rx="3.8" ry="1.0" fill="#dab562" opacity="0.6" transform="rotate(50 388.1 419.5)"/><ellipse cx="369.0" cy="403.3" rx="3.8" ry="1.0" fill="#f6e2a4" opacity="0.6" transform="rotate(96 369.0 403.3)"/><ellipse cx="385.3" cy="392.0" rx="3.8" ry="1.0" fill="#dab562" opacity="0.6" transform="rotate(175 385.3 392.0)"/><ellipse cx="372.3" cy="417.9" rx="3.8" ry="1.0" fill="#f6e2a4" opacity="0.6" transform="rotate(124 372.3 417.9)"/><ellipse cx="357.4" cy="406.0" rx="3.8" ry="1.0" fill="#dab562" opacity="0.6" transform="rotate(112 357.4 406.0)"/><ellipse cx="375.1" cy="393.2" rx="3.8" ry="1.0" fill="#dab562" opacity="0.6" transform="rotate(15 375.1 393.2)"/><ellipse cx="353.0" cy="402.1" rx="3.8" ry="1.0" fill="#f6e2a4" opacity="0.6" transform="rotate(165 353.0 402.1)"/><ellipse cx="374.1" cy="421.1" rx="3.8" ry="1.0" fill="#f6e2a4" opacity="0.6" transform="rotate(64 374.1 421.1)"/><ellipse cx="358.9" cy="418.6" rx="3.8" ry="1.0" fill="#f6e2a4" opacity="0.6" transform="rotate(11 358.9 418.6)"/><ellipse cx="368.4" cy="394.8" rx="3.8" ry="1.0" fill="#dab562" opacity="0.6" transform="rotate(123 368.4 394.8)"/><ellipse cx="371.2" cy="399.9" rx="3.8" ry="1.0" fill="#dab562" opacity="0.6" transform="rotate(177 371.2 399.9)"/><ellipse cx="390.3" cy="392.9" rx="3.8" ry="1.0" fill="#f6e2a4" opacity="0.6" transform="rotate(40 390.3 392.9)"/><ellipse cx="374.7" cy="417.7" rx="3.8" ry="1.0" fill="#f6e2a4" opacity="0.6" transform="rotate(158 374.7 417.7)"/><ellipse cx="372.7" cy="407.9" rx="3.8" ry="1.0" fill="#f6e2a4" opacity="0.6" transform="rotate(75 372.7 407.9)"/><ellipse cx="391.2" cy="392.2" rx="3.8" ry="1.0" fill="#f6e2a4" opacity="0.6" transform="rotate(76 391.2 392.2)"/><ellipse cx="382.4" cy="404.0" rx="3.8" ry="1.0" fill="#f6e2a4" opacity="0.6" transform="rotate(12 382.4 404.0)"/><ellipse cx="376.8" cy="406.4" rx="3.8" ry="1.0" fill="#dab562" opacity="0.6" transform="rotate(30 376.8 406.4)"/><ellipse cx="364.1" cy="401.3" rx="3.8" ry="1.0" fill="#dab562" opacity="0.6" transform="rotate(39 364.1 401.3)"/><ellipse cx="365.8" cy="418.2" rx="3.8" ry="1.0" fill="#f6e2a4" opacity="0.6" transform="rotate(0 365.8 418.2)"/><ellipse cx="393.7" cy="414.4" rx="3.8" ry="1.0" fill="#f6e2a4" opacity="0.6" transform="rotate(90 393.7 414.4)"/><ellipse cx="367.6" cy="401.0" rx="3.8" ry="1.0" fill="#dab562" opacity="0.6" transform="rotate(96 367.6 401.0)"/><ellipse cx="396.9" cy="399.6" rx="3.8" ry="1.0" fill="#f6e2a4" opacity="0.6" transform="rotate(92 396.9 399.6)"/><ellipse cx="365.9" cy="415.6" rx="3.8" ry="1.0" fill="#dab562" opacity="0.6" transform="rotate(52 365.9 415.6)"/><ellipse cx="385.5" cy="423.3" rx="3.8" ry="1.0" fill="#dab562" opacity="0.6" transform="rotate(11 385.5 423.3)"/><ellipse cx="373.7" cy="420.8" rx="3.8" ry="1.0" fill="#f6e2a4" opacity="0.6" transform="rotate(165 373.7 420.8)"/><ellipse cx="397.0" cy="396.7" rx="3.8" ry="1.0" fill="#f6e2a4" opacity="0.6" transform="rotate(63 397.0 396.7)"/><ellipse cx="393.1" cy="403.8" rx="3.8" ry="1.0" fill="#f6e2a4" opacity="0.6" transform="rotate(155 393.1 403.8)"/><ellipse cx="377.1" cy="406.7" rx="3.8" ry="1.0" fill="#dab562" opacity="0.6" transform="rotate(109 377.1 406.7)"/><ellipse cx="391.2" cy="400.0" rx="3.8" ry="1.0" fill="#f6e2a4" opacity="0.6" transform="rotate(39 391.2 400.0)"/><ellipse cx="378.9" cy="420.4" rx="3.8" ry="1.0" fill="#dab562" opacity="0.6" transform="rotate(150 378.9 420.4)"/><ellipse cx="363.5" cy="418.5" rx="3.8" ry="1.0" fill="#dab562" opacity="0.6" transform="rotate(140 363.5 418.5)"/><ellipse cx="369.9" cy="404.3" rx="3.8" ry="1.0" fill="#f6e2a4" opacity="0.6" transform="rotate(20 369.9 404.3)"/></svg>
<svg class="ab" style="left:417.8px;top:366.6px" width="80.4" height="80.4" viewBox="417.8 366.6 80.4 80.4"><circle cx="458" cy="406.8" r="34.7" fill="none" stroke="#d8d8d6" stroke-width="11"/><circle cx="458" cy="406.8" r="29.200000000000003" fill="#f5f5f1"/><circle cx="458" cy="406.8" r="34.7" fill="none" stroke="#dba631" stroke-width="11" stroke-dasharray="39.52 218.03" transform="rotate(-90 458 406.8)"/></svg>
<div id="t24" class="t" style="left:436.25px;transform:scaleX(0.9149);top:387.7px;font-size:19px;font-weight:700;color:#111;">0.209</div>
<div id="t25" class="t" style="left:437.10px;transform:scaleX(0.7085);top:406.9px;font-size:18.5px;font-weight:400;color:#1a1a1a;">ล้านตัน</div>
<svg class="ab" style="left:513.8px;top:369.7px" width="67.0" height="67.0" viewBox="513.8 369.7 67.0 67.0"><defs><radialGradient id="bw547" cx="547.3" cy="403.2" r="32.5" gradientUnits="userSpaceOnUse"><stop offset="0.78" stop-color="#925a2f"/><stop offset="0.86" stop-color="#ad703f"/><stop offset="0.95" stop-color="#c88f5a"/><stop offset="1" stop-color="#ad7040"/></radialGradient><radialGradient id="bw547r" cx="547.3" cy="403.2" r="26.5" gradientUnits="userSpaceOnUse"><stop offset="0.6" stop-color="#f1e9d8"/><stop offset="1" stop-color="#d8c8a8"/></radialGradient></defs><circle cx="547.3" cy="403.2" r="32.5" fill="url(#bw547)"/><circle cx="547.3" cy="403.2" r="26.5" fill="url(#bw547r)"/><ellipse cx="556.1" cy="419.6" rx="3.8" ry="1.0" fill="#fdfaf2" opacity="0.8" transform="rotate(122 556.1 419.6)"/><ellipse cx="549.9" cy="417.0" rx="3.8" ry="1.0" fill="#bda986" opacity="0.8" transform="rotate(94 549.9 417.0)"/><ellipse cx="559.8" cy="392.2" rx="3.8" ry="1.0" fill="#bda986" opacity="0.8" transform="rotate(116 559.8 392.2)"/><ellipse cx="541.8" cy="398.2" rx="3.8" ry="1.0" fill="#bda986" opacity="0.8" transform="rotate(146 541.8 398.2)"/><ellipse cx="533.4" cy="398.4" rx="3.8" ry="1.0" fill="#fdfaf2" opacity="0.8" transform="rotate(121 533.4 398.4)"/><ellipse cx="556.5" cy="384.0" rx="3.8" ry="1.0" fill="#bda986" opacity="0.8" transform="rotate(40 556.5 384.0)"/><ellipse cx="544.4" cy="398.0" rx="3.8" ry="1.0" fill="#fdfaf2" opacity="0.8" transform="rotate(166 544.4 398.0)"/><ellipse cx="549.0" cy="423.3" rx="3.8" ry="1.0" fill="#bda986" opacity="0.8" transform="rotate(173 549.0 423.3)"/><ellipse cx="552.8" cy="402.1" rx="3.8" ry="1.0" fill="#bda986" opacity="0.8" transform="rotate(80 552.8 402.1)"/><ellipse cx="553.1" cy="421.8" rx="3.8" ry="1.0" fill="#bda986" opacity="0.8" transform="rotate(48 553.1 421.8)"/><ellipse cx="548.7" cy="403.8" rx="3.8" ry="1.0" fill="#fdfaf2" opacity="0.8" transform="rotate(82 548.7 403.8)"/><ellipse cx="553.7" cy="404.9" rx="3.8" ry="1.0" fill="#fdfaf2" opacity="0.8" transform="rotate(98 553.7 404.9)"/><ellipse cx="549.5" cy="395.8" rx="3.8" ry="1.0" fill="#bda986" opacity="0.8" transform="rotate(42 549.5 395.8)"/><ellipse cx="535.6" cy="410.6" rx="3.8" ry="1.0" fill="#bda986" opacity="0.8" transform="rotate(110 535.6 410.6)"/><ellipse cx="561.8" cy="400.3" rx="3.8" ry="1.0" fill="#bda986" opacity="0.8" transform="rotate(27 561.8 400.3)"/><ellipse cx="544.2" cy="405.6" rx="3.8" ry="1.0" fill="#fdfaf2" opacity="0.8" transform="rotate(11 544.2 405.6)"/><ellipse cx="545.2" cy="380.6" rx="3.8" ry="1.0" fill="#fdfaf2" opacity="0.8" transform="rotate(40 545.2 380.6)"/><ellipse cx="545.6" cy="394.1" rx="3.8" ry="1.0" fill="#fdfaf2" opacity="0.8" transform="rotate(55 545.6 394.1)"/><ellipse cx="531.8" cy="400.2" rx="3.8" ry="1.0" fill="#bda986" opacity="0.8" transform="rotate(51 531.8 400.2)"/><ellipse cx="537.5" cy="395.2" rx="3.8" ry="1.0" fill="#bda986" opacity="0.8" transform="rotate(10 537.5 395.2)"/><ellipse cx="554.8" cy="410.7" rx="3.8" ry="1.0" fill="#bda986" opacity="0.8" transform="rotate(54 554.8 410.7)"/><ellipse cx="536.0" cy="410.9" rx="3.8" ry="1.0" fill="#fdfaf2" opacity="0.8" transform="rotate(17 536.0 410.9)"/><ellipse cx="551.5" cy="388.6" rx="3.8" ry="1.0" fill="#bda986" opacity="0.8" transform="rotate(109 551.5 388.6)"/><ellipse cx="534.9" cy="384.7" rx="3.8" ry="1.0" fill="#bda986" opacity="0.8" transform="rotate(162 534.9 384.7)"/><ellipse cx="553.1" cy="398.0" rx="3.8" ry="1.0" fill="#bda986" opacity="0.8" transform="rotate(50 553.1 398.0)"/><ellipse cx="537.7" cy="411.7" rx="3.8" ry="1.0" fill="#fdfaf2" opacity="0.8" transform="rotate(42 537.7 411.7)"/><ellipse cx="535.5" cy="404.6" rx="3.8" ry="1.0" fill="#bda986" opacity="0.8" transform="rotate(45 535.5 404.6)"/><ellipse cx="550.1" cy="411.1" rx="3.8" ry="1.0" fill="#bda986" opacity="0.8" transform="rotate(175 550.1 411.1)"/><ellipse cx="539.5" cy="400.6" rx="3.8" ry="1.0" fill="#bda986" opacity="0.8" transform="rotate(170 539.5 400.6)"/><ellipse cx="554.7" cy="387.5" rx="3.8" ry="1.0" fill="#fdfaf2" opacity="0.8" transform="rotate(123 554.7 387.5)"/><ellipse cx="554.8" cy="394.7" rx="3.8" ry="1.0" fill="#fdfaf2" opacity="0.8" transform="rotate(38 554.8 394.7)"/><ellipse cx="566.9" cy="398.2" rx="3.8" ry="1.0" fill="#bda986" opacity="0.8" transform="rotate(109 566.9 398.2)"/><ellipse cx="537.5" cy="392.8" rx="3.8" ry="1.0" fill="#fdfaf2" opacity="0.8" transform="rotate(39 537.5 392.8)"/><ellipse cx="545.3" cy="424.1" rx="3.8" ry="1.0" fill="#bda986" opacity="0.8" transform="rotate(112 545.3 424.1)"/><ellipse cx="544.5" cy="403.5" rx="3.8" ry="1.0" fill="#fdfaf2" opacity="0.8" transform="rotate(20 544.5 403.5)"/><ellipse cx="565.9" cy="397.1" rx="3.8" ry="1.0" fill="#fdfaf2" opacity="0.8" transform="rotate(34 565.9 397.1)"/><ellipse cx="555.1" cy="411.7" rx="3.8" ry="1.0" fill="#fdfaf2" opacity="0.8" transform="rotate(51 555.1 411.7)"/><ellipse cx="533.1" cy="398.1" rx="3.8" ry="1.0" fill="#bda986" opacity="0.8" transform="rotate(125 533.1 398.1)"/><ellipse cx="540.6" cy="399.9" rx="3.8" ry="1.0" fill="#bda986" opacity="0.8" transform="rotate(85 540.6 399.9)"/><ellipse cx="538.6" cy="385.5" rx="3.8" ry="1.0" fill="#bda986" opacity="0.8" transform="rotate(148 538.6 385.5)"/><ellipse cx="542.1" cy="423.0" rx="3.8" ry="1.0" fill="#fdfaf2" opacity="0.8" transform="rotate(35 542.1 423.0)"/><ellipse cx="564.1" cy="410.7" rx="3.8" ry="1.0" fill="#fdfaf2" opacity="0.8" transform="rotate(10 564.1 410.7)"/><ellipse cx="544.6" cy="409.9" rx="3.8" ry="1.0" fill="#bda986" opacity="0.8" transform="rotate(156 544.6 409.9)"/><ellipse cx="552.6" cy="381.9" rx="3.8" ry="1.0" fill="#bda986" opacity="0.8" transform="rotate(15 552.6 381.9)"/><ellipse cx="549.0" cy="408.3" rx="3.8" ry="1.0" fill="#fdfaf2" opacity="0.8" transform="rotate(177 549.0 408.3)"/><ellipse cx="556.6" cy="418.0" rx="3.8" ry="1.0" fill="#bda986" opacity="0.8" transform="rotate(44 556.6 418.0)"/><ellipse cx="548.2" cy="418.7" rx="3.8" ry="1.0" fill="#fdfaf2" opacity="0.8" transform="rotate(166 548.2 418.7)"/><ellipse cx="558.5" cy="403.5" rx="3.8" ry="1.0" fill="#fdfaf2" opacity="0.8" transform="rotate(60 558.5 403.5)"/><ellipse cx="564.5" cy="417.8" rx="3.8" ry="1.0" fill="#fdfaf2" opacity="0.8" transform="rotate(121 564.5 417.8)"/><ellipse cx="536.8" cy="394.5" rx="3.8" ry="1.0" fill="#bda986" opacity="0.8" transform="rotate(117 536.8 394.5)"/><ellipse cx="549.8" cy="419.0" rx="3.8" ry="1.0" fill="#fdfaf2" opacity="0.8" transform="rotate(154 549.8 419.0)"/><ellipse cx="562.9" cy="414.2" rx="3.8" ry="1.0" fill="#fdfaf2" opacity="0.8" transform="rotate(128 562.9 414.2)"/><ellipse cx="561.3" cy="415.9" rx="3.8" ry="1.0" fill="#fdfaf2" opacity="0.8" transform="rotate(141 561.3 415.9)"/><ellipse cx="539.9" cy="398.8" rx="3.8" ry="1.0" fill="#bda986" opacity="0.8" transform="rotate(125 539.9 398.8)"/><ellipse cx="562.5" cy="419.8" rx="3.8" ry="1.0" fill="#bda986" opacity="0.8" transform="rotate(128 562.5 419.8)"/><ellipse cx="541.8" cy="405.3" rx="3.8" ry="1.0" fill="#fdfaf2" opacity="0.8" transform="rotate(20 541.8 405.3)"/><ellipse cx="535.3" cy="387.4" rx="3.8" ry="1.0" fill="#bda986" opacity="0.8" transform="rotate(3 535.3 387.4)"/><ellipse cx="559.0" cy="415.1" rx="3.8" ry="1.0" fill="#bda986" opacity="0.8" transform="rotate(92 559.0 415.1)"/><ellipse cx="556.7" cy="409.3" rx="3.8" ry="1.0" fill="#fdfaf2" opacity="0.8" transform="rotate(75 556.7 409.3)"/><ellipse cx="538.7" cy="390.1" rx="3.8" ry="1.0" fill="#fdfaf2" opacity="0.8" transform="rotate(30 538.7 390.1)"/><ellipse cx="541.6" cy="393.5" rx="3.8" ry="1.0" fill="#bda986" opacity="0.8" transform="rotate(64 541.6 393.5)"/><ellipse cx="554.6" cy="381.8" rx="3.8" ry="1.0" fill="#fdfaf2" opacity="0.8" transform="rotate(171 554.6 381.8)"/><ellipse cx="548.4" cy="390.5" rx="3.8" ry="1.0" fill="#fdfaf2" opacity="0.8" transform="rotate(89 548.4 390.5)"/><ellipse cx="566.7" cy="391.7" rx="3.8" ry="1.0" fill="#bda986" opacity="0.8" transform="rotate(93 566.7 391.7)"/><ellipse cx="527.4" cy="395.6" rx="3.8" ry="1.0" fill="#fdfaf2" opacity="0.8" transform="rotate(77 527.4 395.6)"/><ellipse cx="537.0" cy="395.4" rx="3.8" ry="1.0" fill="#bda986" opacity="0.8" transform="rotate(56 537.0 395.4)"/><ellipse cx="565.8" cy="408.7" rx="3.8" ry="1.0" fill="#fdfaf2" opacity="0.8" transform="rotate(86 565.8 408.7)"/><ellipse cx="545.0" cy="427.0" rx="3.8" ry="1.0" fill="#bda986" opacity="0.8" transform="rotate(107 545.0 427.0)"/><ellipse cx="553.8" cy="392.0" rx="3.8" ry="1.0" fill="#bda986" opacity="0.8" transform="rotate(103 553.8 392.0)"/><ellipse cx="553.6" cy="412.7" rx="3.8" ry="1.0" fill="#bda986" opacity="0.8" transform="rotate(174 553.6 412.7)"/><ellipse cx="560.9" cy="412.5" rx="3.8" ry="1.0" fill="#bda986" opacity="0.8" transform="rotate(111 560.9 412.5)"/><ellipse cx="549.4" cy="381.2" rx="3.8" ry="1.0" fill="#fdfaf2" opacity="0.8" transform="rotate(22 549.4 381.2)"/><ellipse cx="554.1" cy="385.3" rx="3.8" ry="1.0" fill="#fdfaf2" opacity="0.8" transform="rotate(12 554.1 385.3)"/><ellipse cx="536.9" cy="400.1" rx="3.8" ry="1.0" fill="#fdfaf2" opacity="0.8" transform="rotate(161 536.9 400.1)"/><ellipse cx="550.3" cy="402.2" rx="3.8" ry="1.0" fill="#bda986" opacity="0.8" transform="rotate(125 550.3 402.2)"/><ellipse cx="546.3" cy="381.3" rx="3.8" ry="1.0" fill="#fdfaf2" opacity="0.8" transform="rotate(75 546.3 381.3)"/><ellipse cx="559.7" cy="399.8" rx="3.8" ry="1.0" fill="#fdfaf2" opacity="0.8" transform="rotate(64 559.7 399.8)"/><ellipse cx="524.7" cy="407.6" rx="3.8" ry="1.0" fill="#fdfaf2" opacity="0.8" transform="rotate(122 524.7 407.6)"/><ellipse cx="550.6" cy="401.1" rx="3.8" ry="1.0" fill="#fdfaf2" opacity="0.8" transform="rotate(76 550.6 401.1)"/><ellipse cx="547.5" cy="410.9" rx="3.8" ry="1.0" fill="#bda986" opacity="0.8" transform="rotate(149 547.5 410.9)"/><ellipse cx="533.7" cy="395.9" rx="3.8" ry="1.0" fill="#fdfaf2" opacity="0.8" transform="rotate(98 533.7 395.9)"/><ellipse cx="559.8" cy="407.2" rx="3.8" ry="1.0" fill="#fdfaf2" opacity="0.8" transform="rotate(86 559.8 407.2)"/><ellipse cx="546.3" cy="381.2" rx="3.8" ry="1.0" fill="#fdfaf2" opacity="0.8" transform="rotate(59 546.3 381.2)"/><ellipse cx="550.0" cy="390.0" rx="3.8" ry="1.0" fill="#fdfaf2" opacity="0.8" transform="rotate(91 550.0 390.0)"/><ellipse cx="553.8" cy="404.7" rx="3.8" ry="1.0" fill="#bda986" opacity="0.8" transform="rotate(15 553.8 404.7)"/><ellipse cx="532.7" cy="399.2" rx="3.8" ry="1.0" fill="#fdfaf2" opacity="0.8" transform="rotate(114 532.7 399.2)"/><ellipse cx="552.2" cy="391.7" rx="3.8" ry="1.0" fill="#fdfaf2" opacity="0.8" transform="rotate(97 552.2 391.7)"/><ellipse cx="533.8" cy="407.9" rx="3.8" ry="1.0" fill="#fdfaf2" opacity="0.8" transform="rotate(53 533.8 407.9)"/><ellipse cx="553.1" cy="419.1" rx="3.8" ry="1.0" fill="#fdfaf2" opacity="0.8" transform="rotate(103 553.1 419.1)"/><ellipse cx="532.5" cy="395.6" rx="3.8" ry="1.0" fill="#bda986" opacity="0.8" transform="rotate(166 532.5 395.6)"/><ellipse cx="557.2" cy="420.5" rx="3.8" ry="1.0" fill="#bda986" opacity="0.8" transform="rotate(2 557.2 420.5)"/><ellipse cx="542.5" cy="407.2" rx="3.8" ry="1.0" fill="#fdfaf2" opacity="0.8" transform="rotate(23 542.5 407.2)"/><ellipse cx="565.6" cy="400.4" rx="3.8" ry="1.0" fill="#bda986" opacity="0.8" transform="rotate(85 565.6 400.4)"/><ellipse cx="569.8" cy="395.3" rx="3.8" ry="1.0" fill="#bda986" opacity="0.8" transform="rotate(42 569.8 395.3)"/><ellipse cx="542.4" cy="410.2" rx="3.8" ry="1.0" fill="#fdfaf2" opacity="0.8" transform="rotate(152 542.4 410.2)"/><ellipse cx="536.7" cy="409.6" rx="3.8" ry="1.0" fill="#bda986" opacity="0.8" transform="rotate(24 536.7 409.6)"/><ellipse cx="537.5" cy="400.2" rx="3.8" ry="1.0" fill="#fdfaf2" opacity="0.8" transform="rotate(83 537.5 400.2)"/><ellipse cx="552.7" cy="424.8" rx="3.8" ry="1.0" fill="#fdfaf2" opacity="0.8" transform="rotate(156 552.7 424.8)"/><ellipse cx="560.7" cy="416.5" rx="3.8" ry="1.0" fill="#bda986" opacity="0.8" transform="rotate(135 560.7 416.5)"/><ellipse cx="563.5" cy="408.3" rx="3.8" ry="1.0" fill="#fdfaf2" opacity="0.8" transform="rotate(154 563.5 408.3)"/><ellipse cx="550.5" cy="406.0" rx="3.8" ry="1.0" fill="#fdfaf2" opacity="0.8" transform="rotate(103 550.5 406.0)"/><ellipse cx="549.4" cy="393.9" rx="3.8" ry="1.0" fill="#bda986" opacity="0.8" transform="rotate(135 549.4 393.9)"/><ellipse cx="544.5" cy="381.0" rx="3.8" ry="1.0" fill="#bda986" opacity="0.8" transform="rotate(124 544.5 381.0)"/><ellipse cx="549.9" cy="400.6" rx="3.8" ry="1.0" fill="#fdfaf2" opacity="0.8" transform="rotate(127 549.9 400.6)"/><ellipse cx="553.2" cy="394.9" rx="3.8" ry="1.0" fill="#fdfaf2" opacity="0.8" transform="rotate(79 553.2 394.9)"/><ellipse cx="554.2" cy="406.3" rx="3.8" ry="1.0" fill="#bda986" opacity="0.8" transform="rotate(114 554.2 406.3)"/><ellipse cx="528.4" cy="400.6" rx="3.8" ry="1.0" fill="#fdfaf2" opacity="0.8" transform="rotate(69 528.4 400.6)"/><ellipse cx="567.3" cy="393.8" rx="3.8" ry="1.0" fill="#bda986" opacity="0.8" transform="rotate(149 567.3 393.8)"/><ellipse cx="544.5" cy="391.9" rx="3.8" ry="1.0" fill="#bda986" opacity="0.8" transform="rotate(140 544.5 391.9)"/><ellipse cx="530.7" cy="414.2" rx="3.8" ry="1.0" fill="#fdfaf2" opacity="0.8" transform="rotate(164 530.7 414.2)"/><ellipse cx="563.8" cy="386.4" rx="3.8" ry="1.0" fill="#fdfaf2" opacity="0.8" transform="rotate(96 563.8 386.4)"/><ellipse cx="533.1" cy="386.6" rx="3.8" ry="1.0" fill="#fdfaf2" opacity="0.8" transform="rotate(57 533.1 386.6)"/><ellipse cx="525.5" cy="400.9" rx="3.8" ry="1.0" fill="#fdfaf2" opacity="0.8" transform="rotate(86 525.5 400.9)"/><ellipse cx="562.7" cy="416.6" rx="3.8" ry="1.0" fill="#bda986" opacity="0.8" transform="rotate(62 562.7 416.6)"/><ellipse cx="536.4" cy="388.8" rx="3.8" ry="1.0" fill="#bda986" opacity="0.8" transform="rotate(76 536.4 388.8)"/><ellipse cx="544.5" cy="425.2" rx="3.8" ry="1.0" fill="#fdfaf2" opacity="0.8" transform="rotate(66 544.5 425.2)"/><ellipse cx="544.5" cy="401.6" rx="3.8" ry="1.0" fill="#fdfaf2" opacity="0.8" transform="rotate(123 544.5 401.6)"/><ellipse cx="555.7" cy="420.6" rx="3.8" ry="1.0" fill="#bda986" opacity="0.8" transform="rotate(7 555.7 420.6)"/><ellipse cx="526.3" cy="414.7" rx="3.8" ry="1.0" fill="#bda986" opacity="0.8" transform="rotate(147 526.3 414.7)"/><ellipse cx="539.3" cy="388.6" rx="3.8" ry="1.0" fill="#fdfaf2" opacity="0.8" transform="rotate(144 539.3 388.6)"/></svg>
<svg class="ab" style="left:588.8px;top:366.40000000000003px" width="80.4" height="80.4" viewBox="588.8 366.40000000000003 80.4 80.4"><circle cx="629" cy="406.6" r="34.7" fill="none" stroke="#d8d8d6" stroke-width="11"/><circle cx="629" cy="406.6" r="29.200000000000003" fill="#f5f5f1"/><circle cx="629" cy="406.6" r="34.7" fill="none" stroke="#dba631" stroke-width="11" stroke-dasharray="14.37 218.03" transform="rotate(-90 629 406.6)"/></svg>
<div id="t26" class="t" style="left:607.25px;transform:scaleX(0.9149);top:387.7px;font-size:19px;font-weight:700;color:#111;">0.076</div>
<div id="t27" class="t" style="left:608.10px;transform:scaleX(0.7085);top:406.9px;font-size:18.5px;font-weight:400;color:#1a1a1a;">ล้านตัน</div>
<svg class="ab" style="left:688.3px;top:370.0px" width="67.0" height="67.0" viewBox="688.3 370.0 67.0 67.0"><defs><radialGradient id="bw721" cx="721.8" cy="403.5" r="32.5" gradientUnits="userSpaceOnUse"><stop offset="0.78" stop-color="#925a2f"/><stop offset="0.86" stop-color="#ad703f"/><stop offset="0.95" stop-color="#c88f5a"/><stop offset="1" stop-color="#ad7040"/></radialGradient><radialGradient id="bw721r" cx="721.8" cy="403.5" r="26.5" gradientUnits="userSpaceOnUse"><stop offset="0.6" stop-color="#fbfbfa"/><stop offset="1" stop-color="#e2e2e0"/></radialGradient></defs><circle cx="721.8" cy="403.5" r="32.5" fill="url(#bw721)"/><circle cx="721.8" cy="403.5" r="26.5" fill="url(#bw721r)"/><ellipse cx="713.0" cy="421.7" rx="3.8" ry="1.0" fill="#ffffff" opacity="0.45" transform="rotate(179 713.0 421.7)"/><ellipse cx="713.6" cy="407.5" rx="3.8" ry="1.0" fill="#ffffff" opacity="0.45" transform="rotate(132 713.6 407.5)"/><ellipse cx="710.9" cy="420.1" rx="3.8" ry="1.0" fill="#d8d8d6" opacity="0.45" transform="rotate(164 710.9 420.1)"/><ellipse cx="724.1" cy="409.6" rx="3.8" ry="1.0" fill="#ffffff" opacity="0.45" transform="rotate(166 724.1 409.6)"/><ellipse cx="708.4" cy="421.1" rx="3.8" ry="1.0" fill="#d8d8d6" opacity="0.45" transform="rotate(156 708.4 421.1)"/><ellipse cx="735.0" cy="418.9" rx="3.8" ry="1.0" fill="#ffffff" opacity="0.45" transform="rotate(52 735.0 418.9)"/><ellipse cx="722.6" cy="379.7" rx="3.8" ry="1.0" fill="#d8d8d6" opacity="0.45" transform="rotate(54 722.6 379.7)"/><ellipse cx="718.9" cy="396.3" rx="3.8" ry="1.0" fill="#d8d8d6" opacity="0.45" transform="rotate(33 718.9 396.3)"/><ellipse cx="735.2" cy="391.5" rx="3.8" ry="1.0" fill="#d8d8d6" opacity="0.45" transform="rotate(42 735.2 391.5)"/><ellipse cx="713.7" cy="382.8" rx="3.8" ry="1.0" fill="#ffffff" opacity="0.45" transform="rotate(164 713.7 382.8)"/><ellipse cx="741.6" cy="399.7" rx="3.8" ry="1.0" fill="#d8d8d6" opacity="0.45" transform="rotate(133 741.6 399.7)"/><ellipse cx="707.6" cy="419.4" rx="3.8" ry="1.0" fill="#ffffff" opacity="0.45" transform="rotate(82 707.6 419.4)"/><ellipse cx="723.5" cy="386.0" rx="3.8" ry="1.0" fill="#d8d8d6" opacity="0.45" transform="rotate(18 723.5 386.0)"/><ellipse cx="724.7" cy="385.3" rx="3.8" ry="1.0" fill="#d8d8d6" opacity="0.45" transform="rotate(6 724.7 385.3)"/><ellipse cx="708.1" cy="417.5" rx="3.8" ry="1.0" fill="#d8d8d6" opacity="0.45" transform="rotate(176 708.1 417.5)"/><ellipse cx="737.8" cy="404.3" rx="3.8" ry="1.0" fill="#d8d8d6" opacity="0.45" transform="rotate(53 737.8 404.3)"/><ellipse cx="714.4" cy="420.3" rx="3.8" ry="1.0" fill="#ffffff" opacity="0.45" transform="rotate(119 714.4 420.3)"/><ellipse cx="705.1" cy="411.1" rx="3.8" ry="1.0" fill="#d8d8d6" opacity="0.45" transform="rotate(9 705.1 411.1)"/><ellipse cx="716.7" cy="398.9" rx="3.8" ry="1.0" fill="#ffffff" opacity="0.45" transform="rotate(128 716.7 398.9)"/><ellipse cx="708.6" cy="387.6" rx="3.8" ry="1.0" fill="#ffffff" opacity="0.45" transform="rotate(26 708.6 387.6)"/><ellipse cx="713.5" cy="407.6" rx="3.8" ry="1.0" fill="#ffffff" opacity="0.45" transform="rotate(84 713.5 407.6)"/><ellipse cx="728.0" cy="396.9" rx="3.8" ry="1.0" fill="#d8d8d6" opacity="0.45" transform="rotate(111 728.0 396.9)"/><ellipse cx="724.9" cy="404.4" rx="3.8" ry="1.0" fill="#ffffff" opacity="0.45" transform="rotate(111 724.9 404.4)"/><ellipse cx="738.0" cy="387.6" rx="3.8" ry="1.0" fill="#d8d8d6" opacity="0.45" transform="rotate(73 738.0 387.6)"/><ellipse cx="705.6" cy="416.6" rx="3.8" ry="1.0" fill="#d8d8d6" opacity="0.45" transform="rotate(9 705.6 416.6)"/><ellipse cx="721.7" cy="413.3" rx="3.8" ry="1.0" fill="#d8d8d6" opacity="0.45" transform="rotate(104 721.7 413.3)"/><ellipse cx="732.3" cy="387.3" rx="3.8" ry="1.0" fill="#ffffff" opacity="0.45" transform="rotate(117 732.3 387.3)"/><ellipse cx="716.5" cy="392.9" rx="3.8" ry="1.0" fill="#ffffff" opacity="0.45" transform="rotate(9 716.5 392.9)"/><ellipse cx="744.4" cy="399.7" rx="3.8" ry="1.0" fill="#ffffff" opacity="0.45" transform="rotate(83 744.4 399.7)"/><ellipse cx="728.1" cy="416.7" rx="3.8" ry="1.0" fill="#d8d8d6" opacity="0.45" transform="rotate(163 728.1 416.7)"/><ellipse cx="720.3" cy="400.3" rx="3.8" ry="1.0" fill="#ffffff" opacity="0.45" transform="rotate(93 720.3 400.3)"/><ellipse cx="723.5" cy="408.9" rx="3.8" ry="1.0" fill="#d8d8d6" opacity="0.45" transform="rotate(157 723.5 408.9)"/><ellipse cx="721.0" cy="422.1" rx="3.8" ry="1.0" fill="#d8d8d6" opacity="0.45" transform="rotate(100 721.0 422.1)"/><ellipse cx="711.4" cy="382.1" rx="3.8" ry="1.0" fill="#ffffff" opacity="0.45" transform="rotate(4 711.4 382.1)"/><ellipse cx="736.7" cy="417.3" rx="3.8" ry="1.0" fill="#ffffff" opacity="0.45" transform="rotate(39 736.7 417.3)"/><ellipse cx="724.7" cy="387.7" rx="3.8" ry="1.0" fill="#ffffff" opacity="0.45" transform="rotate(70 724.7 387.7)"/><ellipse cx="731.6" cy="397.9" rx="3.8" ry="1.0" fill="#d8d8d6" opacity="0.45" transform="rotate(71 731.6 397.9)"/><ellipse cx="736.8" cy="398.0" rx="3.8" ry="1.0" fill="#ffffff" opacity="0.45" transform="rotate(97 736.8 398.0)"/><ellipse cx="744.0" cy="401.1" rx="3.8" ry="1.0" fill="#ffffff" opacity="0.45" transform="rotate(149 744.0 401.1)"/><ellipse cx="712.8" cy="413.0" rx="3.8" ry="1.0" fill="#d8d8d6" opacity="0.45" transform="rotate(6 712.8 413.0)"/><ellipse cx="706.3" cy="412.0" rx="3.8" ry="1.0" fill="#d8d8d6" opacity="0.45" transform="rotate(26 706.3 412.0)"/><ellipse cx="726.3" cy="381.3" rx="3.8" ry="1.0" fill="#d8d8d6" opacity="0.45" transform="rotate(162 726.3 381.3)"/><ellipse cx="712.4" cy="402.6" rx="3.8" ry="1.0" fill="#d8d8d6" opacity="0.45" transform="rotate(177 712.4 402.6)"/><ellipse cx="737.9" cy="385.7" rx="3.8" ry="1.0" fill="#d8d8d6" opacity="0.45" transform="rotate(96 737.9 385.7)"/><ellipse cx="699.7" cy="409.4" rx="3.8" ry="1.0" fill="#d8d8d6" opacity="0.45" transform="rotate(173 699.7 409.4)"/><ellipse cx="712.5" cy="383.5" rx="3.8" ry="1.0" fill="#ffffff" opacity="0.45" transform="rotate(61 712.5 383.5)"/><ellipse cx="733.6" cy="384.9" rx="3.8" ry="1.0" fill="#ffffff" opacity="0.45" transform="rotate(25 733.6 384.9)"/><ellipse cx="740.2" cy="396.2" rx="3.8" ry="1.0" fill="#ffffff" opacity="0.45" transform="rotate(127 740.2 396.2)"/><ellipse cx="729.1" cy="406.6" rx="3.8" ry="1.0" fill="#ffffff" opacity="0.45" transform="rotate(42 729.1 406.6)"/><ellipse cx="717.3" cy="394.1" rx="3.8" ry="1.0" fill="#ffffff" opacity="0.45" transform="rotate(66 717.3 394.1)"/><ellipse cx="725.8" cy="390.5" rx="3.8" ry="1.0" fill="#ffffff" opacity="0.45" transform="rotate(83 725.8 390.5)"/><ellipse cx="727.7" cy="405.4" rx="3.8" ry="1.0" fill="#d8d8d6" opacity="0.45" transform="rotate(28 727.7 405.4)"/><ellipse cx="722.6" cy="390.1" rx="3.8" ry="1.0" fill="#ffffff" opacity="0.45" transform="rotate(176 722.6 390.1)"/><ellipse cx="718.3" cy="402.9" rx="3.8" ry="1.0" fill="#d8d8d6" opacity="0.45" transform="rotate(83 718.3 402.9)"/><ellipse cx="716.7" cy="423.4" rx="3.8" ry="1.0" fill="#ffffff" opacity="0.45" transform="rotate(79 716.7 423.4)"/><ellipse cx="727.0" cy="410.3" rx="3.8" ry="1.0" fill="#d8d8d6" opacity="0.45" transform="rotate(160 727.0 410.3)"/><ellipse cx="722.8" cy="382.8" rx="3.8" ry="1.0" fill="#d8d8d6" opacity="0.45" transform="rotate(41 722.8 382.8)"/><ellipse cx="712.7" cy="406.9" rx="3.8" ry="1.0" fill="#ffffff" opacity="0.45" transform="rotate(147 712.7 406.9)"/><ellipse cx="708.1" cy="407.1" rx="3.8" ry="1.0" fill="#ffffff" opacity="0.45" transform="rotate(26 708.1 407.1)"/><ellipse cx="722.8" cy="384.4" rx="3.8" ry="1.0" fill="#d8d8d6" opacity="0.45" transform="rotate(129 722.8 384.4)"/><ellipse cx="707.2" cy="419.4" rx="3.8" ry="1.0" fill="#ffffff" opacity="0.45" transform="rotate(44 707.2 419.4)"/><ellipse cx="736.2" cy="415.0" rx="3.8" ry="1.0" fill="#d8d8d6" opacity="0.45" transform="rotate(67 736.2 415.0)"/><ellipse cx="733.4" cy="382.7" rx="3.8" ry="1.0" fill="#d8d8d6" opacity="0.45" transform="rotate(119 733.4 382.7)"/><ellipse cx="700.0" cy="402.0" rx="3.8" ry="1.0" fill="#d8d8d6" opacity="0.45" transform="rotate(9 700.0 402.0)"/><ellipse cx="701.9" cy="402.1" rx="3.8" ry="1.0" fill="#ffffff" opacity="0.45" transform="rotate(39 701.9 402.1)"/><ellipse cx="714.8" cy="411.3" rx="3.8" ry="1.0" fill="#d8d8d6" opacity="0.45" transform="rotate(142 714.8 411.3)"/><ellipse cx="708.0" cy="415.6" rx="3.8" ry="1.0" fill="#ffffff" opacity="0.45" transform="rotate(74 708.0 415.6)"/><ellipse cx="741.8" cy="412.4" rx="3.8" ry="1.0" fill="#d8d8d6" opacity="0.45" transform="rotate(29 741.8 412.4)"/><ellipse cx="731.2" cy="400.8" rx="3.8" ry="1.0" fill="#d8d8d6" opacity="0.45" transform="rotate(116 731.2 400.8)"/><ellipse cx="731.2" cy="390.4" rx="3.8" ry="1.0" fill="#ffffff" opacity="0.45" transform="rotate(124 731.2 390.4)"/></svg>
<svg class="ab" style="left:762.6999999999999px;top:366.6px" width="80.4" height="80.4" viewBox="762.6999999999999 366.6 80.4 80.4"><circle cx="802.9" cy="406.8" r="34.7" fill="none" stroke="#d8d8d6" stroke-width="11"/><circle cx="802.9" cy="406.8" r="29.200000000000003" fill="#f5f5f1"/><circle cx="802.9" cy="406.8" r="34.7" fill="none" stroke="#dba631" stroke-width="11" stroke-dasharray="5.67 218.03" transform="rotate(-90 802.9 406.8)"/></svg>
<div id="t28" class="t" style="left:781.15px;transform:scaleX(0.9149);top:387.7px;font-size:19px;font-weight:700;color:#111;">0.030</div>
<div id="t29" class="t" style="left:782.00px;transform:scaleX(0.7085);top:406.9px;font-size:18.5px;font-weight:400;color:#1a1a1a;">ล้านตัน</div>
<svg class="ab" style="left:863.5px;top:369.8px" width="67.0" height="67.0" viewBox="863.5 369.8 67.0 67.0"><defs><radialGradient id="bw897" cx="897" cy="403.3" r="32.5" gradientUnits="userSpaceOnUse"><stop offset="0.78" stop-color="#925a2f"/><stop offset="0.86" stop-color="#ad703f"/><stop offset="0.95" stop-color="#c88f5a"/><stop offset="1" stop-color="#ad7040"/></radialGradient><radialGradient id="bw897r" cx="897" cy="403.3" r="26.5" gradientUnits="userSpaceOnUse"><stop offset="0.6" stop-color="#b56a38"/><stop offset="1" stop-color="#a05a2c"/></radialGradient></defs><circle cx="897" cy="403.3" r="32.5" fill="url(#bw897)"/><circle cx="897" cy="403.3" r="26.5" fill="url(#bw897r)"/><ellipse cx="902.7" cy="399.1" rx="3.8" ry="1.0" fill="#d6915a" opacity="0.95" transform="rotate(165 902.7 399.1)"/><ellipse cx="892.8" cy="392.6" rx="3.8" ry="1.0" fill="#d6915a" opacity="0.95" transform="rotate(68 892.8 392.6)"/><ellipse cx="891.0" cy="419.2" rx="3.8" ry="1.0" fill="#d6915a" opacity="0.95" transform="rotate(17 891.0 419.2)"/><ellipse cx="891.4" cy="426.2" rx="3.8" ry="1.0" fill="#7e3c1a" opacity="0.95" transform="rotate(30 891.4 426.2)"/><ellipse cx="887.9" cy="417.2" rx="3.8" ry="1.0" fill="#7e3c1a" opacity="0.95" transform="rotate(45 887.9 417.2)"/><ellipse cx="915.8" cy="391.9" rx="3.8" ry="1.0" fill="#7e3c1a" opacity="0.95" transform="rotate(9 915.8 391.9)"/><ellipse cx="887.9" cy="382.7" rx="3.8" ry="1.0" fill="#7e3c1a" opacity="0.95" transform="rotate(107 887.9 382.7)"/><ellipse cx="889.4" cy="393.9" rx="3.8" ry="1.0" fill="#7e3c1a" opacity="0.95" transform="rotate(27 889.4 393.9)"/><ellipse cx="883.7" cy="389.9" rx="3.8" ry="1.0" fill="#7e3c1a" opacity="0.95" transform="rotate(37 883.7 389.9)"/><ellipse cx="918.6" cy="412.2" rx="3.8" ry="1.0" fill="#d6915a" opacity="0.95" transform="rotate(78 918.6 412.2)"/><ellipse cx="895.4" cy="426.6" rx="3.8" ry="1.0" fill="#7e3c1a" opacity="0.95" transform="rotate(10 895.4 426.6)"/><ellipse cx="905.1" cy="388.6" rx="3.8" ry="1.0" fill="#7e3c1a" opacity="0.95" transform="rotate(172 905.1 388.6)"/><ellipse cx="909.7" cy="410.9" rx="3.8" ry="1.0" fill="#7e3c1a" opacity="0.95" transform="rotate(80 909.7 410.9)"/><ellipse cx="884.0" cy="403.3" rx="3.8" ry="1.0" fill="#d6915a" opacity="0.95" transform="rotate(107 884.0 403.3)"/><ellipse cx="914.9" cy="418.5" rx="3.8" ry="1.0" fill="#d6915a" opacity="0.95" transform="rotate(71 914.9 418.5)"/><ellipse cx="899.8" cy="422.8" rx="3.8" ry="1.0" fill="#7e3c1a" opacity="0.95" transform="rotate(105 899.8 422.8)"/><ellipse cx="900.8" cy="389.8" rx="3.8" ry="1.0" fill="#7e3c1a" opacity="0.95" transform="rotate(175 900.8 389.8)"/><ellipse cx="901.3" cy="410.8" rx="3.8" ry="1.0" fill="#7e3c1a" opacity="0.95" transform="rotate(112 901.3 410.8)"/><ellipse cx="879.5" cy="400.3" rx="3.8" ry="1.0" fill="#7e3c1a" opacity="0.95" transform="rotate(65 879.5 400.3)"/><ellipse cx="887.1" cy="422.9" rx="3.8" ry="1.0" fill="#d6915a" opacity="0.95" transform="rotate(84 887.1 422.9)"/><ellipse cx="879.9" cy="415.8" rx="3.8" ry="1.0" fill="#7e3c1a" opacity="0.95" transform="rotate(80 879.9 415.8)"/><ellipse cx="881.6" cy="392.1" rx="3.8" ry="1.0" fill="#d6915a" opacity="0.95" transform="rotate(137 881.6 392.1)"/><ellipse cx="916.2" cy="405.0" rx="3.8" ry="1.0" fill="#7e3c1a" opacity="0.95" transform="rotate(86 916.2 405.0)"/><ellipse cx="904.6" cy="411.3" rx="3.8" ry="1.0" fill="#d6915a" opacity="0.95" transform="rotate(171 904.6 411.3)"/><ellipse cx="895.7" cy="390.1" rx="3.8" ry="1.0" fill="#d6915a" opacity="0.95" transform="rotate(35 895.7 390.1)"/><ellipse cx="914.4" cy="387.0" rx="3.8" ry="1.0" fill="#7e3c1a" opacity="0.95" transform="rotate(116 914.4 387.0)"/><ellipse cx="899.3" cy="384.5" rx="3.8" ry="1.0" fill="#d6915a" opacity="0.95" transform="rotate(68 899.3 384.5)"/><ellipse cx="910.2" cy="396.8" rx="3.8" ry="1.0" fill="#d6915a" opacity="0.95" transform="rotate(177 910.2 396.8)"/><ellipse cx="889.2" cy="387.6" rx="3.8" ry="1.0" fill="#d6915a" opacity="0.95" transform="rotate(18 889.2 387.6)"/><ellipse cx="900.6" cy="424.1" rx="3.8" ry="1.0" fill="#d6915a" opacity="0.95" transform="rotate(68 900.6 424.1)"/><ellipse cx="908.0" cy="405.9" rx="3.8" ry="1.0" fill="#7e3c1a" opacity="0.95" transform="rotate(91 908.0 405.9)"/><ellipse cx="884.6" cy="410.1" rx="3.8" ry="1.0" fill="#d6915a" opacity="0.95" transform="rotate(45 884.6 410.1)"/><ellipse cx="885.5" cy="404.2" rx="3.8" ry="1.0" fill="#7e3c1a" opacity="0.95" transform="rotate(51 885.5 404.2)"/><ellipse cx="894.7" cy="390.7" rx="3.8" ry="1.0" fill="#d6915a" opacity="0.95" transform="rotate(138 894.7 390.7)"/><ellipse cx="911.9" cy="396.0" rx="3.8" ry="1.0" fill="#d6915a" opacity="0.95" transform="rotate(37 911.9 396.0)"/><ellipse cx="904.0" cy="413.7" rx="3.8" ry="1.0" fill="#d6915a" opacity="0.95" transform="rotate(79 904.0 413.7)"/><ellipse cx="890.8" cy="425.4" rx="3.8" ry="1.0" fill="#7e3c1a" opacity="0.95" transform="rotate(142 890.8 425.4)"/><ellipse cx="887.7" cy="405.6" rx="3.8" ry="1.0" fill="#7e3c1a" opacity="0.95" transform="rotate(128 887.7 405.6)"/><ellipse cx="890.7" cy="391.1" rx="3.8" ry="1.0" fill="#d6915a" opacity="0.95" transform="rotate(117 890.7 391.1)"/><ellipse cx="879.4" cy="401.1" rx="3.8" ry="1.0" fill="#7e3c1a" opacity="0.95" transform="rotate(126 879.4 401.1)"/><ellipse cx="882.8" cy="414.1" rx="3.8" ry="1.0" fill="#d6915a" opacity="0.95" transform="rotate(82 882.8 414.1)"/><ellipse cx="886.1" cy="395.6" rx="3.8" ry="1.0" fill="#7e3c1a" opacity="0.95" transform="rotate(52 886.1 395.6)"/><ellipse cx="887.1" cy="398.5" rx="3.8" ry="1.0" fill="#d6915a" opacity="0.95" transform="rotate(86 887.1 398.5)"/><ellipse cx="914.4" cy="398.4" rx="3.8" ry="1.0" fill="#d6915a" opacity="0.95" transform="rotate(81 914.4 398.4)"/><ellipse cx="919.1" cy="405.8" rx="3.8" ry="1.0" fill="#7e3c1a" opacity="0.95" transform="rotate(163 919.1 405.8)"/><ellipse cx="907.0" cy="399.1" rx="3.8" ry="1.0" fill="#d6915a" opacity="0.95" transform="rotate(122 907.0 399.1)"/><ellipse cx="893.8" cy="405.3" rx="3.8" ry="1.0" fill="#d6915a" opacity="0.95" transform="rotate(149 893.8 405.3)"/><ellipse cx="916.5" cy="412.1" rx="3.8" ry="1.0" fill="#7e3c1a" opacity="0.95" transform="rotate(73 916.5 412.1)"/><ellipse cx="897.8" cy="393.1" rx="3.8" ry="1.0" fill="#7e3c1a" opacity="0.95" transform="rotate(134 897.8 393.1)"/><ellipse cx="907.2" cy="422.0" rx="3.8" ry="1.0" fill="#d6915a" opacity="0.95" transform="rotate(72 907.2 422.0)"/><ellipse cx="910.9" cy="414.0" rx="3.8" ry="1.0" fill="#7e3c1a" opacity="0.95" transform="rotate(56 910.9 414.0)"/><ellipse cx="884.7" cy="398.9" rx="3.8" ry="1.0" fill="#7e3c1a" opacity="0.95" transform="rotate(3 884.7 398.9)"/><ellipse cx="906.8" cy="415.8" rx="3.8" ry="1.0" fill="#d6915a" opacity="0.95" transform="rotate(177 906.8 415.8)"/><ellipse cx="881.5" cy="410.4" rx="3.8" ry="1.0" fill="#7e3c1a" opacity="0.95" transform="rotate(7 881.5 410.4)"/><ellipse cx="912.2" cy="403.3" rx="3.8" ry="1.0" fill="#d6915a" opacity="0.95" transform="rotate(91 912.2 403.3)"/><ellipse cx="900.8" cy="414.1" rx="3.8" ry="1.0" fill="#7e3c1a" opacity="0.95" transform="rotate(112 900.8 414.1)"/><ellipse cx="900.7" cy="393.6" rx="3.8" ry="1.0" fill="#d6915a" opacity="0.95" transform="rotate(177 900.7 393.6)"/><ellipse cx="884.0" cy="407.2" rx="3.8" ry="1.0" fill="#7e3c1a" opacity="0.95" transform="rotate(145 884.0 407.2)"/><ellipse cx="918.8" cy="394.4" rx="3.8" ry="1.0" fill="#7e3c1a" opacity="0.95" transform="rotate(124 918.8 394.4)"/><ellipse cx="879.2" cy="400.8" rx="3.8" ry="1.0" fill="#7e3c1a" opacity="0.95" transform="rotate(90 879.2 400.8)"/><ellipse cx="884.3" cy="422.0" rx="3.8" ry="1.0" fill="#d6915a" opacity="0.95" transform="rotate(25 884.3 422.0)"/><ellipse cx="889.0" cy="391.7" rx="3.8" ry="1.0" fill="#7e3c1a" opacity="0.95" transform="rotate(166 889.0 391.7)"/><ellipse cx="892.7" cy="409.6" rx="3.8" ry="1.0" fill="#7e3c1a" opacity="0.95" transform="rotate(75 892.7 409.6)"/><ellipse cx="891.3" cy="388.0" rx="3.8" ry="1.0" fill="#7e3c1a" opacity="0.95" transform="rotate(56 891.3 388.0)"/><ellipse cx="879.6" cy="404.3" rx="3.8" ry="1.0" fill="#d6915a" opacity="0.95" transform="rotate(47 879.6 404.3)"/><ellipse cx="874.5" cy="396.3" rx="3.8" ry="1.0" fill="#d6915a" opacity="0.95" transform="rotate(41 874.5 396.3)"/><ellipse cx="920.7" cy="399.8" rx="3.8" ry="1.0" fill="#7e3c1a" opacity="0.95" transform="rotate(19 920.7 399.8)"/><ellipse cx="920.2" cy="398.3" rx="3.8" ry="1.0" fill="#7e3c1a" opacity="0.95" transform="rotate(139 920.2 398.3)"/><ellipse cx="918.0" cy="394.4" rx="3.8" ry="1.0" fill="#7e3c1a" opacity="0.95" transform="rotate(31 918.0 394.4)"/><ellipse cx="918.7" cy="406.2" rx="3.8" ry="1.0" fill="#7e3c1a" opacity="0.95" transform="rotate(13 918.7 406.2)"/><ellipse cx="913.1" cy="417.1" rx="3.8" ry="1.0" fill="#d6915a" opacity="0.95" transform="rotate(29 913.1 417.1)"/><ellipse cx="897.7" cy="418.6" rx="3.8" ry="1.0" fill="#7e3c1a" opacity="0.95" transform="rotate(28 897.7 418.6)"/><ellipse cx="904.1" cy="418.8" rx="3.8" ry="1.0" fill="#d6915a" opacity="0.95" transform="rotate(20 904.1 418.8)"/><ellipse cx="897.7" cy="422.5" rx="3.8" ry="1.0" fill="#d6915a" opacity="0.95" transform="rotate(169 897.7 422.5)"/><ellipse cx="885.1" cy="416.2" rx="3.8" ry="1.0" fill="#d6915a" opacity="0.95" transform="rotate(9 885.1 416.2)"/><ellipse cx="897.0" cy="392.1" rx="3.8" ry="1.0" fill="#d6915a" opacity="0.95" transform="rotate(26 897.0 392.1)"/><ellipse cx="881.0" cy="400.8" rx="3.8" ry="1.0" fill="#d6915a" opacity="0.95" transform="rotate(143 881.0 400.8)"/><ellipse cx="895.7" cy="422.7" rx="3.8" ry="1.0" fill="#d6915a" opacity="0.95" transform="rotate(25 895.7 422.7)"/><ellipse cx="895.0" cy="424.9" rx="3.8" ry="1.0" fill="#d6915a" opacity="0.95" transform="rotate(138 895.0 424.9)"/><ellipse cx="877.0" cy="405.9" rx="3.8" ry="1.0" fill="#d6915a" opacity="0.95" transform="rotate(61 877.0 405.9)"/><ellipse cx="911.9" cy="386.7" rx="3.8" ry="1.0" fill="#d6915a" opacity="0.95" transform="rotate(116 911.9 386.7)"/><ellipse cx="890.1" cy="389.7" rx="3.8" ry="1.0" fill="#7e3c1a" opacity="0.95" transform="rotate(50 890.1 389.7)"/><ellipse cx="901.5" cy="396.8" rx="3.8" ry="1.0" fill="#d6915a" opacity="0.95" transform="rotate(52 901.5 396.8)"/><ellipse cx="894.9" cy="400.0" rx="3.8" ry="1.0" fill="#d6915a" opacity="0.95" transform="rotate(68 894.9 400.0)"/><ellipse cx="880.2" cy="416.8" rx="3.8" ry="1.0" fill="#7e3c1a" opacity="0.95" transform="rotate(25 880.2 416.8)"/><ellipse cx="892.5" cy="400.4" rx="3.8" ry="1.0" fill="#7e3c1a" opacity="0.95" transform="rotate(103 892.5 400.4)"/><ellipse cx="884.7" cy="392.6" rx="3.8" ry="1.0" fill="#7e3c1a" opacity="0.95" transform="rotate(46 884.7 392.6)"/><ellipse cx="881.8" cy="410.9" rx="3.8" ry="1.0" fill="#d6915a" opacity="0.95" transform="rotate(118 881.8 410.9)"/><ellipse cx="881.2" cy="420.9" rx="3.8" ry="1.0" fill="#7e3c1a" opacity="0.95" transform="rotate(78 881.2 420.9)"/><ellipse cx="908.8" cy="396.5" rx="3.8" ry="1.0" fill="#d6915a" opacity="0.95" transform="rotate(11 908.8 396.5)"/><ellipse cx="909.9" cy="415.9" rx="3.8" ry="1.0" fill="#7e3c1a" opacity="0.95" transform="rotate(51 909.9 415.9)"/><ellipse cx="876.1" cy="409.5" rx="3.8" ry="1.0" fill="#d6915a" opacity="0.95" transform="rotate(167 876.1 409.5)"/><ellipse cx="900.0" cy="414.5" rx="3.8" ry="1.0" fill="#7e3c1a" opacity="0.95" transform="rotate(26 900.0 414.5)"/><ellipse cx="882.2" cy="415.9" rx="3.8" ry="1.0" fill="#7e3c1a" opacity="0.95" transform="rotate(97 882.2 415.9)"/><ellipse cx="886.0" cy="406.9" rx="3.8" ry="1.0" fill="#d6915a" opacity="0.95" transform="rotate(180 886.0 406.9)"/><ellipse cx="893.3" cy="401.1" rx="3.8" ry="1.0" fill="#7e3c1a" opacity="0.95" transform="rotate(95 893.3 401.1)"/><ellipse cx="892.1" cy="402.1" rx="3.8" ry="1.0" fill="#d6915a" opacity="0.95" transform="rotate(128 892.1 402.1)"/><ellipse cx="913.0" cy="418.7" rx="3.8" ry="1.0" fill="#d6915a" opacity="0.95" transform="rotate(60 913.0 418.7)"/><ellipse cx="898.2" cy="380.2" rx="3.8" ry="1.0" fill="#7e3c1a" opacity="0.95" transform="rotate(7 898.2 380.2)"/><ellipse cx="896.6" cy="415.7" rx="3.8" ry="1.0" fill="#7e3c1a" opacity="0.95" transform="rotate(76 896.6 415.7)"/><ellipse cx="892.0" cy="402.5" rx="3.8" ry="1.0" fill="#d6915a" opacity="0.95" transform="rotate(94 892.0 402.5)"/><ellipse cx="900.7" cy="411.0" rx="3.8" ry="1.0" fill="#d6915a" opacity="0.95" transform="rotate(114 900.7 411.0)"/><ellipse cx="883.6" cy="393.0" rx="3.8" ry="1.0" fill="#d6915a" opacity="0.95" transform="rotate(29 883.6 393.0)"/><ellipse cx="901.8" cy="413.6" rx="3.8" ry="1.0" fill="#7e3c1a" opacity="0.95" transform="rotate(106 901.8 413.6)"/><ellipse cx="903.9" cy="424.3" rx="3.8" ry="1.0" fill="#7e3c1a" opacity="0.95" transform="rotate(105 903.9 424.3)"/><ellipse cx="884.9" cy="414.2" rx="3.8" ry="1.0" fill="#d6915a" opacity="0.95" transform="rotate(77 884.9 414.2)"/><ellipse cx="911.6" cy="395.5" rx="3.8" ry="1.0" fill="#7e3c1a" opacity="0.95" transform="rotate(162 911.6 395.5)"/><ellipse cx="906.8" cy="390.6" rx="3.8" ry="1.0" fill="#d6915a" opacity="0.95" transform="rotate(64 906.8 390.6)"/><ellipse cx="906.1" cy="400.2" rx="3.8" ry="1.0" fill="#d6915a" opacity="0.95" transform="rotate(148 906.1 400.2)"/><ellipse cx="902.6" cy="409.0" rx="3.8" ry="1.0" fill="#d6915a" opacity="0.95" transform="rotate(102 902.6 409.0)"/></svg>
<svg class="ab" style="left:939.0px;top:366.6px" width="80.4" height="80.4" viewBox="939.0 366.6 80.4 80.4"><circle cx="979.2" cy="406.8" r="34.7" fill="none" stroke="#d8d8d6" stroke-width="11"/><circle cx="979.2" cy="406.8" r="29.200000000000003" fill="#f5f5f1"/><circle cx="979.2" cy="406.8" r="34.7" fill="none" stroke="#dba631" stroke-width="11" stroke-dasharray="2.20 218.03" transform="rotate(-90 979.2 406.8)"/></svg>
<div id="t30" class="t" style="left:957.45px;transform:scaleX(0.9149);top:387.7px;font-size:19px;font-weight:700;color:#111;">0.005</div>
<div id="t31" class="t" style="left:958.30px;transform:scaleX(0.7085);top:406.9px;font-size:18.5px;font-weight:400;color:#1a1a1a;">ล้านตัน</div>
<div class="ab vdash" style="left:157.5px;top:366px;height:126px;"></div>
<div class="ab vdash" style="left:336.5px;top:366px;height:126px;"></div>
<div class="ab vdash" style="left:504.0px;top:366px;height:126px;"></div>
<div class="ab vdash" style="left:678.0px;top:366px;height:126px;"></div>
<div class="ab vdash" style="left:853.5px;top:366px;height:126px;"></div>
<div id="t32" class="t" style="left:7.30px;transform:scaleX(0.7400);top:448.3px;font-size:19.5px;font-weight:700;color:#111;">ข้าวขาว</div>
<div id="t33" class="t" style="left:90.50px;transform:scaleX(0.9851);top:451.0px;font-size:16.5px;font-weight:400;color:#d42a32;-webkit-text-stroke:0.5px #d42a32;">-2.34%</div>
<div id="t34" class="t" style="left:10.30px;transform:scaleX(0.7403);top:483.5px;font-size:19px;font-weight:400;color:#222;">เมื่อเทียบกับปีก่อนหน้า</div>
<div id="t35" class="t" style="left:192.70px;transform:scaleX(0.6667);top:438.8px;font-size:20px;font-weight:700;color:#111;">ข้าว</div>
<div id="t36" class="t" style="left:164.40px;transform:scaleX(0.7394);top:459.1px;font-size:20px;font-weight:700;color:#111;">หอมมะลิไทย</div>
<div id="t37" class="t" style="left:267.50px;transform:scaleX(0.9851);top:451.0px;font-size:16.5px;font-weight:400;color:#d42a32;-webkit-text-stroke:0.5px #d42a32;">-6.45%</div>
<div id="t38" class="t" style="left:180.50px;transform:scaleX(0.7403);top:483.5px;font-size:19px;font-weight:400;color:#222;">เมื่อเทียบกับปีก่อนหน้า</div>
<div id="t39" class="t" style="left:352.90px;transform:scaleX(0.8017);top:448.4px;font-size:19.5px;font-weight:700;color:#111;">ข้าวนึ่ง</div>
<div id="t40" class="t" style="left:427.30px;transform:scaleX(0.9938);top:451.0px;font-size:16.5px;font-weight:400;color:#1f9a45;-webkit-text-stroke:0.5px #1f9a45;">+43.15%</div>
<div id="t41" class="t" style="left:536.60px;transform:scaleX(0.6500);top:439.0px;font-size:20px;font-weight:700;color:#111;">ข้าว</div>
<div id="t42" class="t" style="left:520.95px;transform:scaleX(0.7493);top:459.3px;font-size:20px;font-weight:700;color:#111;">หอมไทย</div>
<div id="t43" class="t" style="left:603.40px;transform:scaleX(1.0135);top:451.0px;font-size:16.5px;font-weight:400;color:#d42a32;-webkit-text-stroke:0.5px #d42a32;">-24.00%</div>
<div id="t44" class="t" style="left:682.60px;transform:scaleX(0.8200);top:448.1px;font-size:19.5px;font-weight:700;color:#111;">ข้าวเหนียว</div>
<div id="t45" class="t" style="left:780.10px;transform:scaleX(1.0103);top:451.0px;font-size:16.5px;font-weight:400;color:#d42a32;-webkit-text-stroke:0.5px #d42a32;">-21.05%</div>
<div id="t46" class="t" style="left:865.90px;transform:scaleX(0.8407);top:448.1px;font-size:19.5px;font-weight:700;color:#111;">ข้าวกล้อง</div>
<div id="t47" class="t" style="left:955.70px;transform:scaleX(1.0054);top:451.0px;font-size:16.5px;font-weight:400;color:#d42a32;-webkit-text-stroke:0.5px #d42a32;">-90.57%</div>
<svg class="ab" style="left:77.8px;top:456.2px" width="8.5" height="8" viewBox="0 0 8.5 8"><path d="M0,0 L8.5,0 L4.25,8Z" fill="#d42a32"/><path d="M0,0 L4.25,0 L4.25,8Z" fill="#c01020" opacity="0.5"/></svg>
<svg class="ab" style="left:254.8px;top:456.2px" width="8.5" height="8" viewBox="0 0 8.5 8"><path d="M0,0 L8.5,0 L4.25,8Z" fill="#d42a32"/><path d="M0,0 L4.25,0 L4.25,8Z" fill="#c01020" opacity="0.5"/></svg>
<svg class="ab" style="left:414.6px;top:456.2px" width="9" height="8.3" viewBox="0 0 9 8.3"><path d="M0,8.3 L4.5,0 L9,8.3Z" fill="#1f9a45"/><path d="M4.5,0 L9,8.3 L4.5,8.3Z" fill="#5cc060" opacity="0.45"/></svg>
<svg class="ab" style="left:593.2px;top:456.2px" width="8.5" height="8" viewBox="0 0 8.5 8"><path d="M0,0 L8.5,0 L4.25,8Z" fill="#d42a32"/><path d="M0,0 L4.25,0 L4.25,8Z" fill="#c01020" opacity="0.5"/></svg>
<svg class="ab" style="left:768.7px;top:456.2px" width="8.5" height="8" viewBox="0 0 8.5 8"><path d="M0,0 L8.5,0 L4.25,8Z" fill="#d42a32"/><path d="M0,0 L4.25,0 L4.25,8Z" fill="#c01020" opacity="0.5"/></svg>
<svg class="ab" style="left:944px;top:456.2px" width="8.5" height="8" viewBox="0 0 8.5 8"><path d="M0,0 L8.5,0 L4.25,8Z" fill="#d42a32"/><path d="M0,0 L4.25,0 L4.25,8Z" fill="#c01020" opacity="0.5"/></svg>
<div class="ab" style="left:7px;top:510px;width:1011px;height:138px;background:#efedda;border-radius:15px;box-shadow:0 1px 3px rgba(0,0,0,.35);"></div>
<div id="t48" class="t" style="left:42.90px;transform:scaleX(0.7672);top:516.1px;font-size:25px;font-weight:700;color:#111;">ตลาดส่งออกข้าวไทยที่สำคัญ</div>
<svg class="ab" style="left:23.1px;top:555.9px" width="43.0" height="43.0" viewBox="-21.5 -21.5 43.0 43.0"><defs><clipPath id="cza"><circle r="19.5"/></clipPath></defs><circle r="20.7" fill="#cfcfcf"/><g clip-path="url(#cza)"><rect x="-30" y="-30" width="60" height="30" fill="#e03c31"/><rect x="-30" y="0" width="60" height="30" fill="#001489"/><path d="M-30,-26 L4,0 L30,0 M-30,26 L4,0" fill="none" stroke="#fff" stroke-width="10"/><path d="M-30,-26 L4,0 L30,0 M-30,26 L4,0" fill="none" stroke="#007749" stroke-width="7"/><path d="M-30,-19 L-2,0 L-30,19Z" fill="#ffb81c"/><path d="M-30,-15.5 L-4.6,0 L-30,15.5Z" fill="#000"/></g></svg>
<div id="t49" class="t" style="left:69.00px;transform:scaleX(0.8171);top:550.9px;font-size:16px;font-weight:700;color:#111;">แอฟริกาใต้ <span style="font-size:14px">0.145</span> ล้านตัน</div>
<div id="t50" class="t" style="left:88.00px;transform:scaleX(0.8890);top:573.6px;font-size:29px;font-weight:400;color:#1f9a45;-webkit-text-stroke:1.1px #1f9a45;">+46.46%</div>
<div id="t51" class="t" style="left:83.00px;transform:scaleX(0.6976);top:607.6px;font-size:16.5px;font-weight:400;color:#222;">คิดเป็นสัดส่วน 12.58%</div>
<div id="t52" class="t" style="left:51.00px;transform:scaleX(0.6543);top:625.2px;font-size:16.5px;font-weight:400;color:#222;">ของปริมาณการส่งออกข้าวไทยทั้งหมด</div>
<svg class="ab" style="left:226.3px;top:556.3px" width="43.0" height="43.0" viewBox="-21.5 -21.5 43.0 43.0"><defs><clipPath id="cus"><circle r="19.5"/></clipPath></defs><circle r="20.7" fill="#cfcfcf"/><g clip-path="url(#cus)"><rect x="-30" y="-19.50" width="60" height="3.05" fill="#b22234"/><rect x="-30" y="-16.50" width="60" height="3.05" fill="#fff"/><rect x="-30" y="-13.50" width="60" height="3.05" fill="#b22234"/><rect x="-30" y="-10.50" width="60" height="3.05" fill="#fff"/><rect x="-30" y="-7.50" width="60" height="3.05" fill="#b22234"/><rect x="-30" y="-4.50" width="60" height="3.05" fill="#fff"/><rect x="-30" y="-1.50" width="60" height="3.05" fill="#b22234"/><rect x="-30" y="1.50" width="60" height="3.05" fill="#fff"/><rect x="-30" y="4.50" width="60" height="3.05" fill="#b22234"/><rect x="-30" y="7.50" width="60" height="3.05" fill="#fff"/><rect x="-30" y="10.50" width="60" height="3.05" fill="#b22234"/><rect x="-30" y="13.50" width="60" height="3.05" fill="#fff"/><rect x="-30" y="16.50" width="60" height="3.05" fill="#b22234"/><rect x="-30" y="-19.5" width="30" height="21.00" fill="#3c3b6e"/><circle cx="-18.0" cy="-17.5" r="0.65" fill="#fff"/><circle cx="-14.9" cy="-17.5" r="0.65" fill="#fff"/><circle cx="-11.8" cy="-17.5" r="0.65" fill="#fff"/><circle cx="-8.7" cy="-17.5" r="0.65" fill="#fff"/><circle cx="-5.6" cy="-17.5" r="0.65" fill="#fff"/><circle cx="-2.5" cy="-17.5" r="0.65" fill="#fff"/><circle cx="-16.5" cy="-14.2" r="0.65" fill="#fff"/><circle cx="-13.4" cy="-14.2" r="0.65" fill="#fff"/><circle cx="-10.3" cy="-14.2" r="0.65" fill="#fff"/><circle cx="-7.2" cy="-14.2" r="0.65" fill="#fff"/><circle cx="-4.1" cy="-14.2" r="0.65" fill="#fff"/><circle cx="-1.0" cy="-14.2" r="0.65" fill="#fff"/><circle cx="-18.0" cy="-10.9" r="0.65" fill="#fff"/><circle cx="-14.9" cy="-10.9" r="0.65" fill="#fff"/><circle cx="-11.8" cy="-10.9" r="0.65" fill="#fff"/><circle cx="-8.7" cy="-10.9" r="0.65" fill="#fff"/><circle cx="-5.6" cy="-10.9" r="0.65" fill="#fff"/><circle cx="-2.5" cy="-10.9" r="0.65" fill="#fff"/><circle cx="-16.5" cy="-7.6" r="0.65" fill="#fff"/><circle cx="-13.4" cy="-7.6" r="0.65" fill="#fff"/><circle cx="-10.3" cy="-7.6" r="0.65" fill="#fff"/><circle cx="-7.2" cy="-7.6" r="0.65" fill="#fff"/><circle cx="-4.1" cy="-7.6" r="0.65" fill="#fff"/><circle cx="-1.0" cy="-7.6" r="0.65" fill="#fff"/><circle cx="-18.0" cy="-4.3" r="0.65" fill="#fff"/><circle cx="-14.9" cy="-4.3" r="0.65" fill="#fff"/><circle cx="-11.8" cy="-4.3" r="0.65" fill="#fff"/><circle cx="-8.7" cy="-4.3" r="0.65" fill="#fff"/><circle cx="-5.6" cy="-4.3" r="0.65" fill="#fff"/><circle cx="-2.5" cy="-4.3" r="0.65" fill="#fff"/><circle cx="-16.5" cy="-1.0" r="0.65" fill="#fff"/><circle cx="-13.4" cy="-1.0" r="0.65" fill="#fff"/><circle cx="-10.3" cy="-1.0" r="0.65" fill="#fff"/><circle cx="-7.2" cy="-1.0" r="0.65" fill="#fff"/><circle cx="-4.1" cy="-1.0" r="0.65" fill="#fff"/><circle cx="-1.0" cy="-1.0" r="0.65" fill="#fff"/></g></svg>
<div id="t53" class="t" style="left:272.70px;transform:scaleX(0.8468);top:550.9px;font-size:16px;font-weight:700;color:#111;">สหรัฐอเมริกา <span style="font-size:14px">0.116</span> ล้านตัน</div>
<div id="t54" class="t" style="left:300.00px;transform:scaleX(0.9045);top:573.6px;font-size:29px;font-weight:400;color:#d42a32;-webkit-text-stroke:1.1px #d42a32;">-25.16%</div>
<div id="t55" class="t" style="left:292.50px;transform:scaleX(0.6774);top:607.6px;font-size:16.5px;font-weight:400;color:#222;">ตลาดส่งออกสำคัญที่มี</div>
<div id="t56" class="t" style="left:281.00px;transform:scaleX(0.6726);top:625.2px;font-size:16.5px;font-weight:400;color:#222;">คำสั่งซื้อลดลงในต้นปี 2569</div>
<svg class="ab" style="left:446.1px;top:556.7px" width="43.0" height="43.0" viewBox="-21.5 -21.5 43.0 43.0"><defs><clipPath id="ciq"><circle r="19.5"/></clipPath></defs><circle r="20.7" fill="#cfcfcf"/><g clip-path="url(#ciq)"><rect x="-30" y="-30" width="60" height="23.6" fill="#ce1126"/><rect x="-30" y="-6.4" width="60" height="12.9" fill="#fff"/><rect x="-30" y="6.5" width="60" height="30" fill="#000"/><path d="M-12,3 L-4,3 M-2,3 L11,3 M-10,3 L-10,-2 M-7,3 L-7,0 M-4,3 L-4,-1 M1,3 L1,-3 M4,3 L4,-3 M7,3 L7,0 M10,3 L10,-1" stroke="#007a3d" stroke-width="1.4"/></g></svg>
<div id="t57" class="t" style="left:493.40px;transform:scaleX(0.8673);top:550.9px;font-size:16px;font-weight:700;color:#111;">อิรัก <span style="font-size:14px">0.092</span> ล้านตัน</div>
<div id="t58" class="t" style="left:493.00px;transform:scaleX(0.9073);top:573.6px;font-size:29px;font-weight:400;color:#d42a32;-webkit-text-stroke:1.1px #d42a32;">-52.58%</div>
<div id="t59" class="t" style="left:477.50px;transform:scaleX(0.6751);top:607.6px;font-size:16.5px;font-weight:400;color:#222;">เป็นตลาดที่มียอดการส่งออก</div>
<div id="t60" class="t" style="left:491.00px;transform:scaleX(0.6839);top:625.2px;font-size:16.5px;font-weight:400;color:#222;">ลดลงมากกว่าครึ่งหนึ่ง</div>
<svg class="ab" style="left:622.9px;top:556.4px" width="43.0" height="43.0" viewBox="-21.5 -21.5 43.0 43.0"><defs><clipPath id="cmy"><circle r="19.5"/></clipPath></defs><circle r="20.7" fill="#cfcfcf"/><g clip-path="url(#cmy)"><rect x="-30" y="-19.50" width="60" height="2.84" fill="#cc0001"/><rect x="-30" y="-16.71" width="60" height="2.84" fill="#fff"/><rect x="-30" y="-13.93" width="60" height="2.84" fill="#cc0001"/><rect x="-30" y="-11.14" width="60" height="2.84" fill="#fff"/><rect x="-30" y="-8.36" width="60" height="2.84" fill="#cc0001"/><rect x="-30" y="-5.57" width="60" height="2.84" fill="#fff"/><rect x="-30" y="-2.79" width="60" height="2.84" fill="#cc0001"/><rect x="-30" y="0.00" width="60" height="2.84" fill="#fff"/><rect x="-30" y="2.79" width="60" height="2.84" fill="#cc0001"/><rect x="-30" y="5.57" width="60" height="2.84" fill="#fff"/><rect x="-30" y="8.36" width="60" height="2.84" fill="#cc0001"/><rect x="-30" y="11.14" width="60" height="2.84" fill="#fff"/><rect x="-30" y="13.93" width="60" height="2.84" fill="#cc0001"/><rect x="-30" y="16.71" width="60" height="2.84" fill="#fff"/><rect x="-30" y="-19.5" width="39" height="22.50" fill="#010066"/><circle cx="-8.5" cy="-6.5" r="7" fill="#fc0"/><circle cx="-6.3" cy="-6.5" r="6" fill="#010066"/><circle cx="1" cy="-6.5" r="3.2" fill="#fc0"/><line x1="1" y1="-6.5" x2="6.0" y2="-6.5" stroke="#fc0" stroke-width="0.9"/><line x1="1" y1="-6.5" x2="5.5" y2="-4.3" stroke="#fc0" stroke-width="0.9"/><line x1="1" y1="-6.5" x2="4.1" y2="-2.6" stroke="#fc0" stroke-width="0.9"/><line x1="1" y1="-6.5" x2="2.1" y2="-1.6" stroke="#fc0" stroke-width="0.9"/><line x1="1" y1="-6.5" x2="-0.1" y2="-1.6" stroke="#fc0" stroke-width="0.9"/><line x1="1" y1="-6.5" x2="-2.1" y2="-2.6" stroke="#fc0" stroke-width="0.9"/><line x1="1" y1="-6.5" x2="-3.5" y2="-4.3" stroke="#fc0" stroke-width="0.9"/><line x1="1" y1="-6.5" x2="-4.0" y2="-6.5" stroke="#fc0" stroke-width="0.9"/><line x1="1" y1="-6.5" x2="-3.5" y2="-8.7" stroke="#fc0" stroke-width="0.9"/><line x1="1" y1="-6.5" x2="-2.1" y2="-10.4" stroke="#fc0" stroke-width="0.9"/><line x1="1" y1="-6.5" x2="-0.1" y2="-11.4" stroke="#fc0" stroke-width="0.9"/><line x1="1" y1="-6.5" x2="2.1" y2="-11.4" stroke="#fc0" stroke-width="0.9"/><line x1="1" y1="-6.5" x2="4.1" y2="-10.4" stroke="#fc0" stroke-width="0.9"/><line x1="1" y1="-6.5" x2="5.5" y2="-8.7" stroke="#fc0" stroke-width="0.9"/></g></svg>
<div id="t61" class="t" style="left:668.00px;transform:scaleX(0.8390);top:550.9px;font-size:16px;font-weight:700;color:#111;">มาเลเซีย <span style="font-size:14px">0.077</span> ล้านตัน</div>
<div id="t62" class="t" style="left:673.70px;transform:scaleX(0.8948);top:573.6px;font-size:29px;font-weight:400;color:#1f9a45;-webkit-text-stroke:1.1px #1f9a45;">+140.63%</div>
<div id="t63" class="t" style="left:681.00px;transform:scaleX(0.6154);top:607.6px;font-size:16.5px;font-weight:400;color:#222;">ตลาดที่มีการขยายตัวสูง</div>
<div id="t64" class="t" style="left:653.50px;transform:scaleX(0.6682);top:625.2px;font-size:16.5px;font-weight:400;color:#222;">เป็นอันดับต้นๆ ในช่วง 2 เดือนแรก</div>
<svg class="ab" style="left:819.4px;top:556.8px" width="43.0" height="43.0" viewBox="-21.5 -21.5 43.0 43.0"><defs><clipPath id="cph"><circle r="19.5"/></clipPath></defs><circle r="20.7" fill="#cfcfcf"/><g clip-path="url(#cph)"><rect x="-30" y="-30" width="60" height="30" fill="#0038a8"/><rect x="-30" y="0" width="60" height="30" fill="#ce1126"/><path d="M-27,-22 L1.5,0 L-27,22Z" fill="#fff"/><circle cx="-12" cy="0" r="3.6" fill="#fcd116"/><line x1="-12" y1="0" x2="-5.8" y2="0.0" stroke="#fcd116" stroke-width="1.3"/><line x1="-12" y1="0" x2="-7.6" y2="4.4" stroke="#fcd116" stroke-width="1.3"/><line x1="-12" y1="0" x2="-12.0" y2="6.2" stroke="#fcd116" stroke-width="1.3"/><line x1="-12" y1="0" x2="-16.4" y2="4.4" stroke="#fcd116" stroke-width="1.3"/><line x1="-12" y1="0" x2="-18.2" y2="0.0" stroke="#fcd116" stroke-width="1.3"/><line x1="-12" y1="0" x2="-16.4" y2="-4.4" stroke="#fcd116" stroke-width="1.3"/><line x1="-12" y1="0" x2="-12.0" y2="-6.2" stroke="#fcd116" stroke-width="1.3"/><line x1="-12" y1="0" x2="-7.6" y2="-4.4" stroke="#fcd116" stroke-width="1.3"/><circle cx="-20" cy="-11" r="1" fill="#fcd116"/><circle cx="-20" cy="11" r="1" fill="#fcd116"/><circle cx="-3" cy="0" r="1" fill="#fcd116"/></g></svg>
<div id="t65" class="t" style="left:865.00px;transform:scaleX(0.8665);top:550.9px;font-size:16px;font-weight:700;color:#111;">ฟิลิปปินส์ <span style="font-size:14px">0.067</span> ล้านตัน</div>
<div id="t66" class="t" style="left:875.40px;transform:scaleX(0.8827);top:573.6px;font-size:29px;font-weight:400;color:#1f9a45;-webkit-text-stroke:1.1px #1f9a45;">+157.69%</div>
<div id="t67" class="t" style="left:870.70px;transform:scaleX(0.6304);top:607.6px;font-size:16.5px;font-weight:400;color:#222;">เป็นตลาดที่มีอัตราการเติบโต</div>
<div id="t68" class="t" style="left:877.50px;transform:scaleX(0.6216);top:625.2px;font-size:16.5px;font-weight:400;color:#222;">สูงที่สุดในกลุ่มตลาดสำคัญ</div>
<div id="t69" class="t" style="left:8.00px;transform:scaleX(0.7831);top:659.4px;font-size:19.8px;font-weight:400;color:#222;">ที่มา : กรมการค้าต่างประเทศ กระทรวงพาณิชย์</div>
<div class="ab" style="left:888.7px;top:659.2px;width:129.2px;height:23px;background:#1e7dc8;"></div>
<div id="t70" class="t" style="left:896.20px;transform:scaleX(0.9328);top:663.3px;font-size:15.5px;font-weight:400;color:#fff;">ประชาชาติ<span style="color:#a8d6f7">กราฟิก</span></div>
</div>

<script>
(function(){
var F=[{"id": "t0", "w": 170, "align": "left", "x": 182}, {"id": "t1", "w": 171.5, "align": "left", "x": 772}, {"id": "t2", "w": 109, "align": "left", "x": 182}, {"id": "t3", "w": 86.5, "align": "left", "x": 180.5}, {"id": "t4", "w": 57.8, "align": "left", "x": 276.5}, {"id": "t5", "w": 38, "align": "left", "x": 182}, {"id": "t6", "w": 52.5, "align": "left", "x": 179.5}, {"id": "t7", "w": 150, "align": "left", "x": 243}, {"id": "t8", "w": 191, "align": "left", "x": 182.5}, {"id": "t9", "w": 118, "align": "left", "x": 491.5}, {"id": "t10", "w": 138.5, "align": "left", "x": 478.6}, {"id": "t11", "w": 108, "align": "left", "x": 784.2}, {"id": "t12", "w": 86.5, "align": "left", "x": 783.5}, {"id": "t13", "w": 57.5, "align": "left", "x": 878.4}, {"id": "t14", "w": 38, "align": "left", "x": 783.7}, {"id": "t15", "w": 57, "align": "left", "x": 784.5}, {"id": "t16", "w": 151, "align": "left", "x": 850.5}, {"id": "t17", "w": 193, "align": "left", "x": 783.5}, {"id": "t18", "w": 194, "align": "left", "x": 14.9}, {"id": "t19", "w": 151.2, "align": "left", "x": 219.1}, {"id": "t20", "w": 43.5, "align": "center", "x": 115.1}, {"id": "t21", "w": 41.8, "align": "center", "x": 115.1}, {"id": "t22", "w": 43.5, "align": "center", "x": 286.8}, {"id": "t23", "w": 41.8, "align": "center", "x": 286.8}, {"id": "t24", "w": 43.5, "align": "center", "x": 458}, {"id": "t25", "w": 41.8, "align": "center", "x": 458}, {"id": "t26", "w": 43.5, "align": "center", "x": 629}, {"id": "t27", "w": 41.8, "align": "center", "x": 629}, {"id": "t28", "w": 43.5, "align": "center", "x": 802.9}, {"id": "t29", "w": 41.8, "align": "center", "x": 802.9}, {"id": "t30", "w": 43.5, "align": "center", "x": 979.2}, {"id": "t31", "w": 41.8, "align": "center", "x": 979.2}, {"id": "t32", "w": 51.8, "align": "left", "x": 7.3}, {"id": "t33", "w": 51.5, "align": "left", "x": 90.5}, {"id": "t34", "w": 134, "align": "left", "x": 10.3}, {"id": "t35", "w": 24, "align": "center", "x": 204.7}, {"id": "t36", "w": 80.6, "align": "center", "x": 204.7}, {"id": "t37", "w": 51.5, "align": "left", "x": 267.5}, {"id": "t38", "w": 134, "align": "left", "x": 180.5}, {"id": "t39", "w": 46.5, "align": "left", "x": 352.9}, {"id": "t40", "w": 65.2, "align": "left", "x": 427.3}, {"id": "t41", "w": 23.4, "align": "center", "x": 548.3}, {"id": "t42", "w": 54.7, "align": "center", "x": 548.3}, {"id": "t43", "w": 62.3, "align": "left", "x": 603.4}, {"id": "t44", "w": 73.8, "align": "left", "x": 682.6}, {"id": "t45", "w": 62.1, "align": "left", "x": 780.1}, {"id": "t46", "w": 68.1, "align": "left", "x": 865.9}, {"id": "t47", "w": 61.8, "align": "left", "x": 955.7}, {"id": "t48", "w": 234, "align": "left", "x": 42.9}, {"id": "t49", "w": 140.5, "align": "left", "x": 69}, {"id": "t50", "w": 102.5, "align": "left", "x": 88}, {"id": "t51", "w": 112, "align": "center", "x": 139}, {"id": "t52", "w": 176, "align": "center", "x": 139}, {"id": "t53", "w": 158.5, "align": "left", "x": 272.7}, {"id": "t54", "w": 97.7, "align": "left", "x": 300}, {"id": "t55", "w": 105, "align": "center", "x": 345}, {"id": "t56", "w": 128, "align": "center", "x": 345}, {"id": "t57", "w": 107.5, "align": "left", "x": 493.4}, {"id": "t58", "w": 98, "align": "left", "x": 493}, {"id": "t59", "w": 133, "align": "center", "x": 544}, {"id": "t60", "w": 106, "align": "center", "x": 544}, {"id": "t61", "w": 130, "align": "left", "x": 668}, {"id": "t62", "w": 117.6, "align": "left", "x": 673.7}, {"id": "t63", "w": 104, "align": "center", "x": 733}, {"id": "t64", "w": 159, "align": "center", "x": 733}, {"id": "t65", "w": 136, "align": "left", "x": 865}, {"id": "t66", "w": 116, "align": "left", "x": 875.4}, {"id": "t67", "w": 128.6, "align": "center", "x": 935}, {"id": "t68", "w": 115, "align": "center", "x": 935}, {"id": "t69", "w": 314, "align": "left", "x": 8}, {"id": "t70", "w": 113.8, "align": "left", "x": 896.2}];
for(var i=0;i<F.length;i++){var f=F[i];if(!f.w)continue;var e=document.getElementById(f.id);if(!e)continue;
e.style.transform='none';var nw=e.getBoundingClientRect().width;if(!nw)continue;var k=f.w/nw;
var L;if(f.align=='center'){L=f.x-f.w/2}else if(f.align=='right'){L=f.x-f.w}else{L=f.x}
e.style.left=L+'px';e.style.transform='scaleX('+k.toFixed(4)+')';}
})();
</script>

</body></html>
